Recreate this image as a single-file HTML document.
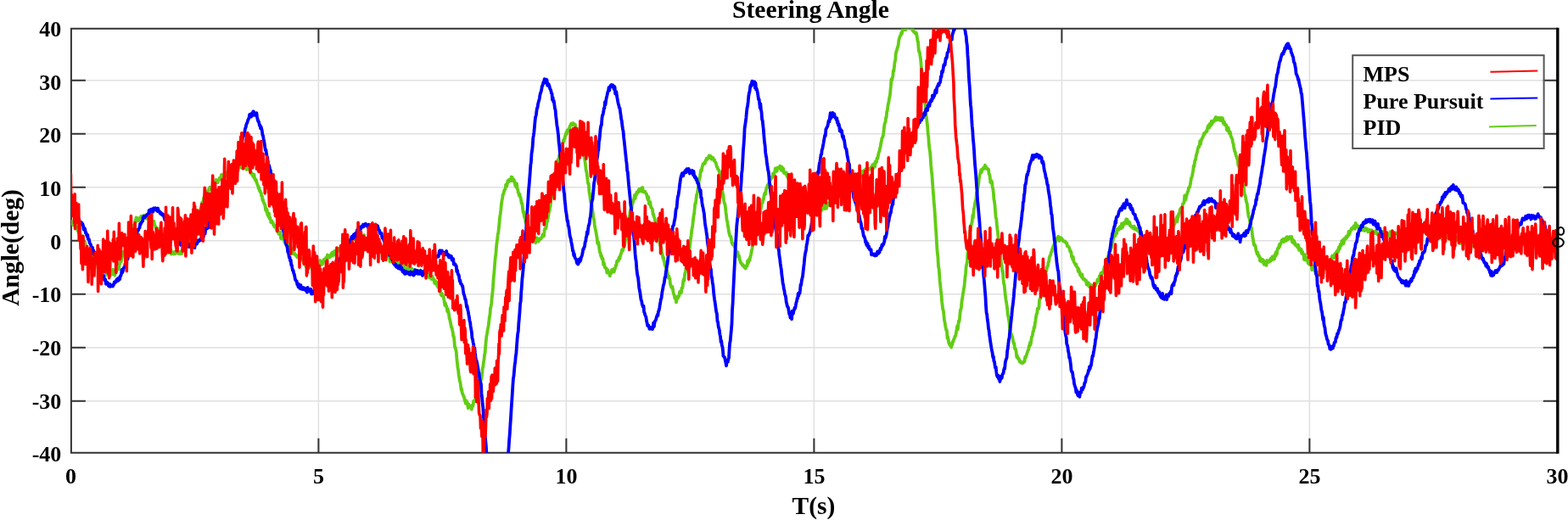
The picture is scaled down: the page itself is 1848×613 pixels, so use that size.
<!DOCTYPE html><html><head><meta charset="utf-8"><title>Steering Angle</title><style>html,body{margin:0;padding:0;background:#fff;}svg{display:block}</style></head><body>
<svg width="1848" height="613" viewBox="0 0 1848 613">
<rect x="0" y="0" width="1848" height="613" fill="#fff"/>
<defs><clipPath id="c"><rect x="83.9" y="33.7" width="1751.8999999999999" height="500.09999999999997"/></clipPath></defs>
<path d="M375.40 33.7V533.8M667.40 33.7V533.8M959.40 33.7V533.8M1251.40 33.7V533.8M1543.40 33.7V533.8M83.9 94.75H1835.8M83.9 157.75H1835.8M83.9 220.75H1835.8M83.9 283.75H1835.8M83.9 346.75H1835.8M83.9 409.75H1835.8M83.9 472.75H1835.8" stroke="#e0e0e0" stroke-width="1.5" fill="none"/>
<path d="M375.40 533.8v-17M375.40 33.7v17M667.40 533.8v-17M667.40 33.7v17M959.40 533.8v-17M959.40 33.7v17M1251.40 533.8v-17M1251.40 33.7v17M1543.40 533.8v-17M1543.40 33.7v17M83.9 94.75h17M1835.8 94.75h-17M83.9 157.75h17M1835.8 157.75h-17M83.9 220.75h17M1835.8 220.75h-17M83.9 283.75h17M1835.8 283.75h-17M83.9 346.75h17M1835.8 346.75h-17M83.9 409.75h17M1835.8 409.75h-17M83.9 472.75h17M1835.8 472.75h-17" stroke="#333" stroke-width="2" fill="none"/>
<path d="M1835.8 33.7H83.9V533.8H1835.8" stroke="#333" stroke-width="2" fill="none"/>
<g clip-path="url(#c)" fill="none" stroke-linejoin="round" stroke-linecap="round">
<polyline points="83.4,260.8 84.0,261.2 84.6,264.0 85.2,261.0 85.7,264.3 86.3,265.3 86.9,265.0 87.5,264.8 88.1,264.1 88.7,264.9 89.2,266.6 89.8,265.8 90.4,267.9 91.0,267.4 91.6,272.0 92.2,273.3 92.7,270.7 93.3,275.4 93.9,275.0 94.5,276.0 95.1,278.0 95.7,279.3 96.2,277.8 96.8,285.3 97.4,281.2 98.0,280.1 98.6,284.9 99.2,286.1 99.8,286.1 100.3,285.6 100.9,291.6 101.5,290.8 102.1,292.4 102.7,292.4 103.3,294.2 103.8,294.6 104.4,297.5 105.0,297.9 105.6,300.1 106.2,301.2 106.8,301.4 107.3,302.4 107.9,305.0 108.5,301.6 109.1,305.2 109.7,308.0 110.3,304.9 110.8,308.5 111.4,307.3 112.0,308.9 112.6,309.2 113.2,310.0 113.8,311.9 114.4,311.6 114.9,309.1 115.5,316.5 116.1,313.5 116.7,313.5 117.3,316.4 117.9,317.5 118.4,312.5 119.0,317.0 119.6,313.7 120.2,316.6 120.8,317.8 121.4,317.7 121.9,317.9 122.5,317.5 123.1,319.2 123.7,320.2 124.3,320.6 124.9,319.3 125.4,320.6 126.0,323.9 126.6,323.7 127.2,322.6 127.8,324.4 128.4,324.3 129.0,325.4 129.5,324.4 130.1,323.4 130.7,322.4 131.3,323.8 131.9,320.3 132.5,323.3 133.0,317.7 133.6,320.6 134.2,320.8 134.8,321.7 135.4,324.6 136.0,319.6 136.5,318.3 137.1,314.8 137.7,319.1 138.3,313.1 138.9,315.6 139.5,313.2 140.0,317.3 140.6,311.9 141.2,311.3 141.8,308.3 142.4,307.8 143.0,308.2 143.6,303.3 144.1,302.0 144.7,300.5 145.3,298.2 145.9,296.4 146.5,296.5 147.1,296.9 147.6,295.4 148.2,289.5 148.8,288.8 149.4,288.0 150.0,287.0 150.6,284.5 151.1,282.6 151.7,281.3 152.3,280.1 152.9,273.8 153.5,275.1 154.1,274.7 154.6,274.2 155.2,271.8 155.8,268.1 156.4,266.8 157.0,267.1 157.6,265.5 158.2,264.9 158.7,265.1 159.3,260.2 159.9,260.7 160.5,256.5 161.1,260.8 161.7,259.2 162.2,257.2 162.8,258.6 163.4,260.0 164.0,259.0 164.6,257.1 165.2,256.4 165.7,256.8 166.3,254.8 166.9,254.6 167.5,255.5 168.1,255.8 168.7,256.1 169.2,254.7 169.8,254.0 170.4,255.3 171.0,254.7 171.6,256.0 172.2,257.8 172.8,257.3 173.3,254.8 173.9,255.7 174.5,254.2 175.1,257.1 175.7,256.3 176.3,256.1 176.8,257.2 177.4,260.3 178.0,260.2 178.6,260.3 179.2,262.6 179.8,261.0 180.3,260.7 180.9,263.9 181.5,260.9 182.1,265.3 182.7,266.2 183.3,267.3 183.8,269.2 184.4,268.5 185.0,270.3 185.6,269.0 186.2,271.8 186.8,273.1 187.4,275.5 187.9,278.5 188.5,277.6 189.1,280.0 189.7,278.4 190.3,281.2 190.9,279.9 191.4,282.8 192.0,284.1 192.6,286.4 193.2,287.8 193.8,288.4 194.4,289.3 194.9,293.0 195.5,292.1 196.1,289.7 196.7,294.7 197.3,295.5 197.9,296.6 198.4,298.3 199.0,294.6 199.6,296.8 200.2,296.8 200.8,294.8 201.4,294.1 202.0,299.7 202.5,297.0 203.1,297.9 203.7,298.5 204.3,298.5 204.9,299.4 205.5,297.0 206.0,298.5 206.6,298.9 207.2,297.4 207.8,297.9 208.4,298.4 209.0,298.5 209.5,296.0 210.1,297.7 210.7,298.4 211.3,299.3 211.9,298.1 212.5,298.9 213.0,296.7 213.6,296.0 214.2,299.2 214.8,295.5 215.4,294.1 216.0,294.4 216.6,295.7 217.1,291.7 217.7,294.3 218.3,294.6 218.9,293.7 219.5,291.3 220.1,288.9 220.6,287.7 221.2,288.2 221.8,289.3 222.4,287.4 223.0,286.6 223.6,284.3 224.1,285.5 224.7,281.3 225.3,279.1 225.9,279.0 226.5,276.7 227.1,277.5 227.6,276.7 228.2,273.7 228.8,269.1 229.4,267.3 230.0,267.7 230.6,263.0 231.2,263.3 231.7,258.4 232.3,257.9 232.9,257.3 233.5,253.4 234.1,253.9 234.7,252.3 235.2,251.4 235.8,247.0 236.4,245.8 237.0,244.2 237.6,243.0 238.2,238.4 238.7,239.7 239.3,238.6 239.9,234.0 240.5,232.3 241.1,232.6 241.7,234.6 242.2,231.6 242.8,228.6 243.4,228.5 244.0,225.1 244.6,228.8 245.2,224.7 245.8,225.8 246.3,221.9 246.9,223.3 247.5,220.8 248.1,222.6 248.7,223.1 249.3,221.9 249.8,220.4 250.4,220.3 251.0,216.1 251.6,215.3 252.2,216.3 252.8,217.7 253.3,215.7 253.9,216.0 254.5,212.0 255.1,213.2 255.7,212.4 256.3,213.2 256.8,215.2 257.4,212.7 258.0,212.7 258.6,209.8 259.2,209.7 259.8,210.6 260.4,209.5 260.9,205.9 261.5,209.4 262.1,208.9 262.7,207.4 263.3,207.7 263.9,206.9 264.4,204.9 265.0,202.7 265.6,207.8 266.2,204.7 266.8,204.2 267.4,204.0 267.9,203.8 268.5,203.7 269.1,201.3 269.7,203.3 270.3,202.4 270.9,201.9 271.4,201.4 272.0,201.5 272.6,199.4 273.2,200.7 273.8,200.1 274.4,200.2 275.0,201.4 275.5,200.9 276.1,201.0 276.7,198.8 277.3,199.9 277.9,200.2 278.5,197.9 279.0,197.1 279.6,200.5 280.2,194.8 280.8,197.1 281.4,197.1 282.0,195.0 282.5,196.4 283.1,197.3 283.7,192.8 284.3,197.9 284.9,196.3 285.5,194.9 286.0,198.0 286.6,196.6 287.2,196.0 287.8,193.0 288.4,198.4 289.0,197.3 289.6,196.5 290.1,197.7 290.7,200.0 291.3,197.8 291.9,198.6 292.5,198.6 293.1,198.1 293.6,198.9 294.2,200.5 294.8,201.3 295.4,204.2 296.0,203.4 296.6,203.7 297.1,205.6 297.7,205.7 298.3,208.2 298.9,205.6 299.5,205.7 300.1,210.9 300.6,210.8 301.2,213.1 301.8,212.0 302.4,214.6 303.0,216.5 303.6,218.3 304.2,219.2 304.7,222.3 305.3,221.1 305.9,224.9 306.5,224.6 307.1,227.0 307.7,227.3 308.2,230.9 308.8,231.1 309.4,236.0 310.0,235.4 310.6,238.4 311.2,239.3 311.7,241.1 312.3,241.3 312.9,247.4 313.5,245.3 314.1,249.6 314.7,246.8 315.2,253.2 315.8,253.0 316.4,255.5 317.0,251.6 317.6,257.5 318.2,256.5 318.8,258.8 319.3,262.1 319.9,261.0 320.5,260.6 321.1,263.0 321.7,262.3 322.3,265.4 322.8,265.8 323.4,267.4 324.0,267.2 324.6,265.6 325.2,268.9 325.8,270.0 326.3,272.1 326.9,273.1 327.5,270.5 328.1,275.3 328.7,275.8 329.3,275.3 329.8,276.6 330.4,273.6 331.0,281.2 331.6,277.6 332.2,277.9 332.8,281.6 333.4,281.6 333.9,280.7 334.5,279.7 335.1,284.5 335.7,286.4 336.3,283.2 336.9,283.2 337.4,287.0 338.0,290.8 338.6,285.9 339.2,289.3 339.8,288.0 340.4,290.7 340.9,292.0 341.5,292.9 342.1,290.6 342.7,291.4 343.3,297.8 343.9,296.6 344.4,293.0 345.0,297.0 345.6,299.3 346.2,297.8 346.8,298.6 347.4,299.2 348.0,300.4 348.5,300.8 349.1,301.6 349.7,301.0 350.3,303.4 350.9,303.1 351.5,303.4 352.0,301.7 352.6,303.7 353.2,305.0 353.8,304.5 354.4,305.2 355.0,304.6 355.5,306.0 356.1,304.5 356.7,305.7 357.3,308.5 357.9,309.6 358.5,308.1 359.0,309.2 359.6,310.6 360.2,313.3 360.8,314.3 361.4,311.3 362.0,311.0 362.6,311.3 363.1,314.8 363.7,311.4 364.3,314.1 364.9,312.7 365.5,312.7 366.1,314.6 366.6,314.2 367.2,316.5 367.8,314.6 368.4,315.8 369.0,312.2 369.6,312.6 370.1,311.1 370.7,311.8 371.3,313.1 371.9,311.4 372.5,312.3 373.1,310.5 373.6,310.7 374.2,312.5 374.8,310.7 375.4,310.4 376.0,310.7 376.6,308.5 377.2,307.0 377.7,309.9 378.3,309.6 378.9,312.2 379.5,308.5 380.1,308.6 380.7,310.9 381.2,306.6 381.8,305.7 382.4,307.3 383.0,306.3 383.6,306.8 384.2,303.6 384.7,306.8 385.3,304.4 385.9,300.4 386.5,303.0 387.1,301.9 387.7,302.5 388.2,303.7 388.8,301.5 389.4,300.4 390.0,302.2 390.6,299.6 391.2,297.8 391.8,297.6 392.3,301.4 392.9,300.0 393.5,300.6 394.1,296.0 394.7,296.3 395.3,295.7 395.8,297.8 396.4,297.8 397.0,295.4 397.6,294.9 398.2,296.0 398.8,294.0 399.3,292.8 399.9,293.0 400.5,294.5 401.1,295.8 401.7,292.4 402.3,291.3 402.8,291.5 403.4,291.3 404.0,291.3 404.6,288.7 405.2,289.5 405.8,288.8 406.4,290.1 406.9,289.1 407.5,287.5 408.1,288.9 408.7,288.9 409.3,287.1 409.9,284.3 410.4,285.5 411.0,283.1 411.6,285.2 412.2,285.1 412.8,286.4 413.4,284.8 413.9,281.3 414.5,282.7 415.1,281.8 415.7,281.6 416.3,282.5 416.9,282.6 417.4,281.9 418.0,280.8 418.6,280.9 419.2,280.6 419.8,281.0 420.4,282.3 421.0,281.3 421.5,282.3 422.1,279.1 422.7,283.9 423.3,280.9 423.9,276.9 424.5,281.2 425.0,282.5 425.6,280.9 426.2,278.9 426.8,281.3 427.4,280.3 428.0,281.3 428.5,282.2 429.1,276.9 429.7,281.9 430.3,283.1 430.9,283.3 431.5,282.2 432.0,282.4 432.6,282.0 433.2,283.3 433.8,286.0 434.4,283.2 435.0,284.8 435.6,285.1 436.1,287.3 436.7,286.2 437.3,286.8 437.9,286.2 438.5,288.8 439.1,286.9 439.6,287.2 440.2,289.7 440.8,289.4 441.4,290.2 442.0,287.9 442.6,293.9 443.1,290.9 443.7,293.6 444.3,292.1 444.9,290.7 445.5,293.5 446.1,292.9 446.6,294.9 447.2,291.1 447.8,293.2 448.4,293.4 449.0,297.8 449.6,297.9 450.2,295.0 450.7,297.5 451.3,298.0 451.9,297.5 452.5,300.5 453.1,297.8 453.7,299.4 454.2,299.2 454.8,301.5 455.4,300.1 456.0,302.5 456.6,300.4 457.2,300.6 457.7,301.4 458.3,302.5 458.9,302.8 459.5,308.5 460.1,303.4 460.7,305.6 461.2,305.5 461.8,306.6 462.4,308.8 463.0,307.9 463.6,306.4 464.2,305.6 464.8,309.3 465.3,310.1 465.9,306.8 466.5,310.9 467.1,306.6 467.7,310.1 468.3,312.0 468.8,309.4 469.4,308.6 470.0,313.9 470.6,309.5 471.2,312.7 471.8,310.3 472.3,313.6 472.9,315.8 473.5,312.8 474.1,312.5 474.7,310.9 475.3,311.8 475.8,313.8 476.4,315.5 477.0,316.3 477.6,316.2 478.2,317.3 478.8,316.7 479.4,320.6 479.9,316.5 480.5,317.1 481.1,313.3 481.7,316.4 482.3,318.5 482.9,317.1 483.4,320.1 484.0,319.3 484.6,321.5 485.2,316.5 485.8,318.0 486.4,320.9 486.9,319.3 487.5,317.9 488.1,318.8 488.7,319.1 489.3,321.2 489.9,320.9 490.4,319.9 491.0,318.7 491.6,321.6 492.2,322.2 492.8,318.8 493.4,322.2 494.0,319.2 494.5,320.7 495.1,319.8 495.7,318.6 496.3,320.5 496.9,320.5 497.5,323.4 498.0,323.2 498.6,321.3 499.2,320.0 499.8,320.5 500.4,319.2 501.0,322.5 501.5,322.9 502.1,321.9 502.7,323.6 503.3,324.0 503.9,325.8 504.5,322.8 505.0,326.3 505.6,324.1 506.2,327.5 506.8,323.8 507.4,327.5 508.0,324.9 508.6,329.1 509.1,327.7 509.7,325.7 510.3,329.4 510.9,328.6 511.5,330.2 512.1,333.8 512.6,330.6 513.2,331.2 513.8,334.6 514.4,332.9 515.0,336.1 515.6,337.5 516.1,337.0 516.7,339.3 517.3,335.7 517.9,343.0 518.5,340.6 519.1,341.4 519.6,347.3 520.2,348.2 520.8,345.9 521.4,348.8 522.0,348.8 522.6,349.1 523.2,353.0 523.7,355.7 524.3,360.0 524.9,357.2 525.5,360.8 526.1,360.7 526.7,362.7 527.2,367.3 527.8,364.4 528.4,367.5 529.0,370.0 529.6,375.4 530.2,376.6 530.7,379.3 531.3,381.8 531.9,385.7 532.5,386.0 533.1,389.2 533.7,391.9 534.2,396.2 534.8,396.5 535.4,401.4 536.0,409.3 536.6,409.5 537.2,412.4 537.8,415.1 538.3,422.2 538.9,427.5 539.5,433.5 540.1,436.2 540.7,442.0 541.3,445.6 541.8,449.1 542.4,450.3 543.0,455.1 543.6,459.8 544.2,458.9 544.8,463.6 545.3,464.2 545.9,466.3 546.5,466.8 547.1,468.6 547.7,472.4 548.3,472.8 548.8,475.6 549.4,472.0 550.0,474.9 550.6,474.2 551.2,477.8 551.8,481.2 552.4,476.3 552.9,479.1 553.5,479.5 554.1,479.9 554.7,479.2 555.3,479.5 555.9,482.6 556.4,477.7 557.0,479.1 557.6,477.7 558.2,472.6 558.8,472.1 559.4,472.3 559.9,472.8 560.5,467.9 561.1,465.6 561.7,465.0 562.3,465.3 562.9,463.1 563.4,462.2 564.0,458.2 564.6,455.5 565.2,453.3 565.8,454.0 566.4,450.3 567.0,447.3 567.5,446.1 568.1,441.9 568.7,434.3 569.3,432.8 569.9,427.0 570.5,424.2 571.0,418.4 571.6,416.2 572.2,408.7 572.8,402.2 573.4,396.4 574.0,393.6 574.5,390.2 575.1,387.0 575.7,383.8 576.3,378.8 576.9,373.2 577.5,370.9 578.0,363.4 578.6,361.5 579.2,357.5 579.8,350.6 580.4,345.6 581.0,338.9 581.6,328.5 582.1,324.1 582.7,316.8 583.3,308.8 583.9,302.3 584.5,298.9 585.1,290.1 585.6,286.1 586.2,281.5 586.8,275.9 587.4,273.8 588.0,267.8 588.6,261.7 589.1,255.6 589.7,252.3 590.3,247.3 590.9,241.1 591.5,236.4 592.1,233.6 592.6,229.5 593.2,229.3 593.8,226.8 594.4,224.0 595.0,223.6 595.6,222.5 596.2,217.7 596.7,219.4 597.3,219.4 597.9,216.0 598.5,212.8 599.1,214.6 599.7,211.9 600.2,213.8 600.8,213.3 601.4,213.1 602.0,211.8 602.6,208.5 603.2,213.1 603.7,208.8 604.3,213.3 604.9,212.7 605.5,211.7 606.1,213.0 606.7,214.6 607.2,218.8 607.8,217.0 608.4,220.6 609.0,216.4 609.6,222.3 610.2,223.3 610.8,227.1 611.3,227.7 611.9,230.6 612.5,228.7 613.1,232.4 613.7,233.2 614.3,237.5 614.8,239.8 615.4,239.7 616.0,246.1 616.6,250.3 617.2,249.7 617.8,255.0 618.3,256.6 618.9,257.1 619.5,262.2 620.1,261.7 620.7,265.9 621.3,264.1 621.8,265.9 622.4,270.2 623.0,271.2 623.6,273.5 624.2,273.1 624.8,272.8 625.4,277.9 625.9,275.2 626.5,279.5 627.1,279.6 627.7,281.9 628.3,276.5 628.9,280.5 629.4,281.0 630.0,283.1 630.6,280.9 631.2,286.4 631.8,283.4 632.4,280.2 632.9,284.4 633.5,283.7 634.1,282.5 634.7,284.6 635.3,283.0 635.9,281.1 636.4,281.9 637.0,281.1 637.6,281.7 638.2,280.1 638.8,279.8 639.4,276.6 640.0,276.4 640.5,276.4 641.1,278.2 641.7,271.3 642.3,269.2 642.9,269.7 643.5,269.1 644.0,265.5 644.6,260.0 645.2,260.9 645.8,257.5 646.4,253.8 647.0,249.4 647.5,248.3 648.1,245.2 648.7,242.6 649.3,235.6 649.9,233.0 650.5,231.2 651.0,229.5 651.6,224.9 652.2,219.1 652.8,217.5 653.4,211.4 654.0,208.7 654.6,205.5 655.1,201.7 655.7,198.9 656.3,198.2 656.9,194.8 657.5,188.1 658.1,191.3 658.6,187.7 659.2,182.8 659.8,182.4 660.4,181.1 661.0,179.6 661.6,174.5 662.1,171.6 662.7,168.9 663.3,169.0 663.9,165.5 664.5,167.0 665.1,163.3 665.6,163.0 666.2,160.2 666.8,157.9 667.4,156.1 668.0,158.1 668.6,153.3 669.2,154.7 669.7,154.4 670.3,151.8 670.9,152.7 671.5,149.3 672.1,147.8 672.7,147.7 673.2,145.8 673.8,146.5 674.4,145.5 675.0,147.5 675.6,145.1 676.2,146.6 676.7,146.4 677.3,146.4 677.9,146.8 678.5,150.7 679.1,151.8 679.7,151.2 680.2,151.5 680.8,153.3 681.4,154.3 682.0,155.5 682.6,158.7 683.2,161.5 683.8,165.1 684.3,167.1 684.9,168.4 685.5,169.3 686.1,171.6 686.7,174.5 687.3,177.7 687.8,179.6 688.4,183.6 689.0,187.1 689.6,190.9 690.2,196.1 690.8,200.9 691.3,202.6 691.9,206.9 692.5,212.1 693.1,216.5 693.7,216.4 694.3,225.2 694.8,228.2 695.4,231.2 696.0,237.1 696.6,238.6 697.2,239.5 697.8,244.5 698.4,248.6 698.9,252.4 699.5,256.8 700.1,259.1 700.7,264.5 701.3,268.4 701.9,271.1 702.4,273.2 703.0,277.4 703.6,280.0 704.2,287.2 704.8,285.0 705.4,285.8 705.9,289.8 706.5,294.7 707.1,297.8 707.7,298.1 708.3,302.1 708.9,301.3 709.4,305.0 710.0,304.4 710.6,305.3 711.2,312.2 711.8,309.9 712.4,313.0 713.0,315.7 713.5,315.9 714.1,316.8 714.7,316.2 715.3,321.5 715.9,318.7 716.5,318.2 717.0,321.3 717.6,322.0 718.2,323.3 718.8,325.3 719.4,322.5 720.0,322.5 720.5,321.5 721.1,318.0 721.7,320.2 722.3,319.9 722.9,317.1 723.5,320.7 724.0,319.2 724.6,316.8 725.2,316.0 725.8,312.6 726.4,312.9 727.0,308.3 727.6,307.3 728.1,307.2 728.7,307.7 729.3,304.8 729.9,303.3 730.5,304.9 731.1,301.4 731.6,299.4 732.2,298.7 732.8,295.1 733.4,294.1 734.0,295.7 734.6,292.4 735.1,292.1 735.7,288.0 736.3,288.2 736.9,283.3 737.5,281.9 738.1,278.3 738.6,276.8 739.2,275.2 739.8,266.2 740.4,265.2 741.0,258.7 741.6,256.5 742.2,252.7 742.7,248.1 743.3,248.0 743.9,243.9 744.5,246.1 745.1,240.2 745.7,239.8 746.2,237.7 746.8,235.6 747.4,233.4 748.0,229.9 748.6,234.1 749.2,230.1 749.7,230.4 750.3,226.6 750.9,228.2 751.5,226.0 752.1,226.6 752.7,224.2 753.2,223.0 753.8,224.7 754.4,223.5 755.0,225.4 755.6,222.4 756.2,221.4 756.8,223.5 757.3,221.0 757.9,226.3 758.5,226.4 759.1,226.4 759.7,225.7 760.3,225.9 760.8,227.1 761.4,228.3 762.0,228.3 762.6,231.6 763.2,234.3 763.8,235.8 764.3,232.1 764.9,240.7 765.5,238.9 766.1,237.9 766.7,241.1 767.3,244.7 767.8,245.1 768.4,245.6 769.0,247.2 769.6,252.7 770.2,252.5 770.8,255.8 771.4,257.0 771.9,259.2 772.5,264.6 773.1,269.1 773.7,268.9 774.3,269.4 774.9,273.8 775.4,277.2 776.0,276.3 776.6,284.1 777.2,283.4 777.8,288.2 778.4,289.6 778.9,291.9 779.5,292.1 780.1,298.4 780.7,300.2 781.3,304.2 781.9,303.3 782.4,307.1 783.0,308.0 783.6,312.7 784.2,313.8 784.8,313.7 785.4,317.8 786.0,318.6 786.5,320.7 787.1,324.0 787.7,327.7 788.3,325.5 788.9,328.4 789.5,328.8 790.0,335.2 790.6,336.4 791.2,338.9 791.8,338.7 792.4,337.8 793.0,341.0 793.5,344.5 794.1,346.8 794.7,348.2 795.3,351.8 795.9,352.0 796.5,352.8 797.0,356.4 797.6,353.1 798.2,349.7 798.8,351.6 799.4,350.1 800.0,349.5 800.6,347.9 801.1,343.8 801.7,344.4 802.3,343.8 802.9,345.3 803.5,339.4 804.1,339.7 804.6,337.7 805.2,331.5 805.8,329.3 806.4,330.9 807.0,323.7 807.6,321.2 808.1,319.9 808.7,314.1 809.3,314.3 809.9,310.0 810.5,306.7 811.1,302.4 811.6,295.5 812.2,295.2 812.8,291.2 813.4,287.1 814.0,281.2 814.6,277.7 815.2,271.4 815.7,269.3 816.3,265.7 816.9,260.0 817.5,254.7 818.1,252.0 818.7,246.1 819.2,239.9 819.8,240.1 820.4,235.4 821.0,229.7 821.6,229.1 822.2,225.7 822.7,222.4 823.3,216.5 823.9,212.9 824.5,210.7 825.1,207.3 825.7,202.4 826.2,200.4 826.8,201.6 827.4,197.4 828.0,195.5 828.6,193.2 829.2,193.5 829.8,193.1 830.3,191.7 830.9,192.8 831.5,189.1 832.1,189.1 832.7,186.6 833.3,188.2 833.8,186.6 834.4,186.9 835.0,186.5 835.6,183.4 836.2,185.1 836.8,183.6 837.3,186.1 837.9,184.4 838.5,187.6 839.1,186.2 839.7,186.9 840.3,185.9 840.8,187.5 841.4,189.0 842.0,188.5 842.6,190.6 843.2,191.3 843.8,192.2 844.4,194.9 844.9,196.7 845.5,197.1 846.1,199.8 846.7,200.0 847.3,200.7 847.9,203.3 848.4,207.9 849.0,212.3 849.6,213.6 850.2,217.2 850.8,218.9 851.4,225.0 851.9,228.5 852.5,230.9 853.1,236.5 853.7,239.7 854.3,240.2 854.9,244.0 855.4,249.2 856.0,253.7 856.6,259.6 857.2,261.1 857.8,265.7 858.4,269.0 859.0,273.3 859.5,275.3 860.1,277.8 860.7,278.8 861.3,278.7 861.9,281.9 862.5,286.4 863.0,286.6 863.6,288.7 864.2,288.6 864.8,287.6 865.4,289.0 866.0,291.7 866.5,291.6 867.1,294.5 867.7,297.0 868.3,298.5 868.9,299.2 869.5,297.2 870.0,303.2 870.6,300.8 871.2,302.3 871.8,306.2 872.4,307.5 873.0,309.9 873.6,310.3 874.1,310.4 874.7,312.6 875.3,311.9 875.9,312.4 876.5,314.3 877.1,314.7 877.6,315.4 878.2,314.6 878.8,316.5 879.4,313.4 880.0,312.8 880.6,313.4 881.1,307.3 881.7,310.7 882.3,308.9 882.9,305.3 883.5,306.9 884.1,303.1 884.6,302.3 885.2,299.3 885.8,295.9 886.4,293.1 887.0,289.8 887.6,288.2 888.2,285.5 888.7,284.0 889.3,283.1 889.9,277.8 890.5,277.3 891.1,274.5 891.7,268.0 892.2,266.0 892.8,263.7 893.4,259.8 894.0,256.6 894.6,257.2 895.2,252.5 895.7,251.7 896.3,247.2 896.9,246.1 897.5,240.5 898.1,239.5 898.7,239.3 899.2,235.8 899.8,235.5 900.4,231.4 901.0,228.6 901.6,227.2 902.2,228.9 902.8,224.7 903.3,221.9 903.9,220.9 904.5,218.1 905.1,220.6 905.7,216.3 906.3,216.8 906.8,214.0 907.4,212.4 908.0,210.6 908.6,211.3 909.2,208.8 909.8,209.7 910.3,208.9 910.9,204.7 911.5,204.6 912.1,206.0 912.7,203.9 913.3,201.7 913.8,198.5 914.4,198.6 915.0,198.3 915.6,201.9 916.2,198.9 916.8,197.7 917.4,197.6 917.9,197.5 918.5,198.6 919.1,195.6 919.7,196.3 920.3,199.1 920.9,200.9 921.4,196.6 922.0,201.2 922.6,199.1 923.2,198.6 923.8,203.8 924.4,202.7 924.9,204.5 925.5,203.9 926.1,205.1 926.7,203.4 927.3,206.5 927.9,208.3 928.4,207.5 929.0,210.6 929.6,211.7 930.2,208.5 930.8,214.1 931.4,214.5 932.0,214.5 932.5,217.0 933.1,219.6 933.7,215.6 934.3,219.4 934.9,220.1 935.5,220.8 936.0,222.9 936.6,224.1 937.2,223.3 937.8,220.8 938.4,224.6 939.0,225.6 939.5,230.3 940.1,229.0 940.7,231.9 941.3,229.8 941.9,232.3 942.5,232.8 943.0,233.9 943.6,235.5 944.2,237.7 944.8,235.2 945.4,239.0 946.0,239.5 946.6,238.8 947.1,240.3 947.7,239.5 948.3,239.1 948.9,241.0 949.5,241.9 950.1,242.8 950.6,242.2 951.2,247.1 951.8,244.2 952.4,246.8 953.0,247.8 953.6,246.2 954.1,247.2 954.7,246.0 955.3,245.4 955.9,250.9 956.5,247.4 957.1,244.2 957.6,245.9 958.2,245.0 958.8,247.0 959.4,249.4 960.0,248.8 960.6,245.8 961.2,245.3 961.7,247.9 962.3,247.0 962.9,246.0 963.5,249.0 964.1,246.7 964.7,243.4 965.2,242.3 965.8,245.8 966.4,242.5 967.0,246.0 967.6,246.3 968.2,248.3 968.7,243.0 969.3,244.9 969.9,240.4 970.5,243.3 971.1,243.3 971.7,246.2 972.2,240.8 972.8,243.5 973.4,242.9 974.0,245.8 974.6,240.5 975.2,240.0 975.8,242.1 976.3,240.6 976.9,239.6 977.5,238.2 978.1,239.0 978.7,235.9 979.3,238.4 979.8,238.4 980.4,237.6 981.0,240.2 981.6,236.8 982.2,233.3 982.8,233.8 983.3,234.9 983.9,232.3 984.5,235.4 985.1,232.0 985.7,230.1 986.3,229.1 986.8,230.8 987.4,227.5 988.0,225.4 988.6,228.4 989.2,226.0 989.8,229.0 990.4,229.0 990.9,224.4 991.5,224.7 992.1,223.8 992.7,224.4 993.3,223.3 993.9,220.9 994.4,218.9 995.0,221.3 995.6,222.9 996.2,217.7 996.8,218.1 997.4,217.4 997.9,217.6 998.5,213.6 999.1,216.6 999.7,215.3 1000.3,218.5 1000.9,216.0 1001.4,215.6 1002.0,214.1 1002.6,213.0 1003.2,214.2 1003.8,209.8 1004.4,213.8 1005.0,212.3 1005.5,210.8 1006.1,212.7 1006.7,209.4 1007.3,208.8 1007.9,209.8 1008.5,205.9 1009.0,208.4 1009.6,207.6 1010.2,209.2 1010.8,209.9 1011.4,207.8 1012.0,206.9 1012.5,206.7 1013.1,204.4 1013.7,209.0 1014.3,206.6 1014.9,207.3 1015.5,202.0 1016.0,204.6 1016.6,204.1 1017.2,204.7 1017.8,201.1 1018.4,202.9 1019.0,201.5 1019.6,204.8 1020.1,199.4 1020.7,200.4 1021.3,199.9 1021.9,198.6 1022.5,200.6 1023.1,200.3 1023.6,198.7 1024.2,198.9 1024.8,199.7 1025.4,198.9 1026.0,199.5 1026.6,197.2 1027.1,196.5 1027.7,197.6 1028.3,194.2 1028.9,199.1 1029.5,196.6 1030.1,192.9 1030.6,195.6 1031.2,196.4 1031.8,190.4 1032.4,190.2 1033.0,191.3 1033.6,186.3 1034.2,187.1 1034.7,185.4 1035.3,181.3 1035.9,179.5 1036.5,178.1 1037.1,174.5 1037.7,173.1 1038.2,169.1 1038.8,166.8 1039.4,163.0 1040.0,162.2 1040.6,160.8 1041.2,157.8 1041.7,153.1 1042.3,147.2 1042.9,145.1 1043.5,144.2 1044.1,138.4 1044.7,138.3 1045.2,131.5 1045.8,130.3 1046.4,125.1 1047.0,121.9 1047.6,119.6 1048.2,114.9 1048.8,113.3 1049.3,107.8 1049.9,102.0 1050.5,93.4 1051.1,94.9 1051.7,92.1 1052.3,90.1 1052.8,83.2 1053.4,83.7 1054.0,78.5 1054.6,72.7 1055.2,71.4 1055.8,63.3 1056.3,60.5 1056.9,59.8 1057.5,56.7 1058.1,55.2 1058.7,52.9 1059.3,47.9 1059.8,45.5 1060.4,43.9 1061.0,42.1 1061.6,41.7 1062.2,38.6 1062.8,40.1 1063.4,36.5 1063.9,33.3 1064.5,32.9 1065.1,35.2 1065.7,34.6 1066.3,31.4 1066.9,30.4 1067.4,35.2 1068.0,33.2 1068.6,31.9 1069.2,30.2 1069.8,33.3 1070.4,30.8 1070.9,32.3 1071.5,28.1 1072.1,31.3 1072.7,32.4 1073.3,32.9 1073.9,31.0 1074.4,32.0 1075.0,35.2 1075.6,33.7 1076.2,36.7 1076.8,36.4 1077.4,37.9 1078.0,38.7 1078.5,38.4 1079.1,39.7 1079.7,38.5 1080.3,40.0 1080.9,44.2 1081.5,48.7 1082.0,49.1 1082.6,57.4 1083.2,61.3 1083.8,61.3 1084.4,65.7 1085.0,69.3 1085.5,75.6 1086.1,82.0 1086.7,85.9 1087.3,89.6 1087.9,97.4 1088.5,103.1 1089.0,110.2 1089.6,115.9 1090.2,118.8 1090.8,125.4 1091.4,133.8 1092.0,139.5 1092.6,144.5 1093.1,148.6 1093.7,157.2 1094.3,161.6 1094.9,170.8 1095.5,175.6 1096.1,179.2 1096.6,185.0 1097.2,194.9 1097.8,201.3 1098.4,206.1 1099.0,215.4 1099.6,223.3 1100.1,229.5 1100.7,237.8 1101.3,244.3 1101.9,252.9 1102.5,263.5 1103.1,271.4 1103.6,280.0 1104.2,290.6 1104.8,298.3 1105.4,302.9 1106.0,314.0 1106.6,316.6 1107.2,324.3 1107.7,331.5 1108.3,336.7 1108.9,342.8 1109.5,347.5 1110.1,355.5 1110.7,360.3 1111.2,365.0 1111.8,365.9 1112.4,371.2 1113.0,377.6 1113.6,380.2 1114.2,384.3 1114.7,386.6 1115.3,389.6 1115.9,389.5 1116.5,398.9 1117.1,397.1 1117.7,400.5 1118.2,404.4 1118.8,405.2 1119.4,407.0 1120.0,406.9 1120.6,405.7 1121.2,409.5 1121.8,404.5 1122.3,406.4 1122.9,402.4 1123.5,402.8 1124.1,399.9 1124.7,399.3 1125.3,396.6 1125.8,396.2 1126.4,395.5 1127.0,390.9 1127.6,388.6 1128.2,384.2 1128.8,388.4 1129.3,383.2 1129.9,378.5 1130.5,379.1 1131.1,374.2 1131.7,367.0 1132.3,364.4 1132.8,364.1 1133.4,356.4 1134.0,352.6 1134.6,348.9 1135.2,345.1 1135.8,340.9 1136.4,338.2 1136.9,333.1 1137.5,326.4 1138.1,322.2 1138.7,313.9 1139.3,311.6 1139.9,309.1 1140.4,300.0 1141.0,293.3 1141.6,287.7 1142.2,283.2 1142.8,280.1 1143.4,272.2 1143.9,271.7 1144.5,265.7 1145.1,263.6 1145.7,261.5 1146.3,254.0 1146.9,256.8 1147.4,250.9 1148.0,245.7 1148.6,243.7 1149.2,238.8 1149.8,236.9 1150.4,234.2 1151.0,226.8 1151.5,227.0 1152.1,223.1 1152.7,220.6 1153.3,216.1 1153.9,210.1 1154.5,206.9 1155.0,204.8 1155.6,203.7 1156.2,200.2 1156.8,203.1 1157.4,200.1 1158.0,199.3 1158.5,199.6 1159.1,197.6 1159.7,198.6 1160.3,198.7 1160.9,194.7 1161.5,196.7 1162.0,196.5 1162.6,198.9 1163.2,198.3 1163.8,199.6 1164.4,200.1 1165.0,199.5 1165.6,205.0 1166.1,205.8 1166.7,207.9 1167.3,215.1 1167.9,213.5 1168.5,213.2 1169.1,214.7 1169.6,220.3 1170.2,222.1 1170.8,226.9 1171.4,235.0 1172.0,237.7 1172.6,242.6 1173.1,249.6 1173.7,256.7 1174.3,257.8 1174.9,265.4 1175.5,270.8 1176.1,275.1 1176.6,281.2 1177.2,283.8 1177.8,289.4 1178.4,293.7 1179.0,299.7 1179.6,306.8 1180.2,310.6 1180.7,313.7 1181.3,320.3 1181.9,319.6 1182.5,329.2 1183.1,334.4 1183.7,336.4 1184.2,341.7 1184.8,347.6 1185.4,352.6 1186.0,356.1 1186.6,360.0 1187.2,364.4 1187.7,370.3 1188.3,373.2 1188.9,376.4 1189.5,380.2 1190.1,389.7 1190.7,389.4 1191.2,392.0 1191.8,393.7 1192.4,395.5 1193.0,396.7 1193.6,399.6 1194.2,403.1 1194.8,405.2 1195.3,404.7 1195.9,410.7 1196.5,411.4 1197.1,411.5 1197.7,415.4 1198.3,421.1 1198.8,419.0 1199.4,421.9 1200.0,422.9 1200.6,422.4 1201.2,424.5 1201.8,426.6 1202.3,425.6 1202.9,426.9 1203.5,427.7 1204.1,427.5 1204.7,427.5 1205.3,428.1 1205.8,427.7 1206.4,426.1 1207.0,426.6 1207.6,426.0 1208.2,420.6 1208.8,421.6 1209.4,419.7 1209.9,418.2 1210.5,416.3 1211.1,414.5 1211.7,412.6 1212.3,412.1 1212.9,407.5 1213.4,408.2 1214.0,403.7 1214.6,406.5 1215.2,403.0 1215.8,397.5 1216.4,396.8 1216.9,395.1 1217.5,390.7 1218.1,390.2 1218.7,385.6 1219.3,386.3 1219.9,380.6 1220.4,378.1 1221.0,373.4 1221.6,370.1 1222.2,370.1 1222.8,363.6 1223.4,364.5 1224.0,364.1 1224.5,362.0 1225.1,353.2 1225.7,353.1 1226.3,351.3 1226.9,348.8 1227.5,346.7 1228.0,340.3 1228.6,340.0 1229.2,334.5 1229.8,335.1 1230.4,336.0 1231.0,328.4 1231.5,327.8 1232.1,325.0 1232.7,319.6 1233.3,319.9 1233.9,315.2 1234.5,314.5 1235.0,313.2 1235.6,308.9 1236.2,308.3 1236.8,303.3 1237.4,301.7 1238.0,301.2 1238.6,298.5 1239.1,296.9 1239.7,296.5 1240.3,292.8 1240.9,292.8 1241.5,289.7 1242.1,290.5 1242.6,287.3 1243.2,285.3 1243.8,285.9 1244.4,284.1 1245.0,283.4 1245.6,280.7 1246.1,282.5 1246.7,280.5 1247.3,278.8 1247.9,280.8 1248.5,284.0 1249.1,281.4 1249.6,280.1 1250.2,282.4 1250.8,280.5 1251.4,281.6 1252.0,282.2 1252.6,283.7 1253.2,284.4 1253.7,284.4 1254.3,284.4 1254.9,284.1 1255.5,284.7 1256.1,286.3 1256.7,286.3 1257.2,286.3 1257.8,290.1 1258.4,289.6 1259.0,290.7 1259.6,291.0 1260.2,292.5 1260.7,294.0 1261.3,296.6 1261.9,295.8 1262.5,298.2 1263.1,303.0 1263.7,302.1 1264.2,305.7 1264.8,302.9 1265.4,308.0 1266.0,309.4 1266.6,310.0 1267.2,311.8 1267.8,312.7 1268.3,311.4 1268.9,314.6 1269.5,314.9 1270.1,315.6 1270.7,320.0 1271.3,317.0 1271.8,319.7 1272.4,320.4 1273.0,324.3 1273.6,322.7 1274.2,324.4 1274.8,326.8 1275.3,323.3 1275.9,327.0 1276.5,329.1 1277.1,329.2 1277.7,328.8 1278.3,329.2 1278.8,330.7 1279.4,330.3 1280.0,330.5 1280.6,335.3 1281.2,334.7 1281.8,336.0 1282.4,334.9 1282.9,333.3 1283.5,335.0 1284.1,338.1 1284.7,337.4 1285.3,335.6 1285.9,338.3 1286.4,337.9 1287.0,337.4 1287.6,340.8 1288.2,336.6 1288.8,337.1 1289.4,336.4 1289.9,338.4 1290.5,337.6 1291.1,336.6 1291.7,334.6 1292.3,334.1 1292.9,333.1 1293.4,329.5 1294.0,329.3 1294.6,331.4 1295.2,330.2 1295.8,325.3 1296.4,327.3 1297.0,323.5 1297.5,321.9 1298.1,324.1 1298.7,322.4 1299.3,320.7 1299.9,321.0 1300.5,319.9 1301.0,317.7 1301.6,314.2 1302.2,314.7 1302.8,312.7 1303.4,311.4 1304.0,311.1 1304.5,304.9 1305.1,309.1 1305.7,304.6 1306.3,300.9 1306.9,302.2 1307.5,297.3 1308.0,294.4 1308.6,295.8 1309.2,292.1 1309.8,292.2 1310.4,287.5 1311.0,286.2 1311.6,283.9 1312.1,280.2 1312.7,279.8 1313.3,276.8 1313.9,276.4 1314.5,278.0 1315.1,274.6 1315.6,273.2 1316.2,275.2 1316.8,269.9 1317.4,271.0 1318.0,269.6 1318.6,270.8 1319.1,268.5 1319.7,267.4 1320.3,267.7 1320.9,266.4 1321.5,269.3 1322.1,263.3 1322.6,266.7 1323.2,267.8 1323.8,265.4 1324.4,264.7 1325.0,262.1 1325.6,264.0 1326.2,261.7 1326.7,263.4 1327.3,258.3 1327.9,260.8 1328.5,258.6 1329.1,263.5 1329.7,261.1 1330.2,263.9 1330.8,261.9 1331.4,262.1 1332.0,266.2 1332.6,266.0 1333.2,266.5 1333.7,267.6 1334.3,266.9 1334.9,267.7 1335.5,269.0 1336.1,267.0 1336.7,266.8 1337.2,270.2 1337.8,269.5 1338.4,269.1 1339.0,270.0 1339.6,271.3 1340.2,269.5 1340.8,270.1 1341.3,271.0 1341.9,273.1 1342.5,270.4 1343.1,271.5 1343.7,275.9 1344.3,276.6 1344.8,275.9 1345.4,280.5 1346.0,280.2 1346.6,282.5 1347.2,285.3 1347.8,286.2 1348.3,289.9 1348.9,289.7 1349.5,293.2 1350.1,287.5 1350.7,289.6 1351.3,290.6 1351.8,292.7 1352.4,292.3 1353.0,292.4 1353.6,293.4 1354.2,294.2 1354.8,297.6 1355.4,296.0 1355.9,298.0 1356.5,299.5 1357.1,299.9 1357.7,297.8 1358.3,297.2 1358.9,301.3 1359.4,296.7 1360.0,297.4 1360.6,300.5 1361.2,300.7 1361.8,300.2 1362.4,298.6 1362.9,300.7 1363.5,301.7 1364.1,299.3 1364.7,302.8 1365.3,299.0 1365.9,297.0 1366.4,297.9 1367.0,296.7 1367.6,296.6 1368.2,295.7 1368.8,295.9 1369.4,296.8 1370.0,295.2 1370.5,294.2 1371.1,291.3 1371.7,289.9 1372.3,291.0 1372.9,292.0 1373.5,291.1 1374.0,289.3 1374.6,286.0 1375.2,286.6 1375.8,285.9 1376.4,285.4 1377.0,281.1 1377.5,280.2 1378.1,278.9 1378.7,276.7 1379.3,272.4 1379.9,273.6 1380.5,269.1 1381.0,268.4 1381.6,268.9 1382.2,266.2 1382.8,266.5 1383.4,266.3 1384.0,264.1 1384.6,263.9 1385.1,260.4 1385.7,259.9 1386.3,257.8 1386.9,256.1 1387.5,261.0 1388.1,254.3 1388.6,256.3 1389.2,251.9 1389.8,252.2 1390.4,249.4 1391.0,246.1 1391.6,249.6 1392.1,245.3 1392.7,244.4 1393.3,245.9 1393.9,240.5 1394.5,240.0 1395.1,239.4 1395.6,238.3 1396.2,230.5 1396.8,234.7 1397.4,235.3 1398.0,232.3 1398.6,229.8 1399.2,228.2 1399.7,226.0 1400.3,225.7 1400.9,221.4 1401.5,221.2 1402.1,220.6 1402.7,217.8 1403.2,215.1 1403.8,210.9 1404.4,209.0 1405.0,207.7 1405.6,204.3 1406.2,201.1 1406.7,195.3 1407.3,196.5 1407.9,191.9 1408.5,188.6 1409.1,188.5 1409.7,184.1 1410.2,181.7 1410.8,180.5 1411.4,177.0 1412.0,174.6 1412.6,172.7 1413.2,173.2 1413.8,171.0 1414.3,166.1 1414.9,170.1 1415.5,166.6 1416.1,164.1 1416.7,163.9 1417.3,161.8 1417.8,161.4 1418.4,159.2 1419.0,157.2 1419.6,158.5 1420.2,156.7 1420.8,156.1 1421.3,155.7 1421.9,154.1 1422.5,154.9 1423.1,151.1 1423.7,148.8 1424.3,147.9 1424.8,147.8 1425.4,150.5 1426.0,145.7 1426.6,148.4 1427.2,146.5 1427.8,142.7 1428.4,146.6 1428.9,142.8 1429.5,142.9 1430.1,142.9 1430.7,143.4 1431.3,140.7 1431.9,141.6 1432.4,138.7 1433.0,138.0 1433.6,141.7 1434.2,140.0 1434.8,139.5 1435.4,140.8 1435.9,140.6 1436.5,138.8 1437.1,139.4 1437.7,141.9 1438.3,140.4 1438.9,139.1 1439.4,142.3 1440.0,142.4 1440.6,139.0 1441.2,140.1 1441.8,145.5 1442.4,145.8 1443.0,143.9 1443.5,147.2 1444.1,146.7 1444.7,147.9 1445.3,147.3 1445.9,153.2 1446.5,153.7 1447.0,153.2 1447.6,150.7 1448.2,153.6 1448.8,157.2 1449.4,155.2 1450.0,156.4 1450.5,159.7 1451.1,161.8 1451.7,162.7 1452.3,163.7 1452.9,167.6 1453.5,169.3 1454.0,172.6 1454.6,175.5 1455.2,178.6 1455.8,179.1 1456.4,182.2 1457.0,184.2 1457.6,184.6 1458.1,187.4 1458.7,189.0 1459.3,195.1 1459.9,194.0 1460.5,198.1 1461.1,200.7 1461.6,203.2 1462.2,202.3 1462.8,205.4 1463.4,210.3 1464.0,213.6 1464.6,214.4 1465.1,218.0 1465.7,217.6 1466.3,225.6 1466.9,229.3 1467.5,230.1 1468.1,233.1 1468.6,236.3 1469.2,238.7 1469.8,240.0 1470.4,247.1 1471.0,250.7 1471.6,255.9 1472.2,255.8 1472.7,257.8 1473.3,262.5 1473.9,263.3 1474.5,268.3 1475.1,269.0 1475.7,274.0 1476.2,279.3 1476.8,281.6 1477.4,285.9 1478.0,289.0 1478.6,288.3 1479.2,289.7 1479.7,290.1 1480.3,295.0 1480.9,296.7 1481.5,299.4 1482.1,297.3 1482.7,299.5 1483.2,302.2 1483.8,301.3 1484.4,302.6 1485.0,307.5 1485.6,304.3 1486.2,306.2 1486.8,307.9 1487.3,308.6 1487.9,305.9 1488.5,306.8 1489.1,306.7 1489.7,311.8 1490.3,311.2 1490.8,308.8 1491.4,312.1 1492.0,311.2 1492.6,312.7 1493.2,306.8 1493.8,307.7 1494.3,308.3 1494.9,308.3 1495.5,308.9 1496.1,308.4 1496.7,306.3 1497.3,307.9 1497.8,304.3 1498.4,306.4 1499.0,306.5 1499.6,302.4 1500.2,304.1 1500.8,302.4 1501.4,303.3 1501.9,305.5 1502.5,300.2 1503.1,302.2 1503.7,297.2 1504.3,300.1 1504.9,299.2 1505.4,294.4 1506.0,292.8 1506.6,291.9 1507.2,292.6 1507.8,288.0 1508.4,290.4 1508.9,287.7 1509.5,287.1 1510.1,285.6 1510.7,282.9 1511.3,284.7 1511.9,282.4 1512.4,281.8 1513.0,285.2 1513.6,284.0 1514.2,282.4 1514.8,282.4 1515.4,280.6 1516.0,283.9 1516.5,279.4 1517.1,279.2 1517.7,280.5 1518.3,282.3 1518.9,280.0 1519.5,280.8 1520.0,279.1 1520.6,280.4 1521.2,279.4 1521.8,281.7 1522.4,279.2 1523.0,285.7 1523.5,284.4 1524.1,282.8 1524.7,286.7 1525.3,284.0 1525.9,288.0 1526.5,286.8 1527.0,289.3 1527.6,289.4 1528.2,289.3 1528.8,290.6 1529.4,291.8 1530.0,288.5 1530.6,292.7 1531.1,294.9 1531.7,292.7 1532.3,293.6 1532.9,293.8 1533.5,293.7 1534.1,298.8 1534.6,296.4 1535.2,297.1 1535.8,299.7 1536.4,300.2 1537.0,306.1 1537.6,303.1 1538.1,300.1 1538.7,306.6 1539.3,305.4 1539.9,304.9 1540.5,305.2 1541.1,304.3 1541.6,310.4 1542.2,308.3 1542.8,307.7 1543.4,311.9 1544.0,310.7 1544.6,308.5 1545.2,310.3 1545.7,312.4 1546.3,318.2 1546.9,315.2 1547.5,315.2 1548.1,317.2 1548.7,317.6 1549.2,313.5 1549.8,319.4 1550.4,321.3 1551.0,320.0 1551.6,321.5 1552.2,322.0 1552.7,322.1 1553.3,321.1 1553.9,322.2 1554.5,324.6 1555.1,323.0 1555.7,322.0 1556.2,323.2 1556.8,320.3 1557.4,320.4 1558.0,322.5 1558.6,319.7 1559.2,316.3 1559.8,316.1 1560.3,317.8 1560.9,315.3 1561.5,316.9 1562.1,317.2 1562.7,313.1 1563.3,312.7 1563.8,311.4 1564.4,311.5 1565.0,310.2 1565.6,310.8 1566.2,308.6 1566.8,307.3 1567.3,308.0 1567.9,305.9 1568.5,309.2 1569.1,307.0 1569.7,302.7 1570.3,301.5 1570.8,303.1 1571.4,303.0 1572.0,304.0 1572.6,300.7 1573.2,299.3 1573.8,302.0 1574.4,298.0 1574.9,297.3 1575.5,296.5 1576.1,298.0 1576.7,294.5 1577.3,296.7 1577.9,291.1 1578.4,292.2 1579.0,293.3 1579.6,288.3 1580.2,287.6 1580.8,289.4 1581.4,284.0 1581.9,288.0 1582.5,285.0 1583.1,282.6 1583.7,287.1 1584.3,281.1 1584.9,281.9 1585.4,281.0 1586.0,281.8 1586.6,278.8 1587.2,280.3 1587.8,279.3 1588.4,277.7 1589.0,278.0 1589.5,272.8 1590.1,276.5 1590.7,274.8 1591.3,273.2 1591.9,271.9 1592.5,269.9 1593.0,269.1 1593.6,270.1 1594.2,269.6 1594.8,268.3 1595.4,266.5 1596.0,266.2 1596.5,267.7 1597.1,269.8 1597.7,262.9 1598.3,264.7 1598.9,265.7 1599.5,265.6 1600.0,267.0 1600.6,267.8 1601.2,266.9 1601.8,266.9 1602.4,267.7 1603.0,269.2 1603.6,267.6 1604.1,266.4 1604.7,268.4 1605.3,267.8 1605.9,271.4 1606.5,268.7 1607.1,268.9 1607.6,270.9 1608.2,272.0 1608.8,268.9 1609.4,271.1 1610.0,269.3 1610.6,270.9 1611.1,269.5 1611.7,271.3 1612.3,273.4 1612.9,271.4 1613.5,272.1 1614.1,270.9 1614.6,272.9 1615.2,273.1 1615.8,271.5 1616.4,271.3 1617.0,272.3 1617.6,272.1 1618.2,273.4 1618.7,273.1 1619.3,273.2 1619.9,274.2 1620.5,274.9 1621.1,275.0 1621.7,271.6 1622.2,275.4 1622.8,275.9 1623.4,276.1 1624.0,275.6 1624.6,275.2 1625.2,277.3 1625.7,278.7 1626.3,275.1 1626.9,278.1 1627.5,275.2 1628.1,275.3 1628.7,273.7 1629.2,272.9 1629.8,275.0 1630.4,276.4 1631.0,277.4 1631.6,276.8 1632.2,275.5 1632.8,278.8 1633.3,275.4 1633.9,275.6 1634.5,274.5 1635.1,276.1 1635.7,275.4 1636.3,276.7 1636.8,276.3 1637.4,278.4 1638.0,275.4 1638.6,273.1 1639.2,275.3 1639.8,275.0 1640.3,277.1 1640.9,273.3 1641.5,276.8 1642.1,274.3 1642.7,275.4 1643.3,277.1 1643.8,273.9 1644.4,275.5 1645.0,275.3 1645.6,274.8 1646.2,275.6 1646.8,276.2 1647.4,274.8 1647.9,276.2 1648.5,275.5 1649.1,276.6 1649.7,277.9 1650.3,276.6 1650.9,276.3 1651.4,275.5 1652.0,273.7 1652.6,278.2 1653.2,275.4 1653.8,279.0 1654.4,277.2 1654.9,276.3 1655.5,279.1 1656.1,278.4 1656.7,275.2 1657.3,275.2 1657.9,275.4 1658.4,276.4 1659.0,271.6 1659.6,275.2 1660.2,276.1 1660.8,272.0 1661.4,273.5 1662.0,274.9 1662.5,272.3 1663.1,273.8 1663.7,272.8 1664.3,273.3 1664.9,275.1 1665.5,271.8 1666.0,272.9 1666.6,274.6 1667.2,274.1 1667.8,271.2 1668.4,273.2 1669.0,272.4 1669.5,271.3 1670.1,272.0 1670.7,274.5 1671.3,271.0 1671.9,270.4 1672.5,270.5 1673.0,269.3 1673.6,271.2 1674.2,270.6 1674.8,269.3 1675.4,272.3 1676.0,269.1 1676.6,269.2 1677.1,270.8 1677.7,269.3 1678.3,270.9 1678.9,273.8 1679.5,270.8 1680.1,272.2 1680.6,272.3 1681.2,272.9 1681.8,271.2 1682.4,272.7 1683.0,274.9 1683.6,273.2 1684.1,273.1 1684.7,275.6 1685.3,275.4 1685.9,275.5 1686.5,276.1 1687.1,274.9 1687.6,274.1 1688.2,272.9 1688.8,274.3 1689.4,274.8 1690.0,274.8 1690.6,274.7 1691.2,277.6 1691.7,276.1 1692.3,276.9 1692.9,277.8 1693.5,278.5 1694.1,278.7 1694.7,278.5 1695.2,280.2 1695.8,277.5 1696.4,278.5 1697.0,278.4 1697.6,278.2 1698.2,277.7 1698.7,279.9 1699.3,279.2 1699.9,281.7 1700.5,282.7 1701.1,282.4 1701.7,277.0 1702.2,282.4 1702.8,278.9 1703.4,277.4 1704.0,280.5 1704.6,277.4 1705.2,277.1 1705.8,278.6 1706.3,276.5 1706.9,279.3 1707.5,281.5 1708.1,279.7 1708.7,281.3 1709.3,282.7 1709.8,282.8 1710.4,277.3 1711.0,281.9 1711.6,281.2 1712.2,282.3 1712.8,281.1 1713.3,281.8 1713.9,282.2 1714.5,283.6 1715.1,284.1 1715.7,283.2 1716.3,281.7 1716.8,279.0 1717.4,280.8 1718.0,279.8 1718.6,282.0 1719.2,283.1 1719.8,285.3 1720.4,283.4 1720.9,287.0 1721.5,284.3 1722.1,281.4 1722.7,283.7 1723.3,282.6 1723.9,285.2 1724.4,287.0 1725.0,285.8 1725.6,285.9 1726.2,283.6 1726.8,282.6 1727.4,287.0 1727.9,286.6 1728.5,286.5 1729.1,287.0 1729.7,288.6 1730.3,286.7 1730.9,286.4 1731.4,286.6 1732.0,289.2 1732.6,287.7 1733.2,290.4 1733.8,286.3 1734.4,289.5 1735.0,288.4 1735.5,288.8 1736.1,289.1 1736.7,290.0 1737.3,291.2 1737.9,285.8 1738.5,288.2 1739.0,288.3 1739.6,285.5 1740.2,289.0 1740.8,288.1 1741.4,289.0 1742.0,287.3 1742.5,288.4 1743.1,288.8 1743.7,289.8 1744.3,289.0 1744.9,287.7 1745.5,292.9 1746.0,289.9 1746.6,290.4 1747.2,290.3 1747.8,292.9 1748.4,288.7 1749.0,291.2 1749.6,290.3 1750.1,290.8 1750.7,292.6 1751.3,290.7 1751.9,292.9 1752.5,291.5 1753.1,290.5 1753.6,289.9 1754.2,289.8 1754.8,290.0 1755.4,286.4 1756.0,289.0 1756.6,291.5 1757.1,290.4 1757.7,290.3 1758.3,289.4 1758.9,290.0 1759.5,290.2 1760.1,286.1 1760.6,288.5 1761.2,288.9 1761.8,288.6 1762.4,288.3 1763.0,285.6 1763.6,286.9 1764.2,285.7 1764.7,292.1 1765.3,286.5 1765.9,285.2 1766.5,283.5 1767.1,286.4 1767.7,288.9 1768.2,285.1 1768.8,286.8 1769.4,288.5 1770.0,286.4 1770.6,283.6 1771.2,283.2 1771.7,283.8 1772.3,286.4 1772.9,280.6 1773.5,286.3 1774.1,284.4 1774.7,286.4 1775.2,281.9 1775.8,283.2 1776.4,282.4 1777.0,283.5 1777.6,283.7 1778.2,283.2 1778.8,286.4 1779.3,281.8 1779.9,281.8 1780.5,283.8 1781.1,283.1 1781.7,282.5 1782.3,280.4 1782.8,282.1 1783.4,282.6 1784.0,283.4 1784.6,284.9 1785.2,283.4 1785.8,282.2 1786.3,282.7 1786.9,282.1 1787.5,280.9 1788.1,281.3 1788.7,281.5 1789.3,280.8 1789.8,281.5 1790.4,281.7 1791.0,280.9 1791.6,284.3 1792.2,279.5 1792.8,283.4 1793.4,280.0 1793.9,281.3 1794.5,279.5 1795.1,281.1 1795.7,282.6 1796.3,279.3 1796.9,280.7 1797.4,280.7 1798.0,280.7 1798.6,279.3 1799.2,279.5 1799.8,280.4 1800.4,283.1 1800.9,281.3 1801.5,280.5 1802.1,277.8 1802.7,280.0 1803.3,280.7 1803.9,278.7 1804.4,280.7 1805.0,280.6 1805.6,280.3 1806.2,282.9 1806.8,279.0 1807.4,279.8 1808.0,281.0 1808.5,282.3 1809.1,280.2 1809.7,278.4 1810.3,281.6 1810.9,282.3 1811.5,280.0 1812.0,283.2 1812.6,284.2 1813.2,281.4 1813.8,281.8 1814.4,281.2 1815.0,281.7 1815.5,280.3 1816.1,281.2 1816.7,281.9 1817.3,281.7 1817.9,280.0 1818.5,279.6 1819.0,279.7 1819.6,280.1 1820.2,286.4 1820.8,282.9 1821.4,281.9 1822.0,281.1 1822.6,284.0 1823.1,279.3 1823.7,281.2 1824.3,282.7 1824.9,281.5 1825.5,282.4 1826.1,283.2 1826.6,281.3 1827.2,282.9 1827.8,284.5 1828.4,283.3 1829.0,282.6 1829.6,284.2 1830.1,280.6 1830.7,284.4 1831.3,280.1 1831.9,281.5 1832.5,284.5 1833.1,283.0 1833.6,281.4 1834.2,283.7 1834.8,285.4 1835.4,283.5" stroke="#62cd14" stroke-width="3.8"/>
<polyline points="83.4,250.4 84.0,250.2 84.6,251.4 85.2,252.7 85.7,252.3 86.3,253.6 86.9,252.3 87.5,250.8 88.1,254.1 88.7,254.8 89.2,253.6 89.8,254.3 90.4,255.2 91.0,257.4 91.6,256.6 92.2,256.1 92.7,260.0 93.3,259.3 93.9,262.3 94.5,262.1 95.1,263.8 95.7,262.1 96.2,264.6 96.8,263.1 97.4,264.2 98.0,265.8 98.6,270.5 99.2,268.7 99.8,269.2 100.3,270.4 100.9,274.6 101.5,274.5 102.1,277.0 102.7,278.4 103.3,277.1 103.8,281.8 104.4,282.2 105.0,282.4 105.6,286.3 106.2,287.1 106.8,288.2 107.3,289.7 107.9,293.1 108.5,292.5 109.1,291.9 109.7,297.8 110.3,295.4 110.8,298.0 111.4,300.5 112.0,297.8 112.6,301.1 113.2,305.6 113.8,305.1 114.4,305.7 114.9,308.5 115.5,308.7 116.1,311.4 116.7,311.9 117.3,312.3 117.9,317.2 118.4,317.4 119.0,320.0 119.6,320.6 120.2,324.1 120.8,324.5 121.4,325.1 121.9,324.5 122.5,325.3 123.1,330.3 123.7,330.7 124.3,329.6 124.9,334.9 125.4,333.6 126.0,334.1 126.6,332.9 127.2,334.6 127.8,336.9 128.4,337.4 129.0,337.6 129.5,334.9 130.1,337.9 130.7,337.6 131.3,336.3 131.9,336.8 132.5,336.5 133.0,337.5 133.6,335.3 134.2,335.4 134.8,332.3 135.4,332.5 136.0,332.9 136.5,331.2 137.1,332.2 137.7,329.3 138.3,330.3 138.9,328.7 139.5,330.8 140.0,327.3 140.6,329.6 141.2,329.1 141.8,325.3 142.4,325.2 143.0,322.3 143.6,317.9 144.1,321.5 144.7,320.0 145.3,317.4 145.9,315.7 146.5,315.3 147.1,313.9 147.6,310.9 148.2,309.6 148.8,310.3 149.4,307.1 150.0,305.2 150.6,305.2 151.1,301.5 151.7,301.5 152.3,297.0 152.9,296.7 153.5,295.3 154.1,294.8 154.6,292.6 155.2,294.0 155.8,291.2 156.4,287.3 157.0,289.8 157.6,283.6 158.2,286.2 158.7,280.8 159.3,281.9 159.9,277.9 160.5,277.4 161.1,278.6 161.7,272.7 162.2,270.9 162.8,271.7 163.4,270.4 164.0,268.7 164.6,268.4 165.2,263.6 165.7,264.7 166.3,262.5 166.9,262.3 167.5,260.9 168.1,260.8 168.7,255.9 169.2,257.4 169.8,254.8 170.4,255.6 171.0,256.0 171.6,254.8 172.2,254.6 172.8,253.1 173.3,253.2 173.9,252.5 174.5,253.7 175.1,252.3 175.7,248.0 176.3,251.2 176.8,251.4 177.4,248.8 178.0,246.6 178.6,250.7 179.2,248.2 179.8,248.5 180.3,249.8 180.9,245.5 181.5,246.4 182.1,246.0 182.7,247.2 183.3,245.2 183.8,246.9 184.4,246.5 185.0,248.4 185.6,249.0 186.2,245.5 186.8,249.1 187.4,248.5 187.9,249.7 188.5,251.0 189.1,251.8 189.7,250.6 190.3,252.7 190.9,253.1 191.4,253.5 192.0,252.4 192.6,253.9 193.2,255.1 193.8,257.4 194.4,259.5 194.9,256.6 195.5,257.4 196.1,260.1 196.7,259.9 197.3,260.5 197.9,261.4 198.4,262.5 199.0,265.9 199.6,264.2 200.2,270.0 200.8,268.2 201.4,270.2 202.0,271.1 202.5,271.0 203.1,273.0 203.7,278.5 204.3,280.5 204.9,277.7 205.5,281.5 206.0,280.6 206.6,279.9 207.2,284.4 207.8,285.7 208.4,282.5 209.0,283.3 209.5,284.3 210.1,284.3 210.7,286.1 211.3,287.5 211.9,285.8 212.5,287.4 213.0,288.7 213.6,285.6 214.2,286.8 214.8,286.3 215.4,288.7 216.0,288.4 216.6,289.1 217.1,289.1 217.7,287.6 218.3,289.3 218.9,287.7 219.5,287.9 220.1,285.4 220.6,290.8 221.2,287.3 221.8,288.9 222.4,288.8 223.0,291.1 223.6,289.5 224.1,287.5 224.7,288.7 225.3,288.3 225.9,288.8 226.5,286.3 227.1,288.0 227.6,291.2 228.2,288.6 228.8,290.4 229.4,292.2 230.0,287.6 230.6,284.4 231.2,286.1 231.7,287.7 232.3,287.0 232.9,283.4 233.5,284.6 234.1,284.4 234.7,284.2 235.2,283.7 235.8,282.0 236.4,281.9 237.0,281.7 237.6,282.9 238.2,279.6 238.7,280.5 239.3,276.6 239.9,279.2 240.5,276.2 241.1,274.7 241.7,275.5 242.2,269.3 242.8,268.3 243.4,269.8 244.0,266.4 244.6,265.5 245.2,268.7 245.8,262.7 246.3,261.6 246.9,259.9 247.5,260.2 248.1,257.5 248.7,255.9 249.3,252.4 249.8,252.4 250.4,251.6 251.0,248.0 251.6,250.0 252.2,248.6 252.8,249.7 253.3,243.2 253.9,243.0 254.5,241.9 255.1,241.2 255.7,240.9 256.3,239.6 256.8,239.2 257.4,238.0 258.0,236.5 258.6,233.1 259.2,233.5 259.8,233.3 260.4,233.0 260.9,231.9 261.5,227.3 262.1,227.8 262.7,227.3 263.3,226.8 263.9,226.8 264.4,224.0 265.0,221.3 265.6,222.0 266.2,220.5 266.8,219.2 267.4,217.4 267.9,218.8 268.5,215.3 269.1,215.0 269.7,210.9 270.3,212.1 270.9,208.6 271.4,205.7 272.0,207.2 272.6,206.2 273.2,203.5 273.8,202.3 274.4,202.4 275.0,198.6 275.5,194.6 276.1,196.6 276.7,194.9 277.3,194.7 277.9,190.9 278.5,191.8 279.0,189.9 279.6,184.5 280.2,186.2 280.8,181.3 281.4,178.8 282.0,179.0 282.5,176.6 283.1,172.5 283.7,173.8 284.3,172.2 284.9,171.0 285.5,166.2 286.0,161.3 286.6,159.5 287.2,160.0 287.8,157.5 288.4,154.8 289.0,151.5 289.6,150.3 290.1,147.7 290.7,145.7 291.3,144.9 291.9,142.8 292.5,140.9 293.1,140.1 293.6,138.1 294.2,134.9 294.8,135.9 295.4,135.8 296.0,137.7 296.6,133.6 297.1,136.6 297.7,135.2 298.3,131.3 298.9,131.4 299.5,132.9 300.1,135.8 300.6,134.3 301.2,135.6 301.8,134.6 302.4,133.3 303.0,137.8 303.6,140.8 304.2,143.0 304.7,142.9 305.3,144.8 305.9,148.0 306.5,147.7 307.1,151.4 307.7,149.6 308.2,151.7 308.8,154.0 309.4,158.9 310.0,159.9 310.6,163.5 311.2,166.6 311.7,169.3 312.3,173.8 312.9,177.2 313.5,177.0 314.1,181.7 314.7,184.2 315.2,185.8 315.8,192.8 316.4,193.8 317.0,194.8 317.6,196.8 318.2,200.4 318.8,200.5 319.3,204.1 319.9,208.6 320.5,210.5 321.1,210.2 321.7,213.1 322.3,219.3 322.8,216.8 323.4,220.5 324.0,222.0 324.6,227.4 325.2,229.9 325.8,233.9 326.3,230.8 326.9,237.8 327.5,237.8 328.1,244.0 328.7,245.5 329.3,251.1 329.8,251.8 330.4,252.4 331.0,258.8 331.6,257.9 332.2,261.9 332.8,266.9 333.4,268.9 333.9,271.6 334.5,273.7 335.1,277.2 335.7,280.4 336.3,282.3 336.9,286.0 337.4,289.0 338.0,289.6 338.6,290.7 339.2,297.1 339.8,297.2 340.4,300.7 340.9,303.6 341.5,303.1 342.1,307.6 342.7,306.7 343.3,312.5 343.9,312.8 344.4,315.8 345.0,318.8 345.6,318.9 346.2,322.2 346.8,323.2 347.4,326.3 348.0,329.8 348.5,330.1 349.1,331.4 349.7,331.4 350.3,335.4 350.9,334.8 351.5,338.1 352.0,334.9 352.6,338.2 353.2,339.8 353.8,337.5 354.4,336.1 355.0,340.7 355.5,340.3 356.1,340.1 356.7,341.1 357.3,339.0 357.9,341.2 358.5,341.3 359.0,339.5 359.6,341.9 360.2,340.3 360.8,342.7 361.4,343.4 362.0,344.6 362.6,339.0 363.1,342.8 363.7,342.2 364.3,342.9 364.9,342.9 365.5,343.3 366.1,340.6 366.6,345.4 367.2,346.4 367.8,345.7 368.4,346.3 369.0,343.1 369.6,342.8 370.1,345.1 370.7,345.0 371.3,342.3 371.9,338.4 372.5,343.8 373.1,337.2 373.6,338.3 374.2,333.7 374.8,335.8 375.4,333.6 376.0,334.6 376.6,333.1 377.2,328.7 377.7,329.0 378.3,330.3 378.9,330.5 379.5,331.6 380.1,328.7 380.7,327.6 381.2,327.2 381.8,326.7 382.4,327.8 383.0,325.7 383.6,325.1 384.2,322.5 384.7,321.1 385.3,323.7 385.9,324.1 386.5,322.4 387.1,322.7 387.7,322.4 388.2,320.8 388.8,321.8 389.4,318.7 390.0,319.2 390.6,318.1 391.2,318.2 391.8,318.4 392.3,318.2 392.9,316.4 393.5,316.2 394.1,314.3 394.7,313.9 395.3,315.2 395.8,312.1 396.4,313.4 397.0,311.3 397.6,309.8 398.2,311.6 398.8,307.2 399.3,306.1 399.9,305.5 400.5,304.9 401.1,303.8 401.7,303.7 402.3,301.6 402.8,301.0 403.4,299.0 404.0,300.0 404.6,296.7 405.2,295.8 405.8,295.2 406.4,294.6 406.9,292.0 407.5,294.4 408.1,290.1 408.7,289.4 409.3,288.3 409.9,287.2 410.4,287.8 411.0,286.3 411.6,284.0 412.2,283.5 412.8,283.0 413.4,284.9 413.9,280.8 414.5,279.1 415.1,278.5 415.7,279.0 416.3,281.1 416.9,276.4 417.4,277.4 418.0,280.4 418.6,275.2 419.2,277.4 419.8,276.4 420.4,274.7 421.0,271.0 421.5,272.8 422.1,271.1 422.7,268.0 423.3,267.6 423.9,269.6 424.5,269.2 425.0,270.2 425.6,268.9 426.2,266.7 426.8,266.4 427.4,266.5 428.0,264.8 428.5,267.3 429.1,265.9 429.7,264.5 430.3,264.6 430.9,263.8 431.5,264.9 432.0,266.0 432.6,264.9 433.2,267.1 433.8,268.2 434.4,264.7 435.0,265.8 435.6,265.3 436.1,268.5 436.7,266.5 437.3,267.0 437.9,267.5 438.5,269.8 439.1,266.9 439.6,265.0 440.2,266.0 440.8,267.7 441.4,266.9 442.0,265.8 442.6,271.5 443.1,267.6 443.7,266.8 444.3,267.1 444.9,266.1 445.5,267.9 446.1,270.1 446.6,271.2 447.2,271.6 447.8,275.0 448.4,275.5 449.0,275.3 449.6,274.9 450.2,279.5 450.7,280.5 451.3,281.2 451.9,280.5 452.5,283.9 453.1,282.7 453.7,287.8 454.2,287.8 454.8,289.2 455.4,289.0 456.0,289.9 456.6,295.4 457.2,295.8 457.7,295.2 458.3,298.2 458.9,300.9 459.5,298.3 460.1,300.5 460.7,301.8 461.2,304.6 461.8,303.4 462.4,306.6 463.0,305.7 463.6,309.9 464.2,310.9 464.8,310.1 465.3,312.5 465.9,311.1 466.5,312.4 467.1,314.9 467.7,313.9 468.3,315.0 468.8,313.5 469.4,316.4 470.0,316.5 470.6,314.3 471.2,313.2 471.8,314.0 472.3,317.4 472.9,317.6 473.5,315.9 474.1,318.9 474.7,320.6 475.3,319.2 475.8,319.0 476.4,321.3 477.0,322.9 477.6,322.9 478.2,319.8 478.8,322.3 479.4,321.5 479.9,321.2 480.5,320.7 481.1,322.4 481.7,321.2 482.3,323.5 482.9,322.7 483.4,323.8 484.0,320.4 484.6,322.2 485.2,323.3 485.8,322.7 486.4,322.5 486.9,321.1 487.5,324.7 488.1,323.8 488.7,322.8 489.3,318.2 489.9,320.7 490.4,322.4 491.0,321.1 491.6,318.9 492.2,322.5 492.8,322.8 493.4,320.3 494.0,321.4 494.5,321.1 495.1,323.0 495.7,319.1 496.3,319.5 496.9,321.2 497.5,320.9 498.0,324.9 498.6,320.4 499.2,321.3 499.8,319.8 500.4,318.9 501.0,319.9 501.5,321.4 502.1,317.5 502.7,318.5 503.3,317.2 503.9,316.8 504.5,315.7 505.0,318.0 505.6,311.7 506.2,312.5 506.8,310.4 507.4,308.4 508.0,310.8 508.6,313.0 509.1,311.0 509.7,310.8 510.3,309.0 510.9,307.4 511.5,309.9 512.1,305.4 512.6,307.5 513.2,303.9 513.8,303.7 514.4,303.2 515.0,302.1 515.6,302.1 516.1,301.6 516.7,302.6 517.3,299.4 517.9,296.0 518.5,295.3 519.1,296.0 519.6,296.7 520.2,298.7 520.8,295.3 521.4,297.7 522.0,297.8 522.6,298.3 523.2,297.8 523.7,298.9 524.3,298.6 524.9,300.4 525.5,299.6 526.1,295.8 526.7,299.9 527.2,300.6 527.8,299.8 528.4,300.1 529.0,303.4 529.6,302.5 530.2,301.3 530.7,302.9 531.3,303.7 531.9,302.1 532.5,306.2 533.1,305.7 533.7,307.4 534.2,305.1 534.8,311.6 535.4,310.9 536.0,312.0 536.6,311.6 537.2,313.3 537.8,313.7 538.3,320.1 538.9,318.3 539.5,321.7 540.1,324.1 540.7,324.0 541.3,328.0 541.8,331.6 542.4,330.7 543.0,334.4 543.6,334.9 544.2,335.3 544.8,337.4 545.3,337.4 545.9,342.4 546.5,346.6 547.1,347.7 547.7,350.2 548.3,353.1 548.8,353.0 549.4,357.2 550.0,362.0 550.6,360.7 551.2,365.0 551.8,367.4 552.4,371.1 552.9,373.7 553.5,378.1 554.1,379.8 554.7,384.7 555.3,388.3 555.9,391.9 556.4,398.4 557.0,400.0 557.6,403.6 558.2,406.3 558.8,412.0 559.4,410.5 559.9,415.9 560.5,421.0 561.1,424.7 561.7,425.4 562.3,428.0 562.9,432.1 563.4,434.0 564.0,438.4 564.6,440.0 565.2,445.6 565.8,448.4 566.4,451.0 567.0,452.9 567.5,463.7 568.1,468.9 568.7,476.1 569.3,480.7 569.9,491.1 570.5,497.4 571.0,503.8 571.6,512.1 572.2,518.8 572.8,525.2 573.4,535.0 574.0,541.2 574.5,546.6 575.1,552.3 575.7,558.7 576.3,566.1 576.9,568.0 577.5,569.3 578.0,572.8 578.6,577.0 579.2,581.2 579.8,581.7 580.4,586.3 581.0,589.8 581.6,591.6 582.1,590.1 582.7,593.9 583.3,594.0 583.9,597.8 584.5,596.5 585.1,599.5 585.6,599.0 586.2,594.6 586.8,596.7 587.4,597.7 588.0,595.6 588.6,593.3 589.1,589.9 589.7,590.4 590.3,590.0 590.9,585.1 591.5,581.9 592.1,578.9 592.6,574.0 593.2,572.7 593.8,568.9 594.4,569.0 595.0,562.8 595.6,557.5 596.2,555.8 596.7,552.5 597.3,548.3 597.9,540.9 598.5,540.1 599.1,533.4 599.7,526.2 600.2,518.2 600.8,511.5 601.4,501.2 602.0,492.5 602.6,482.2 603.2,473.1 603.7,465.6 604.3,455.5 604.9,446.8 605.5,443.3 606.1,436.4 606.7,429.6 607.2,427.1 607.8,420.0 608.4,416.7 609.0,407.7 609.6,399.8 610.2,393.7 610.8,390.3 611.3,381.6 611.9,375.2 612.5,367.7 613.1,358.0 613.7,355.1 614.3,344.1 614.8,338.6 615.4,329.1 616.0,323.7 616.6,317.6 617.2,308.5 617.8,300.1 618.3,293.3 618.9,284.6 619.5,278.2 620.1,272.6 620.7,259.7 621.3,251.5 621.8,243.6 622.4,234.8 623.0,224.4 623.6,218.2 624.2,210.7 624.8,202.8 625.4,194.0 625.9,191.5 626.5,181.1 627.1,177.7 627.7,172.3 628.3,162.7 628.9,159.2 629.4,155.7 630.0,149.1 630.6,142.3 631.2,137.6 631.8,136.1 632.4,131.2 632.9,127.6 633.5,126.9 634.1,122.5 634.7,120.3 635.3,118.3 635.9,115.6 636.4,112.1 637.0,109.7 637.6,108.3 638.2,105.9 638.8,101.5 639.4,101.1 640.0,98.5 640.5,96.6 641.1,96.5 641.7,93.1 642.3,97.5 642.9,94.7 643.5,96.6 644.0,93.6 644.6,94.4 645.2,100.9 645.8,100.3 646.4,98.9 647.0,100.0 647.5,101.5 648.1,104.4 648.7,105.3 649.3,106.8 649.9,109.9 650.5,110.2 651.0,117.5 651.6,115.1 652.2,119.9 652.8,119.1 653.4,123.6 654.0,127.9 654.6,129.8 655.1,136.2 655.7,141.1 656.3,147.3 656.9,150.3 657.5,155.2 658.1,160.1 658.6,167.8 659.2,171.7 659.8,179.1 660.4,184.8 661.0,189.0 661.6,193.5 662.1,201.2 662.7,206.8 663.3,212.6 663.9,218.2 664.5,225.7 665.1,228.6 665.6,236.6 666.2,240.8 666.8,248.1 667.4,251.1 668.0,255.6 668.6,260.8 669.2,260.4 669.7,266.1 670.3,267.0 670.9,271.4 671.5,277.1 672.1,279.7 672.7,281.3 673.2,284.8 673.8,287.6 674.4,290.8 675.0,295.8 675.6,295.7 676.2,301.1 676.7,299.1 677.3,302.7 677.9,304.4 678.5,305.1 679.1,305.6 679.7,309.2 680.2,310.5 680.8,309.8 681.4,311.5 682.0,309.7 682.6,305.3 683.2,308.7 683.8,305.1 684.3,307.2 684.9,303.2 685.5,302.6 686.1,300.4 686.7,297.5 687.3,293.5 687.8,293.8 688.4,291.5 689.0,290.8 689.6,285.8 690.2,284.4 690.8,280.0 691.3,278.7 691.9,273.1 692.5,276.1 693.1,270.6 693.7,266.0 694.3,264.9 694.8,262.1 695.4,257.4 696.0,255.0 696.6,248.1 697.2,239.7 697.8,236.7 698.4,235.1 698.9,229.4 699.5,223.3 700.1,215.7 700.7,213.1 701.3,207.5 701.9,199.7 702.4,194.6 703.0,191.6 703.6,188.0 704.2,184.1 704.8,178.4 705.4,176.3 705.9,167.0 706.5,164.5 707.1,158.2 707.7,151.5 708.3,148.1 708.9,147.5 709.4,140.2 710.0,135.8 710.6,135.2 711.2,132.2 711.8,127.8 712.4,127.5 713.0,120.2 713.5,123.8 714.1,119.3 714.7,115.5 715.3,113.1 715.9,110.3 716.5,108.0 717.0,106.8 717.6,103.0 718.2,106.7 718.8,102.1 719.4,102.3 720.0,100.4 720.5,100.1 721.1,102.0 721.7,102.0 722.3,100.4 722.9,102.0 723.5,104.8 724.0,101.9 724.6,103.0 725.2,110.7 725.8,109.8 726.4,108.3 727.0,113.2 727.6,116.3 728.1,119.3 728.7,122.2 729.3,124.1 729.9,127.1 730.5,127.6 731.1,132.2 731.6,135.5 732.2,140.4 732.8,142.7 733.4,148.4 734.0,152.1 734.6,155.1 735.1,161.4 735.7,166.5 736.3,172.1 736.9,178.0 737.5,183.8 738.1,189.5 738.6,193.1 739.2,201.3 739.8,203.0 740.4,210.7 741.0,217.7 741.6,223.2 742.2,229.5 742.7,234.2 743.3,241.7 743.9,244.9 744.5,254.0 745.1,262.4 745.7,266.0 746.2,274.2 746.8,277.5 747.4,282.5 748.0,289.9 748.6,299.7 749.2,305.4 749.7,307.8 750.3,316.2 750.9,322.2 751.5,325.6 752.1,327.8 752.7,333.5 753.2,339.0 753.8,342.1 754.4,345.0 755.0,350.1 755.6,353.7 756.2,354.7 756.8,358.9 757.3,360.0 757.9,362.1 758.5,360.7 759.1,367.9 759.7,369.0 760.3,371.3 760.8,372.5 761.4,373.7 762.0,378.2 762.6,380.7 763.2,383.8 763.8,384.4 764.3,383.5 764.9,385.4 765.5,387.9 766.1,387.5 766.7,387.0 767.3,386.1 767.8,387.5 768.4,386.4 769.0,388.0 769.6,386.0 770.2,380.5 770.8,385.2 771.4,380.9 771.9,378.5 772.5,377.9 773.1,377.0 773.7,374.1 774.3,372.4 774.9,370.8 775.4,371.9 776.0,367.1 776.6,366.0 777.2,363.1 777.8,359.3 778.4,355.9 778.9,352.6 779.5,351.7 780.1,346.4 780.7,342.8 781.3,339.6 781.9,336.0 782.4,335.1 783.0,331.9 783.6,327.0 784.2,326.8 784.8,320.6 785.4,317.8 786.0,313.5 786.5,311.7 787.1,306.3 787.7,300.9 788.3,295.5 788.9,291.5 789.5,289.5 790.0,286.2 790.6,283.8 791.2,278.5 791.8,276.2 792.4,271.5 793.0,266.5 793.5,266.0 794.1,265.1 794.7,260.9 795.3,258.6 795.9,254.9 796.5,247.7 797.0,245.9 797.6,244.8 798.2,237.3 798.8,232.2 799.4,230.5 800.0,226.9 800.6,222.3 801.1,217.6 801.7,213.6 802.3,209.8 802.9,207.3 803.5,205.5 804.1,204.1 804.6,204.5 805.2,207.3 805.8,204.4 806.4,203.2 807.0,203.7 807.6,201.2 808.1,202.7 808.7,203.2 809.3,199.1 809.9,200.1 810.5,200.5 811.1,199.3 811.6,199.0 812.2,200.1 812.8,204.5 813.4,201.9 814.0,201.9 814.6,203.1 815.2,201.8 815.7,200.9 816.3,204.2 816.9,206.1 817.5,202.0 818.1,206.9 818.7,209.1 819.2,207.9 819.8,208.8 820.4,211.7 821.0,210.6 821.6,213.9 822.2,215.9 822.7,215.7 823.3,216.7 823.9,221.2 824.5,222.2 825.1,225.7 825.7,224.2 826.2,233.1 826.8,233.2 827.4,239.0 828.0,242.7 828.6,245.0 829.2,248.3 829.8,251.5 830.3,257.0 830.9,262.8 831.5,267.2 832.1,270.2 832.7,274.9 833.3,278.6 833.8,285.1 834.4,289.2 835.0,293.5 835.6,300.6 836.2,308.1 836.8,312.5 837.3,317.5 837.9,317.3 838.5,325.8 839.1,327.2 839.7,332.8 840.3,335.7 840.8,341.4 841.4,347.6 842.0,352.2 842.6,356.0 843.2,360.1 843.8,365.2 844.4,368.4 844.9,369.7 845.5,378.8 846.1,379.5 846.7,385.1 847.3,387.0 847.9,389.5 848.4,394.3 849.0,396.2 849.6,403.0 850.2,401.7 850.8,407.3 851.4,408.5 851.9,412.4 852.5,419.9 853.1,420.0 853.7,421.3 854.3,421.7 854.9,425.8 855.4,427.5 856.0,431.1 856.6,427.0 857.2,425.7 857.8,426.5 858.4,423.7 859.0,421.8 859.5,413.0 860.1,404.7 860.7,402.0 861.3,395.2 861.9,388.8 862.5,381.2 863.0,366.0 863.6,357.6 864.2,343.6 864.8,331.2 865.4,318.8 866.0,307.6 866.5,295.6 867.1,286.0 867.7,276.6 868.3,266.0 868.9,260.4 869.5,255.5 870.0,250.3 870.6,244.2 871.2,241.7 871.8,236.1 872.4,231.2 873.0,222.4 873.6,214.9 874.1,204.3 874.7,200.9 875.3,190.3 875.9,178.4 876.5,170.9 877.1,162.3 877.6,151.1 878.2,147.4 878.8,143.2 879.4,138.7 880.0,131.4 880.6,126.7 881.1,124.9 881.7,119.9 882.3,113.4 882.9,109.5 883.5,107.9 884.1,102.8 884.6,100.2 885.2,101.8 885.8,97.9 886.4,95.7 887.0,96.9 887.6,99.6 888.2,97.2 888.7,96.4 889.3,96.3 889.9,103.7 890.5,97.8 891.1,105.6 891.7,104.4 892.2,106.2 892.8,109.0 893.4,112.7 894.0,117.3 894.6,117.0 895.2,121.7 895.7,127.4 896.3,122.4 896.9,129.6 897.5,132.1 898.1,141.0 898.7,142.2 899.2,147.2 899.8,152.5 900.4,160.3 901.0,167.6 901.6,171.3 902.2,179.7 902.8,184.0 903.3,186.0 903.9,192.4 904.5,195.8 905.1,200.5 905.7,202.1 906.3,207.9 906.8,214.8 907.4,217.6 908.0,225.5 908.6,229.4 909.2,232.1 909.8,240.0 910.3,242.9 910.9,248.9 911.5,250.8 912.1,252.4 912.7,259.9 913.3,262.0 913.8,267.4 914.4,271.4 915.0,275.4 915.6,275.2 916.2,278.1 916.8,285.8 917.4,292.5 917.9,295.3 918.5,301.9 919.1,305.0 919.7,310.5 920.3,314.8 920.9,318.4 921.4,324.3 922.0,328.0 922.6,334.0 923.2,335.7 923.8,340.8 924.4,342.2 924.9,346.6 925.5,347.9 926.1,350.2 926.7,356.1 927.3,358.2 927.9,361.4 928.4,361.6 929.0,362.7 929.6,366.4 930.2,370.3 930.8,369.0 931.4,374.6 932.0,370.2 932.5,373.4 933.1,376.2 933.7,366.7 934.3,367.2 934.9,369.8 935.5,366.3 936.0,365.2 936.6,362.8 937.2,363.4 937.8,360.3 938.4,356.7 939.0,355.3 939.5,351.9 940.1,351.7 940.7,346.0 941.3,348.7 941.9,344.8 942.5,345.8 943.0,342.2 943.6,335.4 944.2,336.1 944.8,330.8 945.4,328.3 946.0,325.8 946.6,320.2 947.1,315.6 947.7,310.7 948.3,303.9 948.9,299.4 949.5,297.1 950.1,294.0 950.6,289.0 951.2,286.7 951.8,282.4 952.4,277.3 953.0,277.8 953.6,276.9 954.1,274.8 954.7,273.4 955.3,270.9 955.9,268.3 956.5,264.2 957.1,260.8 957.6,255.2 958.2,252.8 958.8,248.2 959.4,245.2 960.0,236.0 960.6,233.0 961.2,226.2 961.7,222.9 962.3,217.1 962.9,215.3 963.5,209.4 964.1,202.1 964.7,204.4 965.2,196.9 965.8,192.4 966.4,190.8 967.0,186.6 967.6,182.3 968.2,181.9 968.7,176.8 969.3,175.5 969.9,172.1 970.5,169.0 971.1,165.4 971.7,162.2 972.2,159.3 972.8,160.0 973.4,152.4 974.0,151.5 974.6,149.9 975.2,149.4 975.8,146.8 976.3,143.7 976.9,142.0 977.5,143.5 978.1,138.0 978.7,133.1 979.3,139.6 979.8,134.2 980.4,134.7 981.0,135.3 981.6,133.0 982.2,137.4 982.8,135.7 983.3,134.2 983.9,137.7 984.5,138.9 985.1,139.1 985.7,141.1 986.3,139.2 986.8,144.5 987.4,143.0 988.0,147.8 988.6,146.2 989.2,149.0 989.8,154.5 990.4,151.8 990.9,155.1 991.5,155.6 992.1,154.1 992.7,160.3 993.3,162.2 993.9,160.3 994.4,164.7 995.0,164.8 995.6,169.2 996.2,173.7 996.8,175.0 997.4,175.6 997.9,178.9 998.5,183.2 999.1,186.0 999.7,189.4 1000.3,193.6 1000.9,193.3 1001.4,200.4 1002.0,206.4 1002.6,209.5 1003.2,211.6 1003.8,215.7 1004.4,220.7 1005.0,225.0 1005.5,227.0 1006.1,232.6 1006.7,234.6 1007.3,233.8 1007.9,238.3 1008.5,239.2 1009.0,240.1 1009.6,243.3 1010.2,246.4 1010.8,245.2 1011.4,249.6 1012.0,253.4 1012.5,253.7 1013.1,256.4 1013.7,260.6 1014.3,261.3 1014.9,264.0 1015.5,269.3 1016.0,268.8 1016.6,271.4 1017.2,274.0 1017.8,278.3 1018.4,278.4 1019.0,280.1 1019.6,281.8 1020.1,285.7 1020.7,284.5 1021.3,288.9 1021.9,288.5 1022.5,287.1 1023.1,291.4 1023.6,292.1 1024.2,290.6 1024.8,293.9 1025.4,294.7 1026.0,294.8 1026.6,294.3 1027.1,300.4 1027.7,298.9 1028.3,299.8 1028.9,300.5 1029.5,300.6 1030.1,301.0 1030.6,299.4 1031.2,301.5 1031.8,299.9 1032.4,299.4 1033.0,301.0 1033.6,299.3 1034.2,296.4 1034.7,297.9 1035.3,298.8 1035.9,297.0 1036.5,297.5 1037.1,294.6 1037.7,292.6 1038.2,294.2 1038.8,292.0 1039.4,288.7 1040.0,290.0 1040.6,287.6 1041.2,288.2 1041.7,286.5 1042.3,284.6 1042.9,278.8 1043.5,280.9 1044.1,278.9 1044.7,276.5 1045.2,273.2 1045.8,269.1 1046.4,266.8 1047.0,260.8 1047.6,260.6 1048.2,255.5 1048.8,254.3 1049.3,250.7 1049.9,251.0 1050.5,246.2 1051.1,243.4 1051.7,240.9 1052.3,241.2 1052.8,233.7 1053.4,233.0 1054.0,230.3 1054.6,227.3 1055.2,224.5 1055.8,220.8 1056.3,220.8 1056.9,217.5 1057.5,213.0 1058.1,210.5 1058.7,208.7 1059.3,206.4 1059.8,204.0 1060.4,200.0 1061.0,195.2 1061.6,195.8 1062.2,188.9 1062.8,187.2 1063.4,186.5 1063.9,182.0 1064.5,183.1 1065.1,181.2 1065.7,178.4 1066.3,175.1 1066.9,173.4 1067.4,172.2 1068.0,169.9 1068.6,172.1 1069.2,166.7 1069.8,168.5 1070.4,166.2 1070.9,164.7 1071.5,164.9 1072.1,164.2 1072.7,162.7 1073.3,160.2 1073.9,158.4 1074.4,157.5 1075.0,159.1 1075.6,158.0 1076.2,157.4 1076.8,154.4 1077.4,157.5 1078.0,151.5 1078.5,153.5 1079.1,153.1 1079.7,150.5 1080.3,148.6 1080.9,148.8 1081.5,146.8 1082.0,147.3 1082.6,144.6 1083.2,143.6 1083.8,144.7 1084.4,141.2 1085.0,142.1 1085.5,141.1 1086.1,141.6 1086.7,139.5 1087.3,136.7 1087.9,138.8 1088.5,134.6 1089.0,133.9 1089.6,132.8 1090.2,135.6 1090.8,131.1 1091.4,128.8 1092.0,129.9 1092.6,127.4 1093.1,130.1 1093.7,124.2 1094.3,125.2 1094.9,121.8 1095.5,125.0 1096.1,120.0 1096.6,120.4 1097.2,117.7 1097.8,119.4 1098.4,117.9 1099.0,112.3 1099.6,116.1 1100.1,114.8 1100.7,113.0 1101.3,113.0 1101.9,108.4 1102.5,106.3 1103.1,108.9 1103.6,109.2 1104.2,103.3 1104.8,102.0 1105.4,101.0 1106.0,99.0 1106.6,100.5 1107.2,97.7 1107.7,97.7 1108.3,95.9 1108.9,90.1 1109.5,90.7 1110.1,84.0 1110.7,85.3 1111.2,84.3 1111.8,79.9 1112.4,76.2 1113.0,76.1 1113.6,76.7 1114.2,72.1 1114.7,68.4 1115.3,69.2 1115.9,67.4 1116.5,62.4 1117.1,61.5 1117.7,61.1 1118.2,57.7 1118.8,56.0 1119.4,52.1 1120.0,50.3 1120.6,46.5 1121.2,45.1 1121.8,46.8 1122.3,41.8 1122.9,39.2 1123.5,37.9 1124.1,34.9 1124.7,35.3 1125.3,33.9 1125.8,29.1 1126.4,30.6 1127.0,30.9 1127.6,24.8 1128.2,26.8 1128.8,25.9 1129.3,27.7 1129.9,27.5 1130.5,27.3 1131.1,26.0 1131.7,24.9 1132.3,29.1 1132.8,24.3 1133.4,27.3 1134.0,27.1 1134.6,24.4 1135.2,26.1 1135.8,29.9 1136.4,26.9 1136.9,34.2 1137.5,36.0 1138.1,40.2 1138.7,42.6 1139.3,50.1 1139.9,53.7 1140.4,64.7 1141.0,71.6 1141.6,85.3 1142.2,95.6 1142.8,102.5 1143.4,114.4 1143.9,123.2 1144.5,128.1 1145.1,139.0 1145.7,148.7 1146.3,154.1 1146.9,164.8 1147.4,168.9 1148.0,176.6 1148.6,187.4 1149.2,195.4 1149.8,202.0 1150.4,210.2 1151.0,219.5 1151.5,224.8 1152.1,236.6 1152.7,241.5 1153.3,248.8 1153.9,255.9 1154.5,262.1 1155.0,271.8 1155.6,276.1 1156.2,284.7 1156.8,292.8 1157.4,301.4 1158.0,308.6 1158.5,313.6 1159.1,323.1 1159.7,329.1 1160.3,335.4 1160.9,343.4 1161.5,350.4 1162.0,360.7 1162.6,368.6 1163.2,371.0 1163.8,377.1 1164.4,380.7 1165.0,387.1 1165.6,389.7 1166.1,394.5 1166.7,398.7 1167.3,402.9 1167.9,406.7 1168.5,410.5 1169.1,413.8 1169.6,415.7 1170.2,421.0 1170.8,420.2 1171.4,425.7 1172.0,426.5 1172.6,430.8 1173.1,433.6 1173.7,432.6 1174.3,438.8 1174.9,442.6 1175.5,443.8 1176.1,445.0 1176.6,442.6 1177.2,446.9 1177.8,446.5 1178.4,449.8 1179.0,447.4 1179.6,446.2 1180.2,443.3 1180.7,445.8 1181.3,441.9 1181.9,440.3 1182.5,440.2 1183.1,436.1 1183.7,433.9 1184.2,434.5 1184.8,427.2 1185.4,424.6 1186.0,423.3 1186.6,421.4 1187.2,413.3 1187.7,411.2 1188.3,405.7 1188.9,400.4 1189.5,398.6 1190.1,391.5 1190.7,388.0 1191.2,382.4 1191.8,377.0 1192.4,371.5 1193.0,364.3 1193.6,360.4 1194.2,355.2 1194.8,349.4 1195.3,342.1 1195.9,337.5 1196.5,330.2 1197.1,322.8 1197.7,316.9 1198.3,309.6 1198.8,304.0 1199.4,293.8 1200.0,289.2 1200.6,285.3 1201.2,281.0 1201.8,272.5 1202.3,270.7 1202.9,266.6 1203.5,261.3 1204.1,256.6 1204.7,250.0 1205.3,247.2 1205.8,238.5 1206.4,237.7 1207.0,229.7 1207.6,227.2 1208.2,217.9 1208.8,217.1 1209.4,213.3 1209.9,208.8 1210.5,205.4 1211.1,206.3 1211.7,202.4 1212.3,201.4 1212.9,196.6 1213.4,194.7 1214.0,193.0 1214.6,191.6 1215.2,189.4 1215.8,188.6 1216.4,185.4 1216.9,183.0 1217.5,187.9 1218.1,184.6 1218.7,184.8 1219.3,183.0 1219.9,185.0 1220.4,183.5 1221.0,184.7 1221.6,181.9 1222.2,182.8 1222.8,183.3 1223.4,182.6 1224.0,183.9 1224.5,186.4 1225.1,183.4 1225.7,184.4 1226.3,185.7 1226.9,184.9 1227.5,185.8 1228.0,190.9 1228.6,192.2 1229.2,190.4 1229.8,192.8 1230.4,198.4 1231.0,201.6 1231.5,203.3 1232.1,205.7 1232.7,210.1 1233.3,210.3 1233.9,215.2 1234.5,218.1 1235.0,218.3 1235.6,224.6 1236.2,227.8 1236.8,231.1 1237.4,235.4 1238.0,241.8 1238.6,245.9 1239.1,252.1 1239.7,253.2 1240.3,260.3 1240.9,268.6 1241.5,272.4 1242.1,276.7 1242.6,282.4 1243.2,285.4 1243.8,291.2 1244.4,299.3 1245.0,303.7 1245.6,310.6 1246.1,313.3 1246.7,318.4 1247.3,319.4 1247.9,328.4 1248.5,336.7 1249.1,339.3 1249.6,342.8 1250.2,349.7 1250.8,353.8 1251.4,357.7 1252.0,361.3 1252.6,366.9 1253.2,372.8 1253.7,374.9 1254.3,381.7 1254.9,386.3 1255.5,392.2 1256.1,395.7 1256.7,397.7 1257.2,405.3 1257.8,406.7 1258.4,409.1 1259.0,414.1 1259.6,416.4 1260.2,421.8 1260.7,421.3 1261.3,425.0 1261.9,429.7 1262.5,436.2 1263.1,438.3 1263.7,438.3 1264.2,440.3 1264.8,445.5 1265.4,446.8 1266.0,452.4 1266.6,454.3 1267.2,456.3 1267.8,457.7 1268.3,462.6 1268.9,460.2 1269.5,460.8 1270.1,465.6 1270.7,466.5 1271.3,464.0 1271.8,465.5 1272.4,467.8 1273.0,462.3 1273.6,462.5 1274.2,462.6 1274.8,457.5 1275.3,459.4 1275.9,459.4 1276.5,456.6 1277.1,456.9 1277.7,454.8 1278.3,451.4 1278.8,451.2 1279.4,449.3 1280.0,444.2 1280.6,443.8 1281.2,442.2 1281.8,441.0 1282.4,439.5 1282.9,436.3 1283.5,436.9 1284.1,432.1 1284.7,434.6 1285.3,431.4 1285.9,431.1 1286.4,427.2 1287.0,423.4 1287.6,419.4 1288.2,419.9 1288.8,415.6 1289.4,412.6 1289.9,409.4 1290.5,406.1 1291.1,400.1 1291.7,398.9 1292.3,392.1 1292.9,388.6 1293.4,386.2 1294.0,383.6 1294.6,381.2 1295.2,373.2 1295.8,375.5 1296.4,368.2 1297.0,367.0 1297.5,365.8 1298.1,364.2 1298.7,357.8 1299.3,353.6 1299.9,354.5 1300.5,350.0 1301.0,344.0 1301.6,341.1 1302.2,334.4 1302.8,334.2 1303.4,328.1 1304.0,326.6 1304.5,317.0 1305.1,317.3 1305.7,315.6 1306.3,308.3 1306.9,304.1 1307.5,296.7 1308.0,296.1 1308.6,291.5 1309.2,286.6 1309.8,281.4 1310.4,280.6 1311.0,275.8 1311.6,273.9 1312.1,272.5 1312.7,269.4 1313.3,267.0 1313.9,266.2 1314.5,260.7 1315.1,262.8 1315.6,256.9 1316.2,255.5 1316.8,255.5 1317.4,255.1 1318.0,252.9 1318.6,250.4 1319.1,248.8 1319.7,248.3 1320.3,246.2 1320.9,247.7 1321.5,245.6 1322.1,247.6 1322.6,243.1 1323.2,243.3 1323.8,243.4 1324.4,240.2 1325.0,240.3 1325.6,245.3 1326.2,240.3 1326.7,242.3 1327.3,238.1 1327.9,235.7 1328.5,240.6 1329.1,239.9 1329.7,240.9 1330.2,240.5 1330.8,240.7 1331.4,240.6 1332.0,245.0 1332.6,242.0 1333.2,247.0 1333.7,246.1 1334.3,245.8 1334.9,247.6 1335.5,251.2 1336.1,251.9 1336.7,252.7 1337.2,253.4 1337.8,252.9 1338.4,258.2 1339.0,257.0 1339.6,258.3 1340.2,260.0 1340.8,261.8 1341.3,261.8 1341.9,265.1 1342.5,266.3 1343.1,268.6 1343.7,268.5 1344.3,276.2 1344.8,273.2 1345.4,277.6 1346.0,279.8 1346.6,283.1 1347.2,286.8 1347.8,286.9 1348.3,290.0 1348.9,291.2 1349.5,297.5 1350.1,296.3 1350.7,301.5 1351.3,305.6 1351.8,309.3 1352.4,312.1 1353.0,315.1 1353.6,316.5 1354.2,318.0 1354.8,320.5 1355.4,324.6 1355.9,324.8 1356.5,327.8 1357.1,327.9 1357.7,327.0 1358.3,330.5 1358.9,333.4 1359.4,336.8 1360.0,337.7 1360.6,339.3 1361.2,336.6 1361.8,340.0 1362.4,339.7 1362.9,341.7 1363.5,341.5 1364.1,340.3 1364.7,344.4 1365.3,344.7 1365.9,346.1 1366.4,344.2 1367.0,348.0 1367.6,348.9 1368.2,350.1 1368.8,350.9 1369.4,348.6 1370.0,345.9 1370.5,352.0 1371.1,349.3 1371.7,350.7 1372.3,352.9 1372.9,351.5 1373.5,351.3 1374.0,351.8 1374.6,347.4 1375.2,353.0 1375.8,349.0 1376.4,348.6 1377.0,349.5 1377.5,347.7 1378.1,346.0 1378.7,346.4 1379.3,345.0 1379.9,343.3 1380.5,346.2 1381.0,339.1 1381.6,336.1 1382.2,336.3 1382.8,334.4 1383.4,336.3 1384.0,332.4 1384.6,331.6 1385.1,329.4 1385.7,324.8 1386.3,325.4 1386.9,322.0 1387.5,322.5 1388.1,317.4 1388.6,314.6 1389.2,313.6 1389.8,311.5 1390.4,305.3 1391.0,308.3 1391.6,306.3 1392.1,304.1 1392.7,299.3 1393.3,296.2 1393.9,297.3 1394.5,297.4 1395.1,295.3 1395.6,291.3 1396.2,292.8 1396.8,287.4 1397.4,285.8 1398.0,286.2 1398.6,283.5 1399.2,281.4 1399.7,278.3 1400.3,280.4 1400.9,275.0 1401.5,275.5 1402.1,274.2 1402.7,270.9 1403.2,269.6 1403.8,269.0 1404.4,268.3 1405.0,265.7 1405.6,260.4 1406.2,258.1 1406.7,258.7 1407.3,256.4 1407.9,257.6 1408.5,255.5 1409.1,253.6 1409.7,254.5 1410.2,253.1 1410.8,250.2 1411.4,249.7 1412.0,249.9 1412.6,246.6 1413.2,246.7 1413.8,243.7 1414.3,244.4 1414.9,244.0 1415.5,242.5 1416.1,242.1 1416.7,242.1 1417.3,241.0 1417.8,238.6 1418.4,238.2 1419.0,236.7 1419.6,241.1 1420.2,238.7 1420.8,238.5 1421.3,237.3 1421.9,238.0 1422.5,237.9 1423.1,235.6 1423.7,236.3 1424.3,238.3 1424.8,234.2 1425.4,234.6 1426.0,236.9 1426.6,234.6 1427.2,237.0 1427.8,234.1 1428.4,236.3 1428.9,237.3 1429.5,236.9 1430.1,237.8 1430.7,236.7 1431.3,237.2 1431.9,238.0 1432.4,239.5 1433.0,245.0 1433.6,239.8 1434.2,243.7 1434.8,241.0 1435.4,240.4 1435.9,242.6 1436.5,244.5 1437.1,245.0 1437.7,245.9 1438.3,247.8 1438.9,249.3 1439.4,251.5 1440.0,250.0 1440.6,253.7 1441.2,254.1 1441.8,257.8 1442.4,259.1 1443.0,261.1 1443.5,261.6 1444.1,262.3 1444.7,264.3 1445.3,266.8 1445.9,268.1 1446.5,265.3 1447.0,269.3 1447.6,270.3 1448.2,268.4 1448.8,269.9 1449.4,271.6 1450.0,273.8 1450.5,270.2 1451.1,273.9 1451.7,274.2 1452.3,275.8 1452.9,278.2 1453.5,278.6 1454.0,276.3 1454.6,276.8 1455.2,278.2 1455.8,280.0 1456.4,280.8 1457.0,279.4 1457.6,281.5 1458.1,278.1 1458.7,277.9 1459.3,275.4 1459.9,278.6 1460.5,280.9 1461.1,281.3 1461.6,285.3 1462.2,280.6 1462.8,279.8 1463.4,277.7 1464.0,277.9 1464.6,277.6 1465.1,277.8 1465.7,276.6 1466.3,274.9 1466.9,278.3 1467.5,276.7 1468.1,277.6 1468.6,272.2 1469.2,272.0 1469.8,272.1 1470.4,274.4 1471.0,271.5 1471.6,271.1 1472.2,269.2 1472.7,267.9 1473.3,264.7 1473.9,263.9 1474.5,259.5 1475.1,258.0 1475.7,256.3 1476.2,253.5 1476.8,251.7 1477.4,247.4 1478.0,246.8 1478.6,243.5 1479.2,242.2 1479.7,241.5 1480.3,235.2 1480.9,235.8 1481.5,230.4 1482.1,228.2 1482.7,228.7 1483.2,224.8 1483.8,221.3 1484.4,218.8 1485.0,216.3 1485.6,210.1 1486.2,208.3 1486.8,203.8 1487.3,201.4 1487.9,196.5 1488.5,194.3 1489.1,189.2 1489.7,184.3 1490.3,181.1 1490.8,177.9 1491.4,174.9 1492.0,169.0 1492.6,164.8 1493.2,161.9 1493.8,159.0 1494.3,153.1 1494.9,146.2 1495.5,146.8 1496.1,142.0 1496.7,138.2 1497.3,139.0 1497.8,131.1 1498.4,128.8 1499.0,121.9 1499.6,121.0 1500.2,118.4 1500.8,114.1 1501.4,110.1 1501.9,107.9 1502.5,103.8 1503.1,102.7 1503.7,97.7 1504.3,93.1 1504.9,88.2 1505.4,87.3 1506.0,85.2 1506.6,80.8 1507.2,78.1 1507.8,74.2 1508.4,72.3 1508.9,71.6 1509.5,68.5 1510.1,66.4 1510.7,64.3 1511.3,62.9 1511.9,63.1 1512.4,63.8 1513.0,60.2 1513.6,61.1 1514.2,56.7 1514.8,55.8 1515.4,57.6 1516.0,53.3 1516.5,52.6 1517.1,53.6 1517.7,51.3 1518.3,51.4 1518.9,56.9 1519.5,54.1 1520.0,56.1 1520.6,57.2 1521.2,57.7 1521.8,61.6 1522.4,62.8 1523.0,64.6 1523.5,66.1 1524.1,67.3 1524.7,71.9 1525.3,74.1 1525.9,74.5 1526.5,78.5 1527.0,80.7 1527.6,87.0 1528.2,87.8 1528.8,89.7 1529.4,90.9 1530.0,94.1 1530.6,93.8 1531.1,97.6 1531.7,99.9 1532.3,102.5 1532.9,104.3 1533.5,109.5 1534.1,110.6 1534.6,116.4 1535.2,123.0 1535.8,130.3 1536.4,137.4 1537.0,144.6 1537.6,152.6 1538.1,160.9 1538.7,167.1 1539.3,175.1 1539.9,180.2 1540.5,189.0 1541.1,199.3 1541.6,201.1 1542.2,210.5 1542.8,220.5 1543.4,227.5 1544.0,237.2 1544.6,241.0 1545.2,251.5 1545.7,262.4 1546.3,266.7 1546.9,275.7 1547.5,279.5 1548.1,291.4 1548.7,300.1 1549.2,303.0 1549.8,309.7 1550.4,315.3 1551.0,323.1 1551.6,324.0 1552.2,326.8 1552.7,337.1 1553.3,336.7 1553.9,343.7 1554.5,343.2 1555.1,350.2 1555.7,355.0 1556.2,356.6 1556.8,360.9 1557.4,366.0 1558.0,367.2 1558.6,372.1 1559.2,377.1 1559.8,374.2 1560.3,381.1 1560.9,384.7 1561.5,386.3 1562.1,392.4 1562.7,395.0 1563.3,396.5 1563.8,399.3 1564.4,400.9 1565.0,401.5 1565.6,406.0 1566.2,406.3 1566.8,407.5 1567.3,411.2 1567.9,409.8 1568.5,411.9 1569.1,408.6 1569.7,409.2 1570.3,409.3 1570.8,410.6 1571.4,407.3 1572.0,407.6 1572.6,403.9 1573.2,403.8 1573.8,403.3 1574.4,398.9 1574.9,397.5 1575.5,397.8 1576.1,393.2 1576.7,393.7 1577.3,391.8 1577.9,389.3 1578.4,388.9 1579.0,386.5 1579.6,384.0 1580.2,379.2 1580.8,376.9 1581.4,377.2 1581.9,371.7 1582.5,371.6 1583.1,368.2 1583.7,364.6 1584.3,362.6 1584.9,356.3 1585.4,356.8 1586.0,356.0 1586.6,349.1 1587.2,348.7 1587.8,345.2 1588.4,345.9 1589.0,336.0 1589.5,332.5 1590.1,328.8 1590.7,324.7 1591.3,319.7 1591.9,318.7 1592.5,313.5 1593.0,312.6 1593.6,308.6 1594.2,303.3 1594.8,301.4 1595.4,301.3 1596.0,295.8 1596.5,293.9 1597.1,292.1 1597.7,287.3 1598.3,286.0 1598.9,285.3 1599.5,282.1 1600.0,275.3 1600.6,278.4 1601.2,273.7 1601.8,271.5 1602.4,270.0 1603.0,271.8 1603.6,269.4 1604.1,267.8 1604.7,265.8 1605.3,267.2 1605.9,267.2 1606.5,263.0 1607.1,262.0 1607.6,262.4 1608.2,263.3 1608.8,261.1 1609.4,261.0 1610.0,259.3 1610.6,262.2 1611.1,259.7 1611.7,259.8 1612.3,261.1 1612.9,258.9 1613.5,259.1 1614.1,259.9 1614.6,258.7 1615.2,261.8 1615.8,259.9 1616.4,259.5 1617.0,260.1 1617.6,259.3 1618.2,263.4 1618.7,264.5 1619.3,262.3 1619.9,262.6 1620.5,260.6 1621.1,263.6 1621.7,266.7 1622.2,264.7 1622.8,268.0 1623.4,269.7 1624.0,264.0 1624.6,268.4 1625.2,268.8 1625.7,270.0 1626.3,269.2 1626.9,272.7 1627.5,272.5 1628.1,277.3 1628.7,279.2 1629.2,276.2 1629.8,277.5 1630.4,280.5 1631.0,282.4 1631.6,283.9 1632.2,286.7 1632.8,284.7 1633.3,287.6 1633.9,289.3 1634.5,291.0 1635.1,291.5 1635.7,294.1 1636.3,295.5 1636.8,300.4 1637.4,299.6 1638.0,298.9 1638.6,305.1 1639.2,306.4 1639.8,306.6 1640.3,308.3 1640.9,310.6 1641.5,315.7 1642.1,313.9 1642.7,318.0 1643.3,318.6 1643.8,317.5 1644.4,319.8 1645.0,319.1 1645.6,316.3 1646.2,321.0 1646.8,322.1 1647.4,325.5 1647.9,326.1 1648.5,327.6 1649.1,327.6 1649.7,329.4 1650.3,329.5 1650.9,329.6 1651.4,331.6 1652.0,332.9 1652.6,333.5 1653.2,331.2 1653.8,332.4 1654.4,331.4 1654.9,331.8 1655.5,334.4 1656.1,333.1 1656.7,336.7 1657.3,331.0 1657.9,332.9 1658.4,335.1 1659.0,336.5 1659.6,333.9 1660.2,337.0 1660.8,334.8 1661.4,331.8 1662.0,332.1 1662.5,332.2 1663.1,329.0 1663.7,331.1 1664.3,327.9 1664.9,328.0 1665.5,327.4 1666.0,324.1 1666.6,325.1 1667.2,319.3 1667.8,321.9 1668.4,316.5 1669.0,320.1 1669.5,316.1 1670.1,317.7 1670.7,316.7 1671.3,313.2 1671.9,311.1 1672.5,312.8 1673.0,307.6 1673.6,309.3 1674.2,306.4 1674.8,304.5 1675.4,302.7 1676.0,304.9 1676.6,297.9 1677.1,298.0 1677.7,297.9 1678.3,297.2 1678.9,296.6 1679.5,294.3 1680.1,289.6 1680.6,289.3 1681.2,288.8 1681.8,286.2 1682.4,281.1 1683.0,282.4 1683.6,281.0 1684.1,276.1 1684.7,275.5 1685.3,274.1 1685.9,273.1 1686.5,272.5 1687.1,269.8 1687.6,266.6 1688.2,264.0 1688.8,261.0 1689.4,258.7 1690.0,257.2 1690.6,255.3 1691.2,255.4 1691.7,255.5 1692.3,251.4 1692.9,250.6 1693.5,248.8 1694.1,246.8 1694.7,247.1 1695.2,245.6 1695.8,242.8 1696.4,241.2 1697.0,241.3 1697.6,238.4 1698.2,238.4 1698.7,238.6 1699.3,236.0 1699.9,232.1 1700.5,235.2 1701.1,231.4 1701.7,230.2 1702.2,229.2 1702.8,232.1 1703.4,226.9 1704.0,229.1 1704.6,228.9 1705.2,228.1 1705.8,226.1 1706.3,226.2 1706.9,225.8 1707.5,222.8 1708.1,225.3 1708.7,225.1 1709.3,221.7 1709.8,221.3 1710.4,220.2 1711.0,223.2 1711.6,219.5 1712.2,220.2 1712.8,218.0 1713.3,222.7 1713.9,220.5 1714.5,221.4 1715.1,223.8 1715.7,222.8 1716.3,220.4 1716.8,223.5 1717.4,224.6 1718.0,222.8 1718.6,223.4 1719.2,224.3 1719.8,228.0 1720.4,227.8 1720.9,227.0 1721.5,230.7 1722.1,231.9 1722.7,230.4 1723.3,230.3 1723.9,235.6 1724.4,239.2 1725.0,238.8 1725.6,239.7 1726.2,240.0 1726.8,240.6 1727.4,243.7 1727.9,246.5 1728.5,247.1 1729.1,250.9 1729.7,251.5 1730.3,254.4 1730.9,251.1 1731.4,256.0 1732.0,260.6 1732.6,262.9 1733.2,264.1 1733.8,268.2 1734.4,268.9 1735.0,271.2 1735.5,270.9 1736.1,275.1 1736.7,277.9 1737.3,280.9 1737.9,282.6 1738.5,282.8 1739.0,284.9 1739.6,284.5 1740.2,288.9 1740.8,287.8 1741.4,290.6 1742.0,292.6 1742.5,297.3 1743.1,297.6 1743.7,295.8 1744.3,296.2 1744.9,299.5 1745.5,299.9 1746.0,303.0 1746.6,304.2 1747.2,305.9 1747.8,304.5 1748.4,306.6 1749.0,308.6 1749.6,309.8 1750.1,309.3 1750.7,310.7 1751.3,313.5 1751.9,310.5 1752.5,313.8 1753.1,315.2 1753.6,313.9 1754.2,315.5 1754.8,318.2 1755.4,318.1 1756.0,321.5 1756.6,321.5 1757.1,324.7 1757.7,319.8 1758.3,325.2 1758.9,321.5 1759.5,324.0 1760.1,324.4 1760.6,323.1 1761.2,322.1 1761.8,321.3 1762.4,319.1 1763.0,320.8 1763.6,319.4 1764.2,321.1 1764.7,318.3 1765.3,318.4 1765.9,318.5 1766.5,317.0 1767.1,316.1 1767.7,314.7 1768.2,313.4 1768.8,313.9 1769.4,313.3 1770.0,310.0 1770.6,312.9 1771.2,310.2 1771.7,305.7 1772.3,311.2 1772.9,306.7 1773.5,303.2 1774.1,305.4 1774.7,297.2 1775.2,303.9 1775.8,296.0 1776.4,294.2 1777.0,293.7 1777.6,293.9 1778.2,291.4 1778.8,291.9 1779.3,287.8 1779.9,289.4 1780.5,286.7 1781.1,283.4 1781.7,285.3 1782.3,282.8 1782.8,280.5 1783.4,281.5 1784.0,276.2 1784.6,276.1 1785.2,277.6 1785.8,274.0 1786.3,273.8 1786.9,272.4 1787.5,270.1 1788.1,270.2 1788.7,266.5 1789.3,268.2 1789.8,264.7 1790.4,265.5 1791.0,263.4 1791.6,264.9 1792.2,264.2 1792.8,264.5 1793.4,261.1 1793.9,259.9 1794.5,257.4 1795.1,258.0 1795.7,259.1 1796.3,259.2 1796.9,257.7 1797.4,257.9 1798.0,255.0 1798.6,255.4 1799.2,257.9 1799.8,257.3 1800.4,253.8 1800.9,255.2 1801.5,255.9 1802.1,253.6 1802.7,256.0 1803.3,255.8 1803.9,256.1 1804.4,258.5 1805.0,254.0 1805.6,257.3 1806.2,256.3 1806.8,256.6 1807.4,254.3 1808.0,255.5 1808.5,255.4 1809.1,258.0 1809.7,255.5 1810.3,257.7 1810.9,254.9 1811.5,254.8 1812.0,255.4 1812.6,252.2 1813.2,254.6 1813.8,254.6 1814.4,255.7 1815.0,256.9 1815.5,255.9 1816.1,256.6 1816.7,261.5 1817.3,259.1 1817.9,261.2 1818.5,261.9 1819.0,264.0 1819.6,268.1 1820.2,269.3 1820.8,265.9 1821.4,269.5 1822.0,273.3 1822.6,271.7 1823.1,274.1 1823.7,277.8 1824.3,279.9 1824.9,280.2 1825.5,278.6 1826.1,280.4 1826.6,282.0 1827.2,282.3 1827.8,282.9 1828.4,288.1 1829.0,286.1 1829.6,287.6 1830.1,288.8 1830.7,288.2 1831.3,288.1 1831.9,288.8 1832.5,291.1 1833.1,289.9 1833.6,286.3 1834.2,291.4 1834.8,292.6 1835.4,289.6" stroke="#0000ff" stroke-width="3.8"/>
<polyline points="83.4,204.9 83.9,255.3 84.3,229.2 84.8,238.8 85.3,242.6 85.7,248.2 86.2,249.0 86.7,231.9 87.1,239.4 87.6,262.9 88.1,228.7 88.5,269.6 89.0,243.7 89.5,251.8 89.9,239.2 90.4,252.7 90.9,245.0 91.3,262.4 91.8,251.3 92.3,263.0 92.7,241.0 93.2,283.6 93.7,260.5 94.1,273.6 94.6,280.5 95.1,293.4 95.5,281.7 96.0,310.4 96.5,311.0 96.9,284.3 97.4,317.7 97.9,278.2 98.4,303.8 98.8,298.3 99.3,302.2 99.8,298.8 100.2,309.5 100.7,311.5 101.2,308.6 101.6,292.7 102.1,292.0 102.6,290.4 103.0,303.3 103.5,311.5 104.0,332.4 104.4,300.5 104.9,298.0 105.4,315.5 105.8,299.0 106.3,292.6 106.8,309.3 107.2,296.2 107.7,306.7 108.2,335.2 108.6,317.8 109.1,317.1 109.6,304.2 110.0,323.5 110.5,317.7 111.0,325.0 111.4,312.2 111.9,310.7 112.4,298.1 112.8,300.5 113.3,309.1 113.8,307.9 114.2,309.6 114.7,309.4 115.2,289.3 115.6,343.4 116.1,312.7 116.6,305.7 117.0,294.1 117.5,324.6 118.0,304.3 118.4,296.9 118.9,314.7 119.4,334.7 119.8,312.9 120.3,324.3 120.8,298.3 121.2,318.8 121.7,282.1 122.2,304.5 122.6,317.4 123.1,312.9 123.6,320.7 124.0,299.9 124.5,284.3 125.0,307.6 125.4,291.4 125.9,316.9 126.4,299.3 126.8,272.3 127.3,322.3 127.8,285.3 128.3,285.7 128.7,327.7 129.2,321.1 129.7,314.4 130.1,287.0 130.6,306.0 131.1,302.0 131.5,289.4 132.0,297.2 132.5,295.3 132.9,302.5 133.4,282.0 133.9,307.9 134.3,273.4 134.8,300.8 135.3,306.7 135.7,286.1 136.2,288.3 136.7,321.5 137.1,290.4 137.6,311.7 138.1,303.9 138.5,281.0 139.0,303.4 139.5,286.0 139.9,295.8 140.4,263.3 140.9,291.0 141.3,305.6 141.8,304.3 142.3,301.3 142.7,286.8 143.2,288.4 143.7,274.7 144.1,285.7 144.6,286.1 145.1,283.3 145.5,289.4 146.0,283.5 146.5,276.5 146.9,276.4 147.4,294.8 147.9,311.6 148.3,298.2 148.8,283.0 149.3,319.6 149.7,293.3 150.2,280.4 150.7,294.4 151.1,302.0 151.6,262.0 152.1,267.1 152.5,289.7 153.0,267.7 153.5,267.9 153.9,301.4 154.4,254.6 154.9,298.5 155.3,289.0 155.8,300.4 156.3,284.0 156.8,303.2 157.2,284.9 157.7,269.7 158.2,281.6 158.6,288.1 159.1,262.8 159.6,296.5 160.0,270.6 160.5,288.0 161.0,280.7 161.4,283.1 161.9,281.7 162.4,284.1 162.8,294.0 163.3,291.0 163.8,276.8 164.2,284.3 164.7,298.9 165.2,292.4 165.6,292.1 166.1,283.2 166.6,279.8 167.0,281.0 167.5,291.2 168.0,281.8 168.4,300.9 168.9,314.3 169.4,282.5 169.8,304.5 170.3,294.6 170.8,298.1 171.2,272.6 171.7,298.0 172.2,277.3 172.6,287.8 173.1,298.1 173.6,302.7 174.0,274.4 174.5,275.3 175.0,269.9 175.4,255.1 175.9,276.6 176.4,276.4 176.8,281.9 177.3,278.6 177.8,284.9 178.2,292.3 178.7,252.2 179.2,305.5 179.6,276.1 180.1,273.4 180.6,277.3 181.0,292.6 181.5,281.9 182.0,285.5 182.4,293.9 182.9,279.6 183.4,284.5 183.8,286.4 184.3,269.2 184.8,293.2 185.2,272.3 185.7,286.8 186.2,272.3 186.7,277.2 187.1,274.7 187.6,291.5 188.1,288.5 188.5,289.6 189.0,275.2 189.5,267.1 189.9,262.4 190.4,284.2 190.9,276.0 191.3,299.5 191.8,307.7 192.3,288.8 192.7,286.0 193.2,298.2 193.7,301.2 194.1,269.1 194.6,287.5 195.1,299.6 195.5,244.2 196.0,273.8 196.5,280.5 196.9,266.7 197.4,286.5 197.9,254.0 198.3,297.1 198.8,293.9 199.3,277.6 199.7,286.3 200.2,256.1 200.7,297.7 201.1,285.6 201.6,272.2 202.1,267.6 202.5,261.5 203.0,270.5 203.5,244.7 203.9,281.7 204.4,272.6 204.9,263.1 205.3,279.2 205.8,278.8 206.3,281.1 206.7,283.5 207.2,290.1 207.7,282.1 208.1,295.7 208.6,268.9 209.1,296.1 209.5,245.4 210.0,250.3 210.5,258.4 210.9,276.5 211.4,281.5 211.9,256.4 212.3,270.6 212.8,265.3 213.3,282.8 213.7,258.0 214.2,283.6 214.7,270.9 215.2,296.1 215.6,281.1 216.1,265.0 216.6,277.9 217.0,277.7 217.5,260.5 218.0,272.2 218.4,253.8 218.9,302.0 219.4,262.7 219.8,263.4 220.3,291.5 220.8,287.9 221.2,257.7 221.7,284.3 222.2,278.2 222.6,260.9 223.1,273.5 223.6,262.1 224.0,280.5 224.5,264.1 225.0,253.0 225.4,263.3 225.9,298.2 226.4,258.2 226.8,266.2 227.3,279.5 227.8,246.8 228.2,290.9 228.7,239.3 229.2,274.7 229.6,242.9 230.1,265.7 230.6,283.9 231.0,263.1 231.5,259.3 232.0,255.9 232.4,248.0 232.9,276.2 233.4,255.6 233.8,251.6 234.3,266.0 234.8,275.5 235.2,275.4 235.7,249.9 236.2,248.7 236.6,272.5 237.1,279.7 237.6,240.9 238.0,282.3 238.5,256.2 239.0,270.3 239.4,284.2 239.9,255.5 240.4,259.8 240.8,234.6 241.3,221.4 241.8,258.4 242.2,239.4 242.7,238.5 243.2,262.0 243.6,266.8 244.1,227.9 244.6,257.9 245.1,252.0 245.5,255.5 246.0,252.4 246.5,259.1 246.9,237.2 247.4,228.6 247.9,253.5 248.3,268.6 248.8,245.4 249.3,268.9 249.7,254.9 250.2,224.9 250.7,207.1 251.1,236.9 251.6,258.8 252.1,229.3 252.5,276.1 253.0,251.1 253.5,215.7 253.9,227.3 254.4,260.0 254.9,263.8 255.3,223.8 255.8,237.3 256.3,245.3 256.7,228.9 257.2,243.8 257.7,264.3 258.1,220.9 258.6,243.1 259.1,248.1 259.5,252.7 260.0,227.2 260.5,243.1 260.9,220.1 261.4,233.4 261.9,211.7 262.3,234.0 262.8,237.5 263.3,257.4 263.7,243.1 264.2,213.9 264.7,187.3 265.1,243.3 265.6,239.1 266.1,216.8 266.5,213.8 267.0,231.1 267.5,218.4 267.9,244.0 268.4,222.6 268.9,203.0 269.3,190.6 269.8,217.9 270.3,218.5 270.7,206.4 271.2,195.2 271.7,204.0 272.1,222.5 272.6,204.2 273.1,193.7 273.6,219.1 274.0,227.9 274.5,198.0 275.0,199.3 275.4,189.0 275.9,201.8 276.4,212.3 276.8,208.1 277.3,216.3 277.8,213.9 278.2,206.7 278.7,204.3 279.2,178.0 279.6,213.5 280.1,193.9 280.6,201.2 281.0,167.5 281.5,185.6 282.0,194.5 282.4,174.9 282.9,185.6 283.4,193.3 283.8,161.0 284.3,173.3 284.8,156.8 285.2,165.2 285.7,170.8 286.2,180.4 286.6,199.0 287.1,170.5 287.6,180.0 288.0,170.1 288.5,180.5 289.0,190.7 289.4,195.3 289.9,168.3 290.4,158.7 290.8,183.1 291.3,171.2 291.8,156.5 292.2,191.0 292.7,183.0 293.2,195.1 293.6,159.0 294.1,173.3 294.6,184.6 295.0,203.2 295.5,180.2 296.0,161.9 296.4,182.4 296.9,184.6 297.4,168.3 297.8,198.0 298.3,178.3 298.8,170.2 299.2,192.3 299.7,193.7 300.2,177.4 300.6,183.5 301.1,186.4 301.6,180.2 302.0,180.7 302.5,199.4 303.0,196.2 303.5,179.5 303.9,169.9 304.4,167.1 304.9,202.4 305.3,172.9 305.8,179.0 306.3,192.2 306.7,185.0 307.2,180.6 307.7,166.5 308.1,211.7 308.6,186.8 309.1,199.3 309.5,201.4 310.0,181.4 310.5,187.7 310.9,217.7 311.4,207.5 311.9,200.9 312.3,227.9 312.8,193.8 313.3,209.9 313.7,207.7 314.2,206.4 314.7,184.9 315.1,214.0 315.6,221.6 316.1,190.3 316.5,226.6 317.0,228.2 317.5,242.9 317.9,205.6 318.4,219.4 318.9,217.3 319.3,223.0 319.8,228.7 320.3,239.8 320.7,240.7 321.2,222.7 321.7,228.4 322.1,205.7 322.6,243.9 323.1,240.5 323.5,249.6 324.0,213.1 324.5,254.6 324.9,224.1 325.4,214.5 325.9,239.9 326.3,227.2 326.8,272.4 327.3,246.0 327.7,266.6 328.2,238.9 328.7,242.1 329.1,255.0 329.6,229.1 330.1,239.0 330.5,253.4 331.0,253.9 331.5,269.6 332.0,250.2 332.4,215.0 332.9,259.8 333.4,242.8 333.8,258.6 334.3,238.2 334.8,244.5 335.2,255.6 335.7,280.4 336.2,261.3 336.6,235.3 337.1,258.5 337.6,245.5 338.0,263.5 338.5,285.8 339.0,250.8 339.4,253.1 339.9,267.8 340.4,265.3 340.8,255.8 341.3,270.3 341.8,256.4 342.2,265.7 342.7,299.1 343.2,266.3 343.6,274.1 344.1,278.6 344.6,260.1 345.0,274.7 345.5,259.5 346.0,251.6 346.4,267.2 346.9,294.4 347.4,282.5 347.8,257.7 348.3,276.8 348.8,286.2 349.2,276.0 349.7,267.6 350.2,272.3 350.6,267.3 351.1,291.1 351.6,283.6 352.0,284.3 352.5,281.9 353.0,315.3 353.4,287.6 353.9,306.1 354.4,264.9 354.8,263.6 355.3,263.0 355.8,277.9 356.2,299.4 356.7,278.2 357.2,297.6 357.6,286.3 358.1,311.1 358.6,307.5 359.0,292.3 359.5,273.2 360.0,302.3 360.4,267.9 360.9,267.5 361.4,324.9 361.9,306.3 362.3,321.5 362.8,309.7 363.3,316.6 363.7,310.1 364.2,294.9 364.7,296.0 365.1,307.3 365.6,312.1 366.1,311.0 366.5,311.5 367.0,305.2 367.5,314.8 367.9,307.6 368.4,336.5 368.9,304.3 369.3,290.0 369.8,314.9 370.3,340.3 370.7,297.8 371.2,324.4 371.7,355.8 372.1,323.6 372.6,311.2 373.1,315.0 373.5,302.1 374.0,312.1 374.5,320.3 374.9,353.4 375.4,340.3 375.9,320.6 376.3,313.2 376.8,340.1 377.3,333.9 377.7,317.4 378.2,354.8 378.7,355.7 379.1,329.2 379.6,322.0 380.1,333.7 380.5,362.2 381.0,326.3 381.5,347.5 381.9,316.8 382.4,328.7 382.9,323.2 383.3,317.4 383.8,335.7 384.3,314.6 384.7,308.2 385.2,321.5 385.7,307.0 386.1,337.5 386.6,313.5 387.1,323.7 387.5,343.3 388.0,329.2 388.5,336.2 388.9,336.6 389.4,326.7 389.9,311.5 390.4,333.0 390.8,326.1 391.3,350.8 391.8,326.0 392.2,309.3 392.7,314.2 393.2,318.9 393.6,333.9 394.1,340.2 394.6,325.8 395.0,344.4 395.5,341.9 396.0,307.2 396.4,335.3 396.9,292.1 397.4,341.5 397.8,311.6 398.3,335.8 398.8,314.0 399.2,332.0 399.7,314.5 400.2,316.8 400.6,320.6 401.1,305.3 401.6,289.5 402.0,320.4 402.5,297.6 403.0,308.7 403.4,309.7 403.9,276.3 404.4,339.2 404.8,316.7 405.3,332.1 405.8,309.8 406.2,307.8 406.7,270.8 407.2,298.2 407.6,277.3 408.1,283.6 408.6,307.0 409.0,293.7 409.5,276.9 410.0,296.7 410.4,295.6 410.9,291.2 411.4,317.3 411.8,307.6 412.3,292.0 412.8,288.9 413.2,307.3 413.7,299.1 414.2,296.1 414.6,296.0 415.1,284.9 415.6,291.8 416.0,290.6 416.5,309.6 417.0,304.7 417.4,287.5 417.9,310.2 418.4,287.4 418.8,298.1 419.3,299.5 419.8,282.1 420.3,297.2 420.7,299.0 421.2,296.6 421.7,288.1 422.1,262.3 422.6,312.3 423.1,288.6 423.5,291.0 424.0,277.6 424.5,292.4 424.9,314.1 425.4,273.3 425.9,300.4 426.3,288.8 426.8,303.5 427.3,300.4 427.7,293.6 428.2,278.3 428.7,278.5 429.1,294.7 429.6,282.3 430.1,292.1 430.5,286.6 431.0,286.1 431.5,280.9 431.9,294.8 432.4,289.3 432.9,285.4 433.3,286.8 433.8,296.8 434.3,268.4 434.7,293.0 435.2,279.3 435.7,285.5 436.1,274.1 436.6,312.5 437.1,264.8 437.5,290.4 438.0,301.9 438.5,286.6 438.9,262.7 439.4,282.4 439.9,302.1 440.3,293.5 440.8,273.3 441.3,304.2 441.7,290.5 442.2,291.9 442.7,264.2 443.1,292.0 443.6,274.0 444.1,296.6 444.5,298.1 445.0,277.8 445.5,282.2 445.9,308.8 446.4,282.2 446.9,282.3 447.3,296.5 447.8,287.2 448.3,286.8 448.8,295.4 449.2,296.6 449.7,297.6 450.2,293.2 450.6,305.2 451.1,290.8 451.6,307.3 452.0,289.7 452.5,291.6 453.0,302.4 453.4,281.2 453.9,269.1 454.4,276.1 454.8,306.5 455.3,276.9 455.8,288.9 456.2,292.0 456.7,298.3 457.2,291.7 457.6,276.1 458.1,285.8 458.6,296.7 459.0,299.7 459.5,296.9 460.0,285.7 460.4,271.4 460.9,304.5 461.4,292.7 461.8,297.1 462.3,301.4 462.8,288.6 463.2,286.9 463.7,309.2 464.2,305.0 464.6,280.1 465.1,290.0 465.6,287.9 466.0,299.5 466.5,298.2 467.0,288.9 467.4,299.8 467.9,306.7 468.4,294.4 468.8,284.3 469.3,306.2 469.8,282.8 470.2,286.9 470.7,304.6 471.2,294.9 471.6,295.5 472.1,288.1 472.6,287.8 473.0,310.0 473.5,310.6 474.0,284.0 474.4,294.4 474.9,291.1 475.4,292.1 475.8,278.7 476.3,309.6 476.8,283.9 477.2,305.4 477.7,288.2 478.2,281.4 478.7,312.1 479.1,292.1 479.6,299.9 480.1,300.1 480.5,296.5 481.0,308.9 481.5,308.1 481.9,290.0 482.4,288.0 482.9,304.0 483.3,314.1 483.8,271.9 484.3,285.7 484.7,294.2 485.2,309.9 485.7,305.1 486.1,296.0 486.6,309.7 487.1,281.1 487.5,297.8 488.0,295.1 488.5,311.2 488.9,310.1 489.4,308.9 489.9,297.2 490.3,303.5 490.8,304.0 491.3,297.5 491.7,298.7 492.2,284.9 492.7,303.9 493.1,313.3 493.6,302.4 494.1,286.1 494.5,308.9 495.0,302.5 495.5,307.3 495.9,299.0 496.4,300.9 496.9,313.1 497.3,306.9 497.8,294.1 498.3,292.7 498.7,294.9 499.2,295.8 499.7,309.5 500.1,310.1 500.6,296.0 501.1,319.7 501.5,307.5 502.0,327.9 502.5,311.7 502.9,315.7 503.4,321.5 503.9,301.9 504.3,316.9 504.8,313.1 505.3,312.2 505.7,317.9 506.2,294.1 506.7,315.8 507.2,308.5 507.6,325.5 508.1,316.6 508.6,315.3 509.0,315.5 509.5,318.9 510.0,311.2 510.4,295.8 510.9,315.0 511.4,315.5 511.8,318.6 512.3,288.2 512.8,297.1 513.2,309.3 513.7,308.1 514.2,324.2 514.6,318.5 515.1,314.8 515.6,316.3 516.0,327.6 516.5,327.2 517.0,313.3 517.4,316.0 517.9,343.4 518.4,319.4 518.8,306.7 519.3,328.5 519.8,319.2 520.2,338.5 520.7,313.6 521.2,335.8 521.6,337.9 522.1,328.0 522.6,298.7 523.0,332.5 523.5,340.3 524.0,321.8 524.4,325.0 524.9,309.8 525.4,343.0 525.8,347.3 526.3,333.9 526.8,326.9 527.2,327.9 527.7,320.7 528.2,350.2 528.6,343.6 529.1,336.8 529.6,327.1 530.0,332.3 530.5,343.6 531.0,351.7 531.4,332.1 531.9,332.9 532.4,318.7 532.8,348.7 533.3,330.3 533.8,363.4 534.2,357.6 534.7,360.6 535.2,359.6 535.6,365.6 536.1,363.2 536.6,359.1 537.1,364.8 537.5,353.8 538.0,363.4 538.5,363.8 538.9,348.7 539.4,362.9 539.9,366.1 540.3,369.5 540.8,370.1 541.3,365.9 541.7,382.8 542.2,362.8 542.7,359.8 543.1,366.3 543.6,386.4 544.1,400.5 544.5,389.6 545.0,385.0 545.5,379.4 545.9,392.6 546.4,395.9 546.9,377.5 547.3,403.8 547.8,386.4 548.3,390.0 548.7,416.6 549.2,400.5 549.7,411.4 550.1,417.3 550.6,428.9 551.1,427.1 551.5,406.5 552.0,416.7 552.5,410.7 552.9,426.8 553.4,419.8 553.9,420.6 554.3,436.0 554.8,438.6 555.3,416.6 555.7,421.2 556.2,434.7 556.7,427.0 557.1,420.1 557.6,408.8 558.1,440.8 558.5,426.0 559.0,411.4 559.5,436.4 559.9,423.3 560.4,468.2 560.9,429.6 561.3,449.2 561.8,473.6 562.3,448.0 562.7,449.0 563.2,451.3 563.7,455.6 564.1,473.9 564.6,486.9 565.1,488.9 565.6,489.5 566.0,489.9 566.5,505.0 567.0,505.2 567.4,502.7 567.9,514.8 568.4,496.9 568.8,499.4 569.3,535.0 569.8,526.0 570.2,530.8 570.7,525.3 571.2,502.2 571.6,515.6 572.1,512.4 572.6,499.5 573.0,483.2 573.5,491.6 574.0,487.6 574.4,469.9 574.9,472.1 575.4,469.6 575.8,461.8 576.3,481.4 576.8,465.6 577.2,473.1 577.7,452.7 578.2,453.2 578.6,472.1 579.1,443.8 579.6,469.9 580.0,442.0 580.5,450.9 581.0,460.9 581.4,461.5 581.9,450.3 582.4,444.9 582.8,450.4 583.3,434.0 583.8,453.7 584.2,435.9 584.7,433.5 585.2,452.1 585.6,425.3 586.1,440.4 586.6,449.4 587.0,427.8 587.5,420.7 588.0,405.1 588.4,417.3 588.9,392.0 589.4,388.7 589.8,388.9 590.3,382.5 590.8,389.5 591.2,395.9 591.7,378.7 592.2,371.5 592.6,376.2 593.1,378.3 593.6,390.0 594.0,362.0 594.5,362.8 595.0,378.5 595.5,360.1 595.9,350.5 596.4,357.1 596.9,344.5 597.3,342.1 597.8,364.3 598.3,348.3 598.7,336.6 599.2,328.7 599.7,320.1 600.1,354.4 600.6,330.8 601.1,319.3 601.5,311.1 602.0,303.6 602.5,330.9 602.9,322.6 603.4,328.2 603.9,305.2 604.3,327.6 604.8,297.2 605.3,298.3 605.7,301.8 606.2,331.1 606.7,312.4 607.1,294.4 607.6,318.8 608.1,304.0 608.5,301.6 609.0,288.9 609.5,295.6 609.9,295.2 610.4,303.4 610.9,297.5 611.3,298.8 611.8,287.7 612.3,298.6 612.7,282.9 613.2,316.9 613.7,279.7 614.1,296.6 614.6,279.3 615.1,292.0 615.5,281.3 616.0,272.1 616.5,298.0 616.9,288.9 617.4,291.3 617.9,285.4 618.3,308.9 618.8,288.6 619.3,288.7 619.7,295.0 620.2,286.0 620.7,303.5 621.1,262.2 621.6,274.2 622.1,253.5 622.5,290.2 623.0,293.2 623.5,272.3 624.0,298.0 624.4,271.0 624.9,282.7 625.4,276.7 625.8,267.7 626.3,269.6 626.8,243.8 627.2,259.7 627.7,285.1 628.2,253.0 628.6,283.9 629.1,263.4 629.6,280.8 630.0,274.1 630.5,243.9 631.0,268.6 631.4,268.8 631.9,266.8 632.4,262.4 632.8,237.5 633.3,272.5 633.8,272.3 634.2,246.5 634.7,275.4 635.2,257.6 635.6,236.2 636.1,250.7 636.6,256.3 637.0,258.6 637.5,260.4 638.0,255.0 638.4,244.1 638.9,228.0 639.4,230.8 639.8,250.8 640.3,252.1 640.8,231.6 641.2,265.0 641.7,245.2 642.2,242.7 642.6,252.4 643.1,249.9 643.6,230.5 644.0,256.9 644.5,245.8 645.0,241.2 645.4,230.2 645.9,249.1 646.4,214.4 646.8,232.5 647.3,230.9 647.8,231.3 648.2,234.5 648.7,237.7 649.2,207.6 649.6,219.5 650.1,222.7 650.6,206.6 651.0,228.9 651.5,209.6 652.0,216.8 652.4,228.3 652.9,204.7 653.4,234.5 653.9,204.1 654.3,224.0 654.8,205.2 655.3,190.8 655.7,200.8 656.2,215.7 656.7,206.7 657.1,210.2 657.6,220.1 658.1,218.1 658.5,201.2 659.0,193.3 659.5,223.7 659.9,199.4 660.4,190.4 660.9,194.8 661.3,208.9 661.8,180.0 662.3,209.7 662.7,183.2 663.2,169.2 663.7,217.9 664.1,185.6 664.6,183.9 665.1,184.2 665.5,196.8 666.0,189.7 666.5,203.6 666.9,181.8 667.4,175.4 667.9,190.8 668.3,193.4 668.8,186.4 669.3,179.1 669.7,177.3 670.2,178.6 670.7,175.4 671.1,193.3 671.6,205.2 672.1,165.4 672.5,153.7 673.0,191.6 673.5,180.6 673.9,166.8 674.4,157.3 674.9,160.8 675.3,151.7 675.8,169.3 676.3,162.5 676.7,162.1 677.2,173.2 677.7,150.7 678.1,158.3 678.6,153.1 679.1,171.5 679.5,151.9 680.0,179.9 680.5,160.0 680.9,195.6 681.4,178.5 681.9,154.6 682.4,170.5 682.8,161.8 683.3,185.9 683.8,142.7 684.2,155.5 684.7,163.8 685.2,157.6 685.6,158.7 686.1,143.9 686.6,160.1 687.0,182.9 687.5,166.4 688.0,145.5 688.4,155.3 688.9,169.0 689.4,155.5 689.8,162.7 690.3,156.7 690.8,187.2 691.2,178.8 691.7,158.5 692.2,171.6 692.6,164.9 693.1,144.3 693.6,176.3 694.0,170.0 694.5,182.1 695.0,184.3 695.4,178.1 695.9,198.1 696.4,208.1 696.8,162.3 697.3,183.4 697.8,167.8 698.2,182.5 698.7,183.3 699.2,177.4 699.6,177.9 700.1,205.2 700.6,173.8 701.0,204.5 701.5,189.9 702.0,160.7 702.4,194.2 702.9,174.0 703.4,202.7 703.8,191.0 704.3,199.9 704.8,196.3 705.2,214.9 705.7,217.0 706.2,201.4 706.6,228.4 707.1,219.9 707.6,201.0 708.0,219.3 708.5,224.2 709.0,228.3 709.4,212.5 709.9,220.5 710.4,214.6 710.8,220.2 711.3,193.7 711.8,225.6 712.3,247.2 712.7,220.2 713.2,222.7 713.7,221.6 714.1,246.4 714.6,210.4 715.1,227.0 715.5,228.1 716.0,249.9 716.5,223.0 716.9,231.2 717.4,213.0 717.9,237.8 718.3,249.7 718.8,232.2 719.3,247.1 719.7,230.1 720.2,251.2 720.7,239.1 721.1,241.3 721.6,239.6 722.1,246.9 722.5,251.7 723.0,242.5 723.5,250.3 723.9,241.3 724.4,247.9 724.9,275.4 725.3,246.8 725.8,228.1 726.3,243.6 726.7,240.5 727.2,243.3 727.7,256.5 728.1,268.8 728.6,241.1 729.1,238.7 729.5,246.0 730.0,248.6 730.5,249.8 730.9,256.1 731.4,252.8 731.9,256.9 732.3,253.5 732.8,270.6 733.3,267.1 733.7,252.2 734.2,264.4 734.7,289.7 735.1,259.5 735.6,290.6 736.1,237.9 736.5,253.5 737.0,254.6 737.5,271.9 737.9,278.2 738.4,267.2 738.9,264.8 739.3,275.1 739.8,264.1 740.3,258.0 740.8,259.6 741.2,280.2 741.7,294.4 742.2,268.3 742.6,276.7 743.1,263.7 743.6,249.7 744.0,250.0 744.5,266.8 745.0,257.2 745.4,251.0 745.9,270.7 746.4,268.2 746.8,261.5 747.3,272.4 747.8,278.2 748.2,281.4 748.7,272.4 749.2,280.1 749.6,263.1 750.1,276.8 750.6,255.2 751.0,258.2 751.5,287.8 752.0,259.8 752.4,277.7 752.9,256.3 753.4,266.6 753.8,273.3 754.3,264.7 754.8,279.5 755.2,268.8 755.7,268.1 756.2,274.5 756.6,268.1 757.1,284.8 757.6,266.0 758.0,287.3 758.5,265.2 759.0,267.0 759.4,264.2 759.9,279.4 760.4,242.8 760.8,275.4 761.3,270.8 761.8,281.7 762.2,255.5 762.7,278.3 763.2,260.7 763.6,283.9 764.1,268.9 764.6,277.0 765.0,261.4 765.5,276.0 766.0,282.9 766.4,267.1 766.9,286.8 767.4,284.0 767.8,263.3 768.3,294.9 768.8,263.4 769.2,277.3 769.7,283.5 770.2,269.7 770.7,265.1 771.1,279.7 771.6,274.9 772.1,263.2 772.5,263.9 773.0,273.6 773.5,282.2 773.9,284.4 774.4,280.3 774.9,265.2 775.3,266.5 775.8,269.9 776.3,257.0 776.7,277.3 777.2,278.4 777.7,278.6 778.1,251.4 778.6,298.8 779.1,271.0 779.5,269.2 780.0,274.0 780.5,247.1 780.9,261.1 781.4,266.0 781.9,286.0 782.3,269.5 782.8,280.1 783.3,275.3 783.7,273.6 784.2,281.9 784.7,268.8 785.1,257.2 785.6,264.6 786.1,274.6 786.5,300.4 787.0,264.9 787.5,265.4 787.9,280.8 788.4,284.6 788.9,271.5 789.3,289.4 789.8,270.8 790.3,293.5 790.7,292.1 791.2,281.5 791.7,299.4 792.1,282.6 792.6,276.9 793.1,299.3 793.5,273.3 794.0,291.5 794.5,278.9 794.9,283.4 795.4,291.9 795.9,293.3 796.3,307.9 796.8,296.5 797.3,297.9 797.7,269.9 798.2,277.9 798.7,306.7 799.2,281.6 799.6,289.0 800.1,296.7 800.6,287.3 801.0,284.0 801.5,300.8 802.0,298.0 802.4,293.5 802.9,307.8 803.4,294.7 803.8,298.6 804.3,306.5 804.8,309.1 805.2,296.4 805.7,290.4 806.2,297.6 806.6,312.3 807.1,294.1 807.6,301.6 808.0,297.3 808.5,291.2 809.0,316.2 809.4,307.8 809.9,313.7 810.4,317.4 810.8,283.9 811.3,296.8 811.8,329.1 812.2,303.6 812.7,315.5 813.2,295.7 813.6,308.5 814.1,311.9 814.6,308.4 815.0,305.8 815.5,310.2 816.0,313.4 816.4,312.7 816.9,305.3 817.4,324.8 817.8,311.8 818.3,313.4 818.8,317.9 819.2,303.7 819.7,327.8 820.2,317.1 820.6,323.1 821.1,306.8 821.6,319.0 822.0,313.1 822.5,309.4 823.0,332.9 823.4,309.0 823.9,323.4 824.4,317.9 824.8,316.5 825.3,305.9 825.8,307.0 826.2,295.2 826.7,314.2 827.2,322.1 827.6,322.6 828.1,309.2 828.6,298.1 829.1,313.1 829.5,323.9 830.0,313.9 830.5,313.9 830.9,316.1 831.4,324.7 831.9,344.1 832.3,320.5 832.8,300.7 833.3,309.4 833.7,336.5 834.2,309.0 834.7,329.2 835.1,282.3 835.6,301.7 836.1,316.2 836.5,290.7 837.0,307.3 837.5,289.4 837.9,293.7 838.4,305.7 838.9,281.7 839.3,302.2 839.8,267.0 840.3,278.0 840.7,286.6 841.2,291.5 841.7,246.9 842.1,244.9 842.6,273.3 843.1,236.0 843.5,250.2 844.0,251.7 844.5,247.0 844.9,246.1 845.4,223.1 845.9,235.3 846.3,256.1 846.8,206.8 847.3,218.5 847.7,239.4 848.2,228.4 848.7,232.8 849.1,219.5 849.6,213.5 850.1,213.7 850.5,221.9 851.0,222.5 851.5,201.2 851.9,210.8 852.4,181.0 852.9,215.9 853.3,195.2 853.8,202.5 854.3,210.7 854.7,184.0 855.2,197.5 855.7,208.6 856.1,200.6 856.6,183.7 857.1,209.8 857.6,177.9 858.0,185.8 858.5,197.1 859.0,177.3 859.4,172.7 859.9,186.7 860.4,192.3 860.8,172.5 861.3,177.3 861.8,207.4 862.2,199.5 862.7,200.6 863.2,204.1 863.6,218.4 864.1,190.5 864.6,201.8 865.0,203.1 865.5,188.6 866.0,214.3 866.4,209.7 866.9,207.4 867.4,217.8 867.8,215.7 868.3,207.7 868.8,220.9 869.2,208.8 869.7,238.9 870.2,231.6 870.6,255.5 871.1,242.4 871.6,251.8 872.0,228.2 872.5,237.6 873.0,242.1 873.4,227.0 873.9,233.2 874.4,243.3 874.8,261.7 875.3,271.9 875.8,255.2 876.2,260.1 876.7,264.6 877.2,261.0 877.6,278.7 878.1,240.2 878.6,274.0 879.0,268.8 879.5,253.5 880.0,282.5 880.4,249.9 880.9,250.1 881.4,266.9 881.8,277.4 882.3,269.7 882.8,288.5 883.2,244.7 883.7,262.8 884.2,273.8 884.6,276.2 885.1,255.5 885.6,242.3 886.0,281.6 886.5,271.7 887.0,288.8 887.5,253.6 887.9,261.1 888.4,230.2 888.9,265.1 889.3,269.7 889.8,273.8 890.3,250.3 890.7,287.8 891.2,251.6 891.7,259.2 892.1,270.7 892.6,276.9 893.1,246.2 893.5,233.3 894.0,269.6 894.5,254.0 894.9,234.4 895.4,272.3 895.9,266.3 896.3,282.1 896.8,264.5 897.3,263.3 897.7,268.8 898.2,274.1 898.7,288.3 899.1,284.3 899.6,278.1 900.1,250.3 900.5,270.0 901.0,275.8 901.5,249.5 901.9,251.0 902.4,273.6 902.9,271.2 903.3,248.5 903.8,253.3 904.3,273.8 904.7,254.8 905.2,259.1 905.7,238.8 906.1,272.8 906.6,241.9 907.1,249.3 907.5,273.8 908.0,237.5 908.5,239.5 908.9,277.8 909.4,219.8 909.9,273.8 910.3,269.4 910.8,258.5 911.3,239.0 911.7,241.8 912.2,253.2 912.7,227.3 913.1,243.6 913.6,226.0 914.1,208.0 914.5,246.3 915.0,291.4 915.5,257.0 916.0,267.7 916.4,247.1 916.9,246.9 917.4,270.0 917.8,268.6 918.3,253.0 918.8,251.7 919.2,290.2 919.7,231.1 920.2,247.6 920.6,248.3 921.1,242.8 921.6,266.0 922.0,248.9 922.5,229.7 923.0,228.9 923.4,239.8 923.9,252.8 924.4,262.3 924.8,224.5 925.3,238.5 925.8,255.2 926.2,286.1 926.7,263.1 927.2,281.8 927.6,225.6 928.1,244.3 928.6,260.8 929.0,252.5 929.5,205.5 930.0,225.8 930.4,271.3 930.9,249.7 931.4,269.2 931.8,277.9 932.3,244.1 932.8,205.0 933.2,219.1 933.7,246.1 934.2,253.4 934.6,242.9 935.1,227.9 935.6,272.3 936.0,279.4 936.5,212.1 937.0,240.5 937.4,216.5 937.9,240.8 938.4,218.3 938.8,255.5 939.3,235.3 939.8,216.1 940.2,225.3 940.7,251.7 941.2,227.0 941.6,254.7 942.1,268.1 942.6,232.7 943.0,216.5 943.5,226.1 944.0,263.8 944.4,225.1 944.9,228.2 945.4,248.4 945.9,281.8 946.3,221.0 946.8,223.0 947.3,229.7 947.7,269.7 948.2,265.0 948.7,219.4 949.1,222.8 949.6,228.1 950.1,241.2 950.5,229.3 951.0,245.9 951.5,241.5 951.9,251.3 952.4,230.6 952.9,242.5 953.3,217.4 953.8,221.3 954.3,248.8 954.7,200.3 955.2,253.7 955.7,224.8 956.1,212.9 956.6,209.0 957.1,272.0 957.5,213.3 958.0,208.9 958.5,204.6 958.9,270.9 959.4,242.3 959.9,231.4 960.3,237.4 960.8,204.4 961.3,240.8 961.7,205.7 962.2,217.5 962.7,253.9 963.1,245.1 963.6,235.2 964.1,224.5 964.5,207.9 965.0,229.0 965.5,208.8 965.9,253.8 966.4,266.8 966.9,230.6 967.3,215.9 967.8,230.6 968.3,242.2 968.7,215.8 969.2,188.1 969.7,225.1 970.1,236.3 970.6,238.4 971.1,186.9 971.5,223.5 972.0,211.5 972.5,200.4 972.9,203.0 973.4,239.5 973.9,205.2 974.4,207.2 974.8,213.7 975.3,204.2 975.8,232.9 976.2,224.0 976.7,232.2 977.2,208.8 977.6,234.6 978.1,215.5 978.6,242.6 979.0,224.9 979.5,229.3 980.0,224.7 980.4,220.2 980.9,226.0 981.4,226.6 981.8,260.5 982.3,202.4 982.8,234.0 983.2,227.1 983.7,237.8 984.2,204.4 984.6,239.2 985.1,213.4 985.6,201.1 986.0,192.6 986.5,200.9 987.0,211.3 987.4,244.5 987.9,199.1 988.4,200.9 988.8,207.3 989.3,207.9 989.8,221.2 990.2,232.0 990.7,202.8 991.2,199.3 991.6,241.5 992.1,205.9 992.6,218.0 993.0,206.3 993.5,217.5 994.0,202.2 994.4,203.8 994.9,206.4 995.4,247.7 995.8,207.7 996.3,221.8 996.8,243.3 997.2,210.1 997.7,248.0 998.2,206.9 998.6,192.5 999.1,232.6 999.6,206.9 1000.0,215.6 1000.5,212.2 1001.0,248.7 1001.4,213.3 1001.9,222.1 1002.4,211.3 1002.8,224.8 1003.3,205.3 1003.8,220.4 1004.3,213.2 1004.7,201.0 1005.2,222.7 1005.7,208.2 1006.1,222.3 1006.6,217.2 1007.1,236.4 1007.5,213.1 1008.0,205.1 1008.5,229.0 1008.9,213.4 1009.4,220.2 1009.9,248.1 1010.3,222.0 1010.8,204.7 1011.3,237.5 1011.7,261.1 1012.2,225.4 1012.7,240.9 1013.1,195.2 1013.6,230.3 1014.1,229.8 1014.5,241.2 1015.0,225.5 1015.5,240.3 1015.9,246.6 1016.4,231.6 1016.9,245.2 1017.3,207.1 1017.8,252.0 1018.3,232.5 1018.7,243.7 1019.2,256.3 1019.7,201.9 1020.1,269.6 1020.6,205.9 1021.1,257.5 1021.5,230.8 1022.0,191.9 1022.5,270.8 1022.9,257.4 1023.4,209.4 1023.9,230.0 1024.3,243.0 1024.8,233.9 1025.3,250.7 1025.7,231.4 1026.2,206.9 1026.7,240.6 1027.1,231.3 1027.6,212.3 1028.1,198.3 1028.5,244.5 1029.0,228.6 1029.5,244.0 1029.9,245.5 1030.4,241.1 1030.9,245.2 1031.3,264.9 1031.8,269.5 1032.3,246.8 1032.8,231.3 1033.2,211.9 1033.7,243.0 1034.2,236.4 1034.6,221.5 1035.1,219.9 1035.6,235.1 1036.0,233.9 1036.5,199.3 1037.0,238.6 1037.4,241.2 1037.9,261.4 1038.4,224.4 1038.8,236.7 1039.3,197.6 1039.8,237.6 1040.2,216.8 1040.7,214.5 1041.2,201.5 1041.6,254.2 1042.1,202.5 1042.6,230.1 1043.0,231.9 1043.5,235.4 1044.0,236.7 1044.4,235.5 1044.9,270.8 1045.4,219.6 1045.8,227.2 1046.3,244.9 1046.8,228.6 1047.2,185.9 1047.7,219.6 1048.2,232.8 1048.6,194.7 1049.1,238.8 1049.6,226.7 1050.0,233.2 1050.5,226.8 1051.0,208.8 1051.4,210.8 1051.9,233.5 1052.4,222.0 1052.8,217.4 1053.3,225.4 1053.8,218.0 1054.2,229.5 1054.7,228.9 1055.2,214.1 1055.6,232.4 1056.1,205.6 1056.6,215.4 1057.0,227.4 1057.5,220.8 1058.0,217.3 1058.4,210.5 1058.9,204.4 1059.4,209.0 1059.8,219.4 1060.3,177.7 1060.8,185.8 1061.2,198.5 1061.7,182.6 1062.2,192.3 1062.7,201.2 1063.1,194.0 1063.6,154.2 1064.1,176.1 1064.5,174.1 1065.0,197.4 1065.5,179.4 1065.9,150.3 1066.4,180.0 1066.9,168.1 1067.3,163.9 1067.8,173.1 1068.3,156.5 1068.7,177.6 1069.2,172.1 1069.7,189.4 1070.1,139.6 1070.6,171.7 1071.1,173.6 1071.5,151.7 1072.0,180.7 1072.5,171.6 1072.9,182.6 1073.4,168.4 1073.9,173.5 1074.3,157.3 1074.8,166.4 1075.3,172.2 1075.7,165.8 1076.2,161.3 1076.7,165.7 1077.1,141.4 1077.6,143.7 1078.1,149.9 1078.5,168.3 1079.0,140.2 1079.5,165.4 1079.9,141.2 1080.4,141.1 1080.9,148.6 1081.3,150.0 1081.8,145.8 1082.3,102.9 1082.7,135.0 1083.2,132.0 1083.7,112.8 1084.1,118.5 1084.6,107.0 1085.1,137.7 1085.5,133.3 1086.0,81.5 1086.5,113.4 1086.9,114.5 1087.4,105.6 1087.9,91.5 1088.3,119.8 1088.8,96.7 1089.3,98.7 1089.7,86.6 1090.2,91.2 1090.7,98.7 1091.2,101.0 1091.6,119.9 1092.1,71.5 1092.6,102.5 1093.0,85.9 1093.5,56.0 1094.0,81.6 1094.4,65.9 1094.9,74.5 1095.4,60.8 1095.8,67.2 1096.3,71.8 1096.8,47.3 1097.2,64.9 1097.7,75.6 1098.2,61.9 1098.6,50.4 1099.1,67.3 1099.6,44.9 1100.0,43.9 1100.5,28.3 1101.0,55.8 1101.4,41.0 1101.9,62.8 1102.4,48.9 1102.8,42.4 1103.3,38.2 1103.8,41.2 1104.2,40.3 1104.7,43.8 1105.2,41.3 1105.6,34.0 1106.1,31.3 1106.6,30.2 1107.0,27.2 1107.5,25.7 1108.0,48.0 1108.4,38.5 1108.9,35.9 1109.4,39.2 1109.8,27.9 1110.3,30.1 1110.8,35.7 1111.2,34.4 1111.7,28.0 1112.2,37.3 1112.6,37.2 1113.1,31.4 1113.6,33.8 1114.0,30.1 1114.5,34.9 1115.0,33.9 1115.4,38.8 1115.9,40.2 1116.4,37.5 1116.8,44.0 1117.3,37.2 1117.8,36.9 1118.2,40.6 1118.7,43.5 1119.2,42.9 1119.6,48.7 1120.1,49.8 1120.6,50.7 1121.1,58.4 1121.5,62.2 1122.0,67.9 1122.5,73.3 1122.9,80.0 1123.4,89.5 1123.9,97.6 1124.3,115.5 1124.8,123.9 1125.3,133.0 1125.7,146.9 1126.2,153.8 1126.7,161.9 1127.1,165.0 1127.6,169.3 1128.1,172.9 1128.5,179.8 1129.0,187.0 1129.5,188.8 1129.9,192.1 1130.4,194.1 1130.9,206.6 1131.3,204.7 1131.8,214.3 1132.3,212.8 1132.7,218.3 1133.2,223.6 1133.7,228.6 1134.1,236.2 1134.6,245.2 1135.1,249.3 1135.5,253.5 1136.0,262.5 1136.5,267.4 1136.9,274.6 1137.4,272.8 1137.9,280.7 1138.3,285.1 1138.8,288.0 1139.3,292.2 1139.7,293.6 1140.2,288.7 1140.7,291.2 1141.1,286.1 1141.6,283.9 1142.1,304.5 1142.5,290.9 1143.0,278.4 1143.5,266.9 1143.9,313.8 1144.4,313.9 1144.9,290.0 1145.3,300.1 1145.8,308.4 1146.3,291.0 1146.7,305.7 1147.2,324.4 1147.7,296.0 1148.1,294.1 1148.6,287.6 1149.1,283.7 1149.6,293.3 1150.0,298.5 1150.5,303.9 1151.0,316.2 1151.4,300.9 1151.9,282.8 1152.4,287.1 1152.8,269.4 1153.3,297.2 1153.8,317.7 1154.2,284.7 1154.7,282.0 1155.2,309.8 1155.6,315.4 1156.1,293.1 1156.6,286.0 1157.0,309.1 1157.5,299.2 1158.0,304.7 1158.4,309.8 1158.9,311.5 1159.4,293.1 1159.8,299.6 1160.3,303.3 1160.8,325.5 1161.2,272.8 1161.7,306.8 1162.2,296.6 1162.6,309.2 1163.1,290.1 1163.6,314.0 1164.0,293.8 1164.5,297.3 1165.0,283.4 1165.4,308.9 1165.9,303.3 1166.4,298.1 1166.8,268.7 1167.3,313.9 1167.8,291.6 1168.2,303.6 1168.7,291.5 1169.2,287.3 1169.6,293.8 1170.1,292.3 1170.6,292.2 1171.0,303.2 1171.5,298.6 1172.0,316.9 1172.4,300.6 1172.9,305.9 1173.4,299.5 1173.8,287.1 1174.3,291.6 1174.8,290.6 1175.2,282.7 1175.7,326.9 1176.2,291.5 1176.6,297.3 1177.1,298.3 1177.6,313.7 1178.0,290.4 1178.5,283.0 1179.0,284.6 1179.5,298.8 1179.9,289.7 1180.4,286.3 1180.9,275.0 1181.3,282.7 1181.8,296.5 1182.3,297.2 1182.7,296.5 1183.2,295.9 1183.7,305.2 1184.1,289.4 1184.6,308.0 1185.1,309.6 1185.5,295.3 1186.0,307.2 1186.5,303.3 1186.9,326.7 1187.4,290.7 1187.9,301.1 1188.3,302.9 1188.8,295.7 1189.3,299.2 1189.7,311.0 1190.2,277.1 1190.7,308.4 1191.1,290.8 1191.6,280.3 1192.1,311.6 1192.5,302.9 1193.0,314.7 1193.5,291.5 1193.9,309.3 1194.4,319.3 1194.9,289.1 1195.3,294.5 1195.8,317.7 1196.3,291.9 1196.7,304.7 1197.2,277.1 1197.7,286.2 1198.1,315.2 1198.6,312.0 1199.1,320.0 1199.5,307.6 1200.0,309.0 1200.5,300.7 1200.9,309.2 1201.4,329.2 1201.9,321.2 1202.3,293.4 1202.8,297.0 1203.3,314.0 1203.7,314.0 1204.2,314.7 1204.7,312.6 1205.1,334.4 1205.6,302.2 1206.1,322.1 1206.5,312.2 1207.0,344.8 1207.5,311.8 1208.0,298.1 1208.4,343.6 1208.9,296.5 1209.4,310.0 1209.8,325.5 1210.3,336.6 1210.8,302.2 1211.2,313.9 1211.7,310.0 1212.2,321.2 1212.6,328.2 1213.1,307.4 1213.6,330.8 1214.0,307.7 1214.5,340.5 1215.0,331.4 1215.4,338.4 1215.9,303.8 1216.4,342.8 1216.8,335.4 1217.3,313.0 1217.8,318.8 1218.2,294.3 1218.7,299.1 1219.2,314.9 1219.6,314.3 1220.1,346.4 1220.6,334.9 1221.0,328.2 1221.5,326.7 1222.0,342.2 1222.4,336.9 1222.9,336.2 1223.4,312.4 1223.8,320.8 1224.3,330.8 1224.8,330.5 1225.2,323.7 1225.7,336.6 1226.2,331.5 1226.6,350.3 1227.1,320.5 1227.6,317.2 1228.0,325.2 1228.5,324.1 1229.0,326.0 1229.4,305.2 1229.9,328.9 1230.4,348.7 1230.8,345.7 1231.3,323.9 1231.8,319.9 1232.2,324.2 1232.7,323.8 1233.2,332.6 1233.6,354.3 1234.1,345.0 1234.6,359.5 1235.0,342.0 1235.5,354.9 1236.0,337.0 1236.4,340.9 1236.9,364.1 1237.4,330.6 1237.9,330.9 1238.3,358.7 1238.8,339.8 1239.3,333.2 1239.7,346.5 1240.2,332.6 1240.7,341.6 1241.1,331.0 1241.6,342.8 1242.1,347.9 1242.5,339.9 1243.0,337.0 1243.5,344.4 1243.9,353.8 1244.4,358.7 1244.9,354.0 1245.3,357.1 1245.8,347.8 1246.3,348.8 1246.7,352.6 1247.2,352.1 1247.7,350.4 1248.1,333.2 1248.6,338.3 1249.1,361.5 1249.5,349.3 1250.0,359.3 1250.5,356.9 1250.9,359.2 1251.4,364.5 1251.9,374.3 1252.3,387.7 1252.8,355.3 1253.3,343.2 1253.7,370.3 1254.2,352.7 1254.7,364.5 1255.1,356.5 1255.6,370.8 1256.1,363.9 1256.5,362.8 1257.0,392.0 1257.5,359.5 1257.9,364.5 1258.4,393.3 1258.9,355.3 1259.3,364.4 1259.8,361.8 1260.3,360.2 1260.7,370.5 1261.2,379.3 1261.7,371.6 1262.1,371.7 1262.6,338.3 1263.1,343.4 1263.5,373.5 1264.0,372.9 1264.5,363.7 1264.9,360.9 1265.4,377.2 1265.9,381.4 1266.4,344.1 1266.8,355.5 1267.3,389.1 1267.8,391.9 1268.2,380.1 1268.7,366.8 1269.2,362.8 1269.6,374.3 1270.1,390.8 1270.6,367.4 1271.0,362.7 1271.5,370.6 1272.0,377.0 1272.4,363.5 1272.9,371.7 1273.4,385.5 1273.8,370.0 1274.3,388.0 1274.8,359.1 1275.2,365.5 1275.7,384.5 1276.2,369.0 1276.6,355.8 1277.1,399.5 1277.6,373.8 1278.0,350.9 1278.5,392.1 1279.0,374.3 1279.4,390.6 1279.9,373.1 1280.4,402.3 1280.8,393.2 1281.3,379.3 1281.8,370.6 1282.2,367.4 1282.7,366.6 1283.2,357.0 1283.6,362.5 1284.1,361.5 1284.6,383.2 1285.0,372.0 1285.5,338.5 1286.0,339.3 1286.4,357.2 1286.9,357.6 1287.4,353.5 1287.8,370.7 1288.3,339.3 1288.8,368.8 1289.2,364.2 1289.7,334.1 1290.2,388.3 1290.6,355.5 1291.1,381.4 1291.6,366.3 1292.0,357.7 1292.5,359.7 1293.0,351.5 1293.4,362.3 1293.9,352.3 1294.4,365.1 1294.8,353.4 1295.3,365.1 1295.8,337.4 1296.3,361.7 1296.7,334.9 1297.2,348.3 1297.7,345.9 1298.1,325.6 1298.6,338.7 1299.1,363.9 1299.5,331.8 1300.0,367.4 1300.5,333.0 1300.9,340.9 1301.4,353.1 1301.9,333.0 1302.3,337.3 1302.8,306.3 1303.3,337.5 1303.7,305.6 1304.2,312.2 1304.7,337.7 1305.1,339.7 1305.6,311.2 1306.1,329.7 1306.5,325.3 1307.0,330.2 1307.5,342.2 1307.9,330.8 1308.4,338.0 1308.9,345.0 1309.3,328.4 1309.8,300.7 1310.3,302.4 1310.7,324.1 1311.2,321.1 1311.7,315.7 1312.1,303.9 1312.6,317.5 1313.1,328.0 1313.5,326.5 1314.0,305.3 1314.5,288.1 1314.9,328.8 1315.4,348.4 1315.9,308.1 1316.3,320.2 1316.8,316.9 1317.3,300.9 1317.7,317.2 1318.2,336.8 1318.7,345.8 1319.1,317.8 1319.6,333.6 1320.1,312.1 1320.5,334.7 1321.0,320.8 1321.5,337.0 1321.9,320.2 1322.4,321.1 1322.9,305.0 1323.3,293.2 1323.8,315.9 1324.3,325.9 1324.8,282.3 1325.2,306.3 1325.7,302.0 1326.2,301.6 1326.6,287.9 1327.1,294.4 1327.6,299.1 1328.0,297.3 1328.5,322.4 1329.0,318.1 1329.4,309.8 1329.9,306.2 1330.4,307.0 1330.8,302.0 1331.3,306.1 1331.8,312.8 1332.2,331.2 1332.7,292.2 1333.2,295.7 1333.6,318.4 1334.1,296.4 1334.6,297.6 1335.0,302.3 1335.5,331.9 1336.0,321.5 1336.4,311.6 1336.9,276.4 1337.4,314.9 1337.8,306.4 1338.3,318.0 1338.8,307.9 1339.2,294.3 1339.7,331.9 1340.2,334.8 1340.6,288.1 1341.1,297.6 1341.6,307.3 1342.0,282.2 1342.5,281.8 1343.0,329.7 1343.4,299.0 1343.9,278.6 1344.4,306.2 1344.8,300.4 1345.3,280.2 1345.8,299.1 1346.2,313.5 1346.7,305.2 1347.2,315.1 1347.6,285.3 1348.1,321.0 1348.6,277.9 1349.0,319.5 1349.5,292.8 1350.0,316.4 1350.4,298.2 1350.9,277.1 1351.4,275.4 1351.8,272.5 1352.3,294.3 1352.8,291.2 1353.2,289.1 1353.7,283.0 1354.2,299.0 1354.7,275.3 1355.1,287.4 1355.6,274.5 1356.1,284.9 1356.5,281.7 1357.0,303.8 1357.5,298.8 1357.9,312.5 1358.4,296.8 1358.9,294.9 1359.3,278.9 1359.8,311.8 1360.3,255.2 1360.7,293.7 1361.2,271.9 1361.7,275.3 1362.1,327.4 1362.6,295.6 1363.1,268.2 1363.5,327.1 1364.0,279.1 1364.5,305.6 1364.9,298.4 1365.4,287.5 1365.9,320.3 1366.3,287.7 1366.8,300.9 1367.3,302.4 1367.7,279.5 1368.2,253.8 1368.7,285.0 1369.1,281.5 1369.6,291.0 1370.1,301.5 1370.5,285.9 1371.0,265.9 1371.5,286.8 1371.9,275.6 1372.4,293.1 1372.9,252.7 1373.3,315.2 1373.8,279.9 1374.3,280.5 1374.7,284.7 1375.2,306.3 1375.7,306.5 1376.1,292.1 1376.6,286.7 1377.1,307.1 1377.5,304.6 1378.0,278.8 1378.5,271.2 1378.9,296.1 1379.4,298.1 1379.9,298.3 1380.3,249.9 1380.8,278.7 1381.3,287.3 1381.7,270.2 1382.2,249.7 1382.7,267.2 1383.2,307.9 1383.6,286.6 1384.1,291.4 1384.6,290.2 1385.0,303.8 1385.5,290.6 1386.0,301.3 1386.4,278.7 1386.9,283.2 1387.4,306.0 1387.8,310.4 1388.3,290.9 1388.8,272.8 1389.2,275.1 1389.7,283.8 1390.2,318.1 1390.6,290.1 1391.1,293.8 1391.6,287.2 1392.0,301.0 1392.5,288.4 1393.0,291.8 1393.4,244.3 1393.9,269.9 1394.4,283.8 1394.8,281.3 1395.3,282.3 1395.8,277.2 1396.2,286.4 1396.7,280.1 1397.2,263.4 1397.6,266.3 1398.1,274.4 1398.6,258.1 1399.0,275.4 1399.5,294.3 1400.0,306.2 1400.4,289.4 1400.9,279.3 1401.4,271.8 1401.8,260.9 1402.3,286.8 1402.8,290.3 1403.2,265.3 1403.7,258.7 1404.2,284.7 1404.6,271.6 1405.1,255.1 1405.6,271.6 1406.0,277.3 1406.5,309.1 1407.0,255.2 1407.4,265.8 1407.9,273.8 1408.4,283.0 1408.8,295.1 1409.3,276.9 1409.8,276.8 1410.2,257.6 1410.7,293.9 1411.2,251.8 1411.6,273.8 1412.1,255.5 1412.6,289.3 1413.1,268.4 1413.5,254.4 1414.0,271.6 1414.5,296.5 1414.9,278.3 1415.4,264.4 1415.9,294.8 1416.3,295.3 1416.8,268.6 1417.3,287.1 1417.7,261.1 1418.2,290.3 1418.7,300.5 1419.1,283.6 1419.6,247.5 1420.1,284.5 1420.5,270.8 1421.0,266.6 1421.5,285.3 1421.9,252.9 1422.4,267.1 1422.9,262.7 1423.3,296.1 1423.8,297.0 1424.3,304.8 1424.7,272.0 1425.2,272.5 1425.7,257.3 1426.1,245.1 1426.6,272.4 1427.1,272.5 1427.5,261.0 1428.0,243.8 1428.5,280.7 1428.9,257.7 1429.4,271.3 1429.9,272.5 1430.3,254.2 1430.8,279.3 1431.3,283.5 1431.7,255.9 1432.2,266.6 1432.7,270.1 1433.1,267.8 1433.6,257.6 1434.1,271.1 1434.5,252.9 1435.0,258.1 1435.5,241.0 1435.9,244.0 1436.4,250.0 1436.9,266.3 1437.3,260.8 1437.8,271.6 1438.3,224.9 1438.7,264.7 1439.2,251.9 1439.7,238.6 1440.1,280.9 1440.6,271.8 1441.1,264.4 1441.6,273.2 1442.0,276.8 1442.5,264.2 1443.0,235.0 1443.4,243.2 1443.9,253.3 1444.4,252.7 1444.8,278.5 1445.3,240.6 1445.8,244.1 1446.2,267.0 1446.7,245.9 1447.2,251.4 1447.6,255.7 1448.1,262.2 1448.6,256.5 1449.0,259.8 1449.5,236.8 1450.0,237.3 1450.4,237.0 1450.9,244.0 1451.4,246.5 1451.8,206.8 1452.3,267.2 1452.8,217.9 1453.2,230.1 1453.7,233.4 1454.2,241.3 1454.6,235.5 1455.1,249.5 1455.6,251.4 1456.0,230.0 1456.5,253.0 1457.0,212.3 1457.4,206.6 1457.9,258.6 1458.4,245.9 1458.8,215.7 1459.3,215.2 1459.8,215.4 1460.2,209.0 1460.7,202.4 1461.2,198.9 1461.6,182.6 1462.1,208.6 1462.6,193.6 1463.0,230.8 1463.5,205.3 1464.0,220.5 1464.4,177.3 1464.9,160.5 1465.4,186.6 1465.8,213.6 1466.3,192.9 1466.8,188.7 1467.2,184.2 1467.7,168.3 1468.2,168.7 1468.6,217.9 1469.1,159.0 1469.6,186.8 1470.0,186.3 1470.5,153.7 1471.0,178.8 1471.5,194.8 1471.9,192.7 1472.4,169.5 1472.9,154.8 1473.3,144.1 1473.8,169.1 1474.3,172.5 1474.7,138.3 1475.2,169.8 1475.7,138.3 1476.1,156.3 1476.6,155.0 1477.1,161.2 1477.5,151.5 1478.0,162.2 1478.5,164.3 1478.9,154.4 1479.4,161.2 1479.9,144.9 1480.3,147.1 1480.8,151.3 1481.3,149.0 1481.7,148.3 1482.2,116.1 1482.7,142.5 1483.1,150.6 1483.6,144.8 1484.1,128.7 1484.5,141.4 1485.0,139.7 1485.5,140.5 1485.9,132.9 1486.4,128.5 1486.9,126.7 1487.3,158.2 1487.8,148.4 1488.3,166.3 1488.7,117.6 1489.2,112.1 1489.7,108.4 1490.1,125.6 1490.6,109.5 1491.1,127.1 1491.5,128.0 1492.0,149.3 1492.5,137.4 1492.9,134.4 1493.4,111.4 1493.9,100.3 1494.3,132.8 1494.8,120.4 1495.3,122.3 1495.7,138.6 1496.2,153.4 1496.7,139.5 1497.1,150.4 1497.6,134.5 1498.1,132.7 1498.5,134.2 1499.0,134.9 1499.5,126.2 1500.0,148.1 1500.4,122.2 1500.9,160.9 1501.4,136.4 1501.8,132.8 1502.3,151.3 1502.8,164.5 1503.2,133.6 1503.7,154.4 1504.2,135.2 1504.6,137.4 1505.1,150.6 1505.6,152.7 1506.0,140.6 1506.5,151.6 1507.0,172.5 1507.4,158.9 1507.9,155.5 1508.4,162.5 1508.8,164.7 1509.3,171.3 1509.8,172.6 1510.2,185.9 1510.7,194.5 1511.2,160.3 1511.6,186.7 1512.1,176.4 1512.6,202.0 1513.0,180.6 1513.5,195.8 1514.0,153.7 1514.4,201.7 1514.9,202.5 1515.4,177.8 1515.8,176.6 1516.3,222.9 1516.8,191.9 1517.2,184.8 1517.7,215.3 1518.2,190.5 1518.6,208.7 1519.1,216.6 1519.6,209.1 1520.0,212.0 1520.5,226.2 1521.0,177.5 1521.4,216.0 1521.9,221.4 1522.4,200.7 1522.8,214.8 1523.3,196.8 1523.8,220.2 1524.2,213.1 1524.7,218.1 1525.2,218.5 1525.6,225.2 1526.1,225.2 1526.6,202.2 1527.0,236.2 1527.5,235.9 1528.0,234.7 1528.4,223.7 1528.9,227.6 1529.4,221.9 1529.9,254.8 1530.3,234.4 1530.8,242.0 1531.3,245.2 1531.7,240.7 1532.2,271.7 1532.7,242.5 1533.1,246.0 1533.6,269.3 1534.1,252.7 1534.5,231.9 1535.0,260.4 1535.5,248.9 1535.9,262.2 1536.4,272.4 1536.9,275.9 1537.3,270.7 1537.8,249.3 1538.3,257.8 1538.7,280.4 1539.2,258.5 1539.7,275.3 1540.1,284.1 1540.6,269.6 1541.1,288.9 1541.5,298.7 1542.0,260.1 1542.5,303.6 1542.9,271.7 1543.4,300.7 1543.9,280.8 1544.3,283.7 1544.8,287.7 1545.3,312.3 1545.7,284.6 1546.2,284.4 1546.7,297.2 1547.1,286.8 1547.6,273.4 1548.1,298.1 1548.5,286.0 1549.0,306.6 1549.5,286.9 1549.9,284.6 1550.4,262.4 1550.9,283.4 1551.3,291.0 1551.8,278.6 1552.3,312.4 1552.7,285.0 1553.2,307.9 1553.7,309.7 1554.1,286.9 1554.6,299.5 1555.1,285.2 1555.5,323.9 1556.0,301.0 1556.5,312.5 1556.9,309.7 1557.4,332.7 1557.9,294.4 1558.4,304.9 1558.8,321.9 1559.3,327.3 1559.8,321.4 1560.2,291.0 1560.7,312.0 1561.2,315.7 1561.6,305.0 1562.1,312.1 1562.6,309.6 1563.0,303.1 1563.5,309.3 1564.0,302.3 1564.4,331.1 1564.9,314.5 1565.4,320.8 1565.8,315.0 1566.3,317.6 1566.8,326.2 1567.2,322.9 1567.7,305.8 1568.2,326.7 1568.6,336.7 1569.1,312.2 1569.6,307.6 1570.0,325.1 1570.5,320.2 1571.0,333.9 1571.4,325.8 1571.9,308.5 1572.4,313.2 1572.8,322.6 1573.3,328.8 1573.8,347.7 1574.2,321.7 1574.7,320.3 1575.2,312.6 1575.6,300.0 1576.1,322.7 1576.6,315.2 1577.0,343.8 1577.5,312.6 1578.0,317.5 1578.4,311.2 1578.9,320.8 1579.4,324.1 1579.8,310.5 1580.3,339.8 1580.8,322.3 1581.2,316.5 1581.7,342.0 1582.2,347.2 1582.6,325.9 1583.1,330.3 1583.6,324.0 1584.0,323.7 1584.5,343.0 1585.0,328.2 1585.4,317.7 1585.9,337.9 1586.4,337.1 1586.8,348.7 1587.3,322.6 1587.8,307.4 1588.3,352.4 1588.7,323.7 1589.2,321.9 1589.7,341.8 1590.1,339.4 1590.6,348.5 1591.1,345.0 1591.5,332.3 1592.0,325.7 1592.5,333.0 1592.9,323.0 1593.4,331.8 1593.9,350.2 1594.3,314.6 1594.8,317.9 1595.3,343.1 1595.7,309.1 1596.2,326.2 1596.7,330.2 1597.1,305.4 1597.6,362.8 1598.1,351.6 1598.5,319.6 1599.0,331.7 1599.5,340.4 1599.9,306.4 1600.4,319.3 1600.9,342.3 1601.3,333.1 1601.8,312.0 1602.3,298.4 1602.7,348.8 1603.2,317.6 1603.7,325.4 1604.1,343.2 1604.6,321.2 1605.1,340.0 1605.5,325.0 1606.0,295.4 1606.5,309.7 1606.9,305.6 1607.4,307.5 1607.9,310.3 1608.3,301.4 1608.8,329.8 1609.3,318.3 1609.7,301.4 1610.2,322.3 1610.7,317.8 1611.1,295.1 1611.6,290.1 1612.1,318.6 1612.5,320.9 1613.0,301.5 1613.5,305.2 1613.9,317.5 1614.4,299.9 1614.9,300.0 1615.3,305.9 1615.8,275.2 1616.3,287.7 1616.8,294.6 1617.2,291.4 1617.7,273.4 1618.2,289.5 1618.6,313.7 1619.1,299.2 1619.6,302.1 1620.0,310.4 1620.5,298.8 1621.0,298.6 1621.4,302.4 1621.9,307.9 1622.4,289.7 1622.8,322.2 1623.3,289.1 1623.8,299.8 1624.2,295.9 1624.7,331.5 1625.2,276.2 1625.6,322.1 1626.1,310.1 1626.6,289.4 1627.0,306.0 1627.5,303.1 1628.0,327.5 1628.4,302.9 1628.9,293.8 1629.4,287.2 1629.8,300.1 1630.3,292.9 1630.8,289.7 1631.2,304.5 1631.7,305.3 1632.2,268.3 1632.6,306.1 1633.1,277.6 1633.6,293.1 1634.0,273.9 1634.5,302.3 1635.0,286.3 1635.4,288.6 1635.9,295.9 1636.4,288.4 1636.8,302.8 1637.3,293.2 1637.8,297.3 1638.2,281.3 1638.7,292.6 1639.2,310.0 1639.6,295.9 1640.1,291.9 1640.6,302.6 1641.0,272.0 1641.5,284.3 1642.0,278.0 1642.4,299.6 1642.9,294.4 1643.4,275.0 1643.8,307.8 1644.3,283.1 1644.8,286.6 1645.2,294.3 1645.7,286.0 1646.2,301.6 1646.7,283.6 1647.1,302.9 1647.6,303.4 1648.1,266.8 1648.5,295.0 1649.0,314.0 1649.5,271.7 1649.9,295.1 1650.4,316.9 1650.9,284.8 1651.3,271.1 1651.8,278.7 1652.3,259.8 1652.7,284.6 1653.2,274.5 1653.7,296.1 1654.1,279.8 1654.6,260.9 1655.1,274.6 1655.5,279.0 1656.0,307.9 1656.5,285.8 1656.9,298.0 1657.4,269.5 1657.9,289.9 1658.3,274.7 1658.8,293.0 1659.3,253.4 1659.7,294.8 1660.2,276.7 1660.7,247.1 1661.1,275.2 1661.6,289.8 1662.1,269.3 1662.5,263.9 1663.0,265.3 1663.5,303.9 1663.9,273.8 1664.4,305.6 1664.9,250.4 1665.3,275.1 1665.8,282.1 1666.3,266.4 1666.7,268.7 1667.2,291.4 1667.7,252.7 1668.1,278.0 1668.6,298.5 1669.1,255.1 1669.5,253.1 1670.0,256.7 1670.5,266.1 1670.9,285.6 1671.4,260.4 1671.9,247.5 1672.3,261.6 1672.8,250.6 1673.3,283.0 1673.7,258.2 1674.2,259.1 1674.7,292.2 1675.2,293.9 1675.6,281.3 1676.1,270.1 1676.6,264.8 1677.0,274.0 1677.5,271.6 1678.0,272.1 1678.4,269.2 1678.9,262.2 1679.4,263.3 1679.8,270.7 1680.3,266.2 1680.8,275.9 1681.2,258.6 1681.7,276.4 1682.2,246.8 1682.6,269.6 1683.1,265.4 1683.6,279.5 1684.0,273.7 1684.5,266.6 1685.0,268.5 1685.4,277.2 1685.9,284.6 1686.4,268.0 1686.8,266.3 1687.3,260.8 1687.8,251.1 1688.2,272.5 1688.7,295.5 1689.2,270.0 1689.6,293.3 1690.1,285.5 1690.6,253.6 1691.0,259.9 1691.5,276.5 1692.0,276.3 1692.4,268.7 1692.9,291.6 1693.4,260.7 1693.8,272.1 1694.3,241.9 1694.8,281.7 1695.2,253.3 1695.7,276.4 1696.2,252.9 1696.6,280.4 1697.1,256.8 1697.6,272.9 1698.0,278.2 1698.5,268.8 1699.0,260.2 1699.4,261.1 1699.9,244.9 1700.4,255.3 1700.8,299.3 1701.3,272.1 1701.8,294.1 1702.2,271.9 1702.7,258.0 1703.2,285.1 1703.6,282.9 1704.1,264.7 1704.6,270.7 1705.1,245.0 1705.5,262.5 1706.0,259.8 1706.5,243.1 1706.9,274.4 1707.4,267.7 1707.9,281.6 1708.3,264.5 1708.8,254.0 1709.3,249.7 1709.7,269.3 1710.2,278.9 1710.7,280.0 1711.1,289.0 1711.6,268.3 1712.1,251.5 1712.5,303.3 1713.0,301.0 1713.5,251.9 1713.9,293.8 1714.4,267.3 1714.9,289.7 1715.3,261.8 1715.8,262.1 1716.3,270.9 1716.7,262.1 1717.2,273.2 1717.7,266.4 1718.1,249.2 1718.6,259.6 1719.1,284.2 1719.5,286.5 1720.0,278.9 1720.5,279.1 1720.9,275.1 1721.4,284.7 1721.9,267.6 1722.3,276.3 1722.8,272.0 1723.3,277.1 1723.7,268.8 1724.2,294.0 1724.7,255.8 1725.1,273.0 1725.6,271.7 1726.1,269.7 1726.5,263.3 1727.0,268.2 1727.5,275.3 1727.9,281.2 1728.4,301.6 1728.9,276.0 1729.3,283.5 1729.8,283.6 1730.3,248.6 1730.7,305.3 1731.2,278.9 1731.7,263.1 1732.1,266.7 1732.6,262.9 1733.1,297.8 1733.6,293.7 1734.0,271.9 1734.5,284.7 1735.0,257.0 1735.4,277.7 1735.9,278.3 1736.4,275.0 1736.8,285.0 1737.3,279.7 1737.8,290.8 1738.2,282.0 1738.7,288.3 1739.2,278.2 1739.6,301.5 1740.1,302.6 1740.6,275.6 1741.0,279.0 1741.5,295.5 1742.0,285.4 1742.4,296.9 1742.9,254.2 1743.4,304.2 1743.8,258.9 1744.3,294.1 1744.8,276.9 1745.2,286.5 1745.7,288.2 1746.2,270.0 1746.6,271.8 1747.1,287.1 1747.6,295.8 1748.0,254.6 1748.5,263.9 1749.0,281.5 1749.4,287.6 1749.9,279.5 1750.4,282.5 1750.8,267.2 1751.3,297.2 1751.8,283.6 1752.2,294.8 1752.7,265.9 1753.2,259.1 1753.6,285.4 1754.1,276.8 1754.6,264.8 1755.0,288.5 1755.5,297.4 1756.0,270.1 1756.4,277.5 1756.9,287.5 1757.4,264.4 1757.8,281.4 1758.3,309.4 1758.8,280.0 1759.2,285.6 1759.7,258.8 1760.2,285.1 1760.6,287.8 1761.1,278.9 1761.6,281.5 1762.0,304.5 1762.5,283.3 1763.0,289.5 1763.5,265.5 1763.9,254.4 1764.4,300.5 1764.9,298.4 1765.3,296.7 1765.8,294.1 1766.3,294.6 1766.7,284.2 1767.2,269.9 1767.7,303.0 1768.1,306.3 1768.6,310.5 1769.1,269.7 1769.5,266.6 1770.0,306.3 1770.5,307.6 1770.9,283.2 1771.4,269.8 1771.9,270.9 1772.3,282.3 1772.8,275.5 1773.3,280.4 1773.7,292.7 1774.2,258.5 1774.7,285.0 1775.1,300.4 1775.6,291.5 1776.1,306.3 1776.5,284.7 1777.0,269.8 1777.5,302.5 1777.9,269.3 1778.4,255.9 1778.9,279.7 1779.3,301.0 1779.8,296.8 1780.3,289.6 1780.7,302.7 1781.2,302.3 1781.7,288.6 1782.1,287.5 1782.6,276.6 1783.1,301.6 1783.5,259.0 1784.0,270.2 1784.5,272.6 1784.9,294.0 1785.4,260.8 1785.9,289.7 1786.3,259.8 1786.8,270.2 1787.3,297.5 1787.7,291.4 1788.2,259.2 1788.7,271.3 1789.1,287.3 1789.6,282.4 1790.1,282.5 1790.5,296.1 1791.0,288.2 1791.5,294.6 1792.0,291.5 1792.4,279.1 1792.9,298.9 1793.4,275.6 1793.8,284.2 1794.3,275.2 1794.8,273.5 1795.2,268.7 1795.7,277.3 1796.2,276.3 1796.6,288.6 1797.1,278.3 1797.6,298.8 1798.0,289.7 1798.5,276.0 1799.0,287.2 1799.4,280.3 1799.9,301.2 1800.4,267.6 1800.8,294.6 1801.3,281.2 1801.8,287.0 1802.2,273.8 1802.7,292.1 1803.2,300.7 1803.6,313.2 1804.1,291.1 1804.6,303.4 1805.0,279.4 1805.5,266.8 1806.0,317.8 1806.4,304.8 1806.9,282.6 1807.4,269.7 1807.8,282.6 1808.3,282.3 1808.8,279.8 1809.2,278.9 1809.7,264.0 1810.2,278.3 1810.6,304.1 1811.1,293.4 1811.6,283.9 1812.0,298.1 1812.5,290.5 1813.0,294.2 1813.4,296.6 1813.9,277.2 1814.4,292.3 1814.8,302.0 1815.3,296.8 1815.8,286.3 1816.2,257.4 1816.7,283.3 1817.2,266.2 1817.6,280.0 1818.1,316.8 1818.6,281.6 1819.0,298.7 1819.5,305.7 1820.0,301.9 1820.4,261.9 1820.9,308.9 1821.4,295.5 1821.9,270.7 1822.3,277.6 1822.8,310.7 1823.3,288.4 1823.7,294.1 1824.2,289.6 1824.7,276.4 1825.1,294.9 1825.6,291.3 1826.1,266.5 1826.5,312.6 1827.0,292.1 1827.5,280.3 1827.9,304.3 1828.4,295.7 1828.9,305.2 1829.3,284.7 1829.8,295.6 1830.3,275.9 1830.7,272.6 1831.2,286.2 1831.7,292.2 1832.1,283.3 1832.6,286.1 1833.1,303.9 1833.5,271.9 1834.0,283.7 1834.5,275.9 1834.9,305.9 1835.4,274.7" stroke="#ff0000" stroke-width="3.6"/>
</g>
<path d="M1835.8 32.7V534.8" stroke="#000" stroke-width="3.4"/>
<ellipse cx="1839.6" cy="272.4" rx="3.5" ry="4.4" stroke="#000" stroke-width="2" fill="none"/>
<ellipse cx="1836.5" cy="285.9" rx="6.3" ry="5.2" stroke="#000" stroke-width="2" fill="none"/>
<text x="72.3" y="42.8" font-family="Liberation Serif, serif" font-weight="bold" font-size="26" text-anchor="end">40</text>
<text x="72.3" y="105.5" font-family="Liberation Serif, serif" font-weight="bold" font-size="26" text-anchor="end">30</text>
<text x="72.3" y="168.1" font-family="Liberation Serif, serif" font-weight="bold" font-size="26" text-anchor="end">20</text>
<text x="72.3" y="230.8" font-family="Liberation Serif, serif" font-weight="bold" font-size="26" text-anchor="end">10</text>
<text x="72.3" y="293.5" font-family="Liberation Serif, serif" font-weight="bold" font-size="26" text-anchor="end">0</text>
<text x="72.3" y="356.2" font-family="Liberation Serif, serif" font-weight="bold" font-size="26" text-anchor="end">-10</text>
<text x="72.3" y="418.9" font-family="Liberation Serif, serif" font-weight="bold" font-size="26" text-anchor="end">-20</text>
<text x="72.3" y="481.5" font-family="Liberation Serif, serif" font-weight="bold" font-size="26" text-anchor="end">-30</text>
<text x="72.3" y="544.2" font-family="Liberation Serif, serif" font-weight="bold" font-size="26" text-anchor="end">-40</text>
<text x="83.4" y="569.7" font-family="Liberation Serif, serif" font-weight="bold" font-size="26" text-anchor="middle">0</text>
<text x="375.4" y="569.7" font-family="Liberation Serif, serif" font-weight="bold" font-size="26" text-anchor="middle">5</text>
<text x="667.4" y="569.7" font-family="Liberation Serif, serif" font-weight="bold" font-size="26" text-anchor="middle">10</text>
<text x="959.4" y="569.7" font-family="Liberation Serif, serif" font-weight="bold" font-size="26" text-anchor="middle">15</text>
<text x="1251.4" y="569.7" font-family="Liberation Serif, serif" font-weight="bold" font-size="26" text-anchor="middle">20</text>
<text x="1543.4" y="569.7" font-family="Liberation Serif, serif" font-weight="bold" font-size="26" text-anchor="middle">25</text>
<text x="1835.4" y="569.7" font-family="Liberation Serif, serif" font-weight="bold" font-size="26" text-anchor="middle">30</text>
<text x="958.9" y="606" font-family="Liberation Serif, serif" font-weight="bold" font-size="29.5" text-anchor="middle">T(s)</text>
<text transform="translate(22.3 292) rotate(-90)" x="0" y="0" font-family="Liberation Serif, serif" font-weight="bold" font-size="29.5" text-anchor="middle">Angle(deg)</text>
<text x="955.5" y="20.8" font-family="Liberation Serif, serif" font-weight="bold" font-size="29.6" text-anchor="middle">Steering Angle</text>
<rect x="1594.2" y="65.2" width="225.4" height="109.8" fill="none" stroke="#555" stroke-width="2"/>
<path d="M1756.4 84.7L1812.2 83.6" stroke="#ff0000" stroke-width="2"/>
<path d="M1756.4 116.5L1812.2 115.4" stroke="#0000ff" stroke-width="2"/>
<path d="M1755 149.4L1810.7 147.9" stroke="#62cd14" stroke-width="2"/>
<text x="1606.5" y="96.3" font-family="Liberation Serif, serif" font-weight="bold" font-size="26">MPS</text>
<text x="1606.5" y="128.2" font-family="Liberation Serif, serif" font-weight="bold" font-size="26">Pure Pursuit</text>
<text x="1606.5" y="159" font-family="Liberation Serif, serif" font-weight="bold" font-size="26">PID</text>
</svg></body></html>
